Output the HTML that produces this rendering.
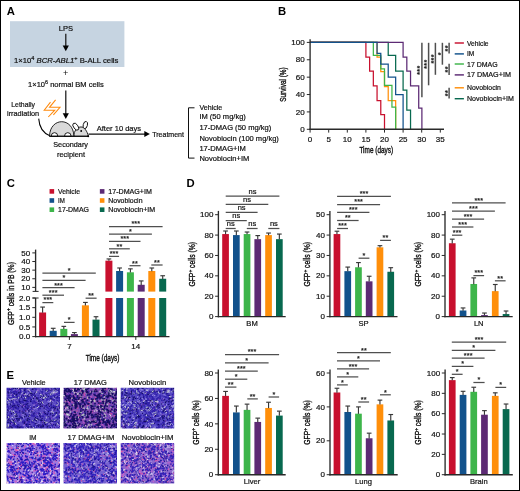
<!DOCTYPE html>
<html><head><meta charset="utf-8"><title>Figure</title>
<style>
html,body{margin:0;padding:0;background:#fff;}
body{width:520px;height:491px;overflow:hidden;position:relative;font-family:"Liberation Sans",sans-serif;}
svg{display:block;}
svg text{font-family:"Liberation Sans",sans-serif;}
#frame{position:absolute;left:0;top:0;width:518px;height:489px;border:1px solid #000;pointer-events:none;}
</style></head><body>
<svg width="520" height="491" viewBox="0 0 520 491">
<defs><filter id="bl" x="-5%" y="-5%" width="110%" height="110%"><feGaussianBlur stdDeviation="0.25"/></filter></defs>
<rect width="520" height="491" fill="#fff"/>
<g opacity="0.999">
<text x="6.80" y="15.10" font-size="11.3" font-weight="bold" fill="#000">A</text>
<rect x="10.00" y="21.20" width="114.40" height="45.80" fill="#c6d4e1"/>
<text x="65.90" y="31.30" font-size="7.5" text-anchor="middle" fill="#111" textLength="14.3" lengthAdjust="spacingAndGlyphs" stroke="#111" stroke-width="0.2">LPS</text>
<line x1="65.80" y1="33.80" x2="65.80" y2="47.70" stroke="#111" stroke-width="1.2"/>
<polygon points="65.80,51.20 62.70,45.60 68.90,45.60" fill="#000"/>
<text x="66.20" y="62.60" font-size="7.5" text-anchor="middle" fill="#111" textLength="104.5" lengthAdjust="spacingAndGlyphs" stroke="#111" stroke-width="0.2">1×10<tspan font-size="5.4" dy="-3.0">4</tspan><tspan dy="3.0"> </tspan><tspan font-style="italic">BCR-ABL1</tspan><tspan font-size="5.4" dy="-3.0">+</tspan><tspan dy="3.0"> B-ALL cells</tspan></text>
<text x="65.60" y="76.40" font-size="9" text-anchor="middle" fill="#111">+</text>
<text x="65.90" y="87.00" font-size="7.5" text-anchor="middle" fill="#111" textLength="75.7" lengthAdjust="spacingAndGlyphs" stroke="#111" stroke-width="0.2">1×10<tspan font-size="5.4" dy="-3.0">6</tspan><tspan dy="3.0"> normal BM cells</tspan></text>
<line x1="65.80" y1="90.40" x2="65.80" y2="115.40" stroke="#111" stroke-width="1.2"/>
<polygon points="65.80,118.90 62.70,113.30 68.90,113.30" fill="#000"/>
<text x="23.10" y="106.80" font-size="7.5" text-anchor="middle" fill="#111" textLength="23.7" lengthAdjust="spacingAndGlyphs" stroke="#111" stroke-width="0.2">Lethally</text>
<text x="23.10" y="115.90" font-size="7.5" text-anchor="middle" fill="#111" textLength="32.2" lengthAdjust="spacingAndGlyphs" stroke="#111" stroke-width="0.2">irradiation</text>
<g fill="none" stroke="#ff8a0d" stroke-width="1.05" stroke-linejoin="miter"><polyline points="50.5,102.1 44.2,110.2 54.7,110.2 48.3,117"/><polyline points="55.6,99.9 49.5,107.3 60,107.3 53.4,114.8"/></g>
<g transform="translate(0 0.25)"><g stroke="#000" stroke-width="0.85" stroke-linejoin="round"><path d="M38.7 118.4 C39.3 127 43 132.8 49.8 135.4" fill="none" stroke-width="1.05"/><ellipse cx="85.3" cy="124.8" rx="2.1" ry="3.7" transform="rotate(15 85.3 124.8)" fill="#fff"/><path d="M73.8 136 C73.8 130.5 77.5 126.7 81 126.7 C84.6 126.9 87.2 131 88.4 136 Z" fill="#d9d9d9"/><path d="M49.5 136 C50 116.6 73.4 116.6 73.9 136 Z" fill="#d9d9d9"/><ellipse cx="75.8" cy="126.4" rx="2.2" ry="4.0" transform="rotate(-36 75.8 126.4)" fill="#fff"/><path d="M51.2 136 A3.3 3.6 0 0 1 57.8 136 Z" fill="#fff"/><path d="M64.5 136 A3.3 3.6 0 0 1 71.1 136 Z" fill="#fff"/></g><circle cx="81.2" cy="130.8" r="0.95" fill="#000"/><circle cx="88.2" cy="135.9" r="1.0" fill="#000"/><line x1="49.3" y1="136" x2="88.5" y2="136" stroke="#000" stroke-width="1.0"/></g>
<text x="70.60" y="147.20" font-size="7.5" text-anchor="middle" fill="#111" textLength="34.7" lengthAdjust="spacingAndGlyphs" stroke="#111" stroke-width="0.2">Secondary</text>
<text x="71.00" y="156.60" font-size="7.5" text-anchor="middle" fill="#111" textLength="28" lengthAdjust="spacingAndGlyphs" stroke="#111" stroke-width="0.2">recipient</text>
<text x="96.70" y="130.70" font-size="7.5" fill="#111" textLength="44.4" lengthAdjust="spacingAndGlyphs" stroke="#111" stroke-width="0.2">After 10 days</text>
<line x1="88.50" y1="134.10" x2="146.00" y2="134.10" stroke="#111" stroke-width="1.2"/>
<polygon points="149.9,134.1 144.3,131.1 144.3,137.1" fill="#000"/>
<text x="152.20" y="136.80" font-size="7.5" fill="#111" textLength="31.8" lengthAdjust="spacingAndGlyphs" stroke="#111" stroke-width="0.2">Treatment</text>
<polyline points="194.5,107.8 188.5,107.8 188.5,158.1 194.5,158.1" fill="none" stroke="#111" stroke-width="1.0"/>
<text x="199.40" y="110.00" font-size="7.5" fill="#111" textLength="22.9" lengthAdjust="spacingAndGlyphs" stroke="#111" stroke-width="0.2">Vehicle</text>
<text x="199.40" y="119.40" font-size="7.5" fill="#111" textLength="46.5" lengthAdjust="spacingAndGlyphs" stroke="#111" stroke-width="0.2">IM (50 mg/kg)</text>
<text x="199.40" y="130.10" font-size="7.5" fill="#111" textLength="71.9" lengthAdjust="spacingAndGlyphs" stroke="#111" stroke-width="0.2">17-DMAG (50 mg/kg)</text>
<text x="199.40" y="140.50" font-size="7.5" fill="#111" textLength="79.5" lengthAdjust="spacingAndGlyphs" stroke="#111" stroke-width="0.2">Novobiocin (100 mg/kg)</text>
<text x="199.40" y="151.10" font-size="7.5" fill="#111" textLength="46.5" lengthAdjust="spacingAndGlyphs" stroke="#111" stroke-width="0.2">17-DMAG+IM</text>
<text x="199.40" y="161.00" font-size="7.5" fill="#111" textLength="49.9" lengthAdjust="spacingAndGlyphs" stroke="#111" stroke-width="0.2">Novobiocin+IM</text>
<text x="278.00" y="15.00" font-size="11.3" font-weight="bold" fill="#000">B</text>
<polyline points="310.10,42.40 377.06,42.40 377.06,57.17 380.78,57.17 380.78,71.51 384.50,71.51 384.50,86.72 388.22,86.72 388.22,100.62 395.66,100.62 395.66,107.58 395.66,107.58 395.66,129.30" fill="none" stroke="#ff8f0a" stroke-width="1.25" stroke-linejoin="miter"/>
<polyline points="310.10,42.40 373.34,42.40 373.34,55.44 380.78,55.44 380.78,68.90 384.50,68.90 384.50,85.42 391.94,85.42 391.94,107.14 395.66,107.14 395.66,129.30" fill="none" stroke="#3db54a" stroke-width="1.25" stroke-linejoin="miter"/>
<polyline points="310.10,42.40 365.90,42.40 365.90,57.17 369.62,57.17 369.62,71.08 373.34,71.08 373.34,85.85 377.06,85.85 377.06,100.62 380.78,100.62 380.78,114.53 384.50,114.53 384.50,129.30" fill="none" stroke="#c8102e" stroke-width="1.25" stroke-linejoin="miter"/>
<polyline points="310.10,42.40 388.22,42.40 388.22,55.44 395.66,55.44 395.66,71.08 403.10,71.08 403.10,90.20 406.82,90.20 406.82,110.18 410.54,110.18 410.54,129.30" fill="none" stroke="#08694f" stroke-width="1.25" stroke-linejoin="miter"/>
<polyline points="310.10,42.40 403.10,42.40 403.10,57.17 406.82,57.17 406.82,71.08 410.54,71.08 410.54,85.85 418.72,85.85 418.72,108.01 421.89,108.01 421.89,129.30" fill="none" stroke="#5c2a74" stroke-width="1.25" stroke-linejoin="miter"/>
<polyline points="310.10,42.40 377.06,42.40 377.06,53.26 380.78,53.26 380.78,64.13 388.22,64.13 388.22,77.16 395.66,77.16 395.66,94.54 403.10,94.54 403.10,129.30" fill="none" stroke="#12528c" stroke-width="1.25" stroke-linejoin="miter"/>
<line x1="310.10" y1="39.20" x2="310.10" y2="130.00" stroke="#2a2a2a" stroke-width="1.35"/>
<line x1="309.40" y1="129.30" x2="444.00" y2="129.30" stroke="#2a2a2a" stroke-width="1.4"/>
<line x1="306.80" y1="129.30" x2="310.10" y2="129.30" stroke="#2a2a2a" stroke-width="1.0"/>
<text x="304.70" y="131.95" font-size="8.0" text-anchor="end" fill="#111" stroke="#111" stroke-width="0.2">0</text>
<line x1="306.80" y1="111.92" x2="310.10" y2="111.92" stroke="#2a2a2a" stroke-width="1.0"/>
<text x="304.70" y="114.57" font-size="8.0" text-anchor="end" fill="#111" stroke="#111" stroke-width="0.2">20</text>
<line x1="306.80" y1="94.54" x2="310.10" y2="94.54" stroke="#2a2a2a" stroke-width="1.0"/>
<text x="304.70" y="97.19" font-size="8.0" text-anchor="end" fill="#111" stroke="#111" stroke-width="0.2">40</text>
<line x1="306.80" y1="77.16" x2="310.10" y2="77.16" stroke="#2a2a2a" stroke-width="1.0"/>
<text x="304.70" y="79.81" font-size="8.0" text-anchor="end" fill="#111" stroke="#111" stroke-width="0.2">60</text>
<line x1="306.80" y1="59.78" x2="310.10" y2="59.78" stroke="#2a2a2a" stroke-width="1.0"/>
<text x="304.70" y="62.43" font-size="8.0" text-anchor="end" fill="#111" stroke="#111" stroke-width="0.2">80</text>
<line x1="306.80" y1="42.40" x2="310.10" y2="42.40" stroke="#2a2a2a" stroke-width="1.0"/>
<text x="304.70" y="45.05" font-size="8.0" text-anchor="end" fill="#111" stroke="#111" stroke-width="0.2">100</text>
<line x1="310.10" y1="129.30" x2="310.10" y2="132.60" stroke="#2a2a2a" stroke-width="1.0"/>
<text x="310.10" y="141.55" font-size="8.0" text-anchor="middle" fill="#111" stroke="#111" stroke-width="0.2">0</text>
<line x1="328.70" y1="129.30" x2="328.70" y2="132.60" stroke="#2a2a2a" stroke-width="1.0"/>
<text x="328.70" y="141.55" font-size="8.0" text-anchor="middle" fill="#111" stroke="#111" stroke-width="0.2">5</text>
<line x1="347.30" y1="129.30" x2="347.30" y2="132.60" stroke="#2a2a2a" stroke-width="1.0"/>
<text x="347.30" y="141.55" font-size="8.0" text-anchor="middle" fill="#111" stroke="#111" stroke-width="0.2">10</text>
<line x1="365.90" y1="129.30" x2="365.90" y2="132.60" stroke="#2a2a2a" stroke-width="1.0"/>
<text x="365.90" y="141.55" font-size="8.0" text-anchor="middle" fill="#111" stroke="#111" stroke-width="0.2">15</text>
<line x1="384.50" y1="129.30" x2="384.50" y2="132.60" stroke="#2a2a2a" stroke-width="1.0"/>
<text x="384.50" y="141.55" font-size="8.0" text-anchor="middle" fill="#111" stroke="#111" stroke-width="0.2">20</text>
<line x1="403.10" y1="129.30" x2="403.10" y2="132.60" stroke="#2a2a2a" stroke-width="1.0"/>
<text x="403.10" y="141.55" font-size="8.0" text-anchor="middle" fill="#111" stroke="#111" stroke-width="0.2">25</text>
<line x1="421.70" y1="129.30" x2="421.70" y2="132.60" stroke="#2a2a2a" stroke-width="1.0"/>
<text x="421.70" y="141.55" font-size="8.0" text-anchor="middle" fill="#111" stroke="#111" stroke-width="0.2">30</text>
<line x1="440.30" y1="129.30" x2="440.30" y2="132.60" stroke="#2a2a2a" stroke-width="1.0"/>
<text x="440.30" y="141.55" font-size="8.0" text-anchor="middle" fill="#111" stroke="#111" stroke-width="0.2">35</text>
<text x="0" y="0" transform="translate(285.60 84.60) rotate(-90)" font-size="8.8" text-anchor="middle" fill="#111" textLength="34.3" lengthAdjust="spacingAndGlyphs" stroke="#111" stroke-width="0.38">Survival (%)</text>
<text x="376.30" y="153.40" font-size="8.8" text-anchor="middle" fill="#111" textLength="33.8" lengthAdjust="spacingAndGlyphs" stroke="#111" stroke-width="0.38">Time (days)</text>
<line x1="454.70" y1="43.00" x2="463.90" y2="43.00" stroke="#c8102e" stroke-width="1.45"/>
<text x="467.00" y="45.50" font-size="7" fill="#111" textLength="21.6" lengthAdjust="spacingAndGlyphs" stroke="#111" stroke-width="0.2">Vehicle</text>
<line x1="454.70" y1="53.90" x2="463.90" y2="53.90" stroke="#12528c" stroke-width="1.45"/>
<text x="467.00" y="56.40" font-size="7" fill="#111" textLength="7.3" lengthAdjust="spacingAndGlyphs" stroke="#111" stroke-width="0.2">IM</text>
<line x1="454.70" y1="64.00" x2="463.90" y2="64.00" stroke="#3db54a" stroke-width="1.45"/>
<text x="467.00" y="66.50" font-size="7" fill="#111" textLength="30.6" lengthAdjust="spacingAndGlyphs" stroke="#111" stroke-width="0.2">17 DMAG</text>
<line x1="454.70" y1="74.90" x2="463.90" y2="74.90" stroke="#5c2a74" stroke-width="1.45"/>
<text x="467.00" y="77.40" font-size="7" fill="#111" textLength="44" lengthAdjust="spacingAndGlyphs" stroke="#111" stroke-width="0.2">17 DMAG+IM</text>
<line x1="454.70" y1="87.80" x2="463.90" y2="87.80" stroke="#ff8f0a" stroke-width="1.45"/>
<text x="467.00" y="90.30" font-size="7" fill="#111" textLength="33.9" lengthAdjust="spacingAndGlyphs" stroke="#111" stroke-width="0.2">Novobiocin</text>
<line x1="454.70" y1="98.70" x2="463.90" y2="98.70" stroke="#08694f" stroke-width="1.45"/>
<text x="467.00" y="101.20" font-size="7" fill="#111" textLength="46.9" lengthAdjust="spacingAndGlyphs" stroke="#111" stroke-width="0.2">Novobiocin+IM</text>
<line x1="421.90" y1="42.80" x2="421.90" y2="97.30" stroke="#4f4f4f" stroke-width="1.5"/>
<text x="0" y="0" transform="translate(422.30 70.05) rotate(-90)" font-size="6.9" text-anchor="middle" font-weight="bold" fill="#222" stroke="#222" stroke-width="0.2" letter-spacing="0.5">***</text>
<line x1="428.60" y1="42.80" x2="428.60" y2="85.30" stroke="#4f4f4f" stroke-width="1.5"/>
<text x="0" y="0" transform="translate(429.00 64.05) rotate(-90)" font-size="6.9" text-anchor="middle" font-weight="bold" fill="#222" stroke="#222" stroke-width="0.2" letter-spacing="0.5">***</text>
<line x1="435.40" y1="42.80" x2="435.40" y2="74.80" stroke="#4f4f4f" stroke-width="1.5"/>
<text x="0" y="0" transform="translate(435.80 58.80) rotate(-90)" font-size="6.9" text-anchor="middle" font-weight="bold" fill="#222" stroke="#222" stroke-width="0.2" letter-spacing="0.5">***</text>
<line x1="442.40" y1="42.80" x2="442.40" y2="64.70" stroke="#4f4f4f" stroke-width="1.5"/>
<text x="0" y="0" transform="translate(442.80 53.75) rotate(-90)" font-size="6.9" text-anchor="middle" font-weight="bold" fill="#222" stroke="#222" stroke-width="0.2" letter-spacing="0.5">*</text>
<line x1="449.10" y1="42.80" x2="449.10" y2="53.60" stroke="#4f4f4f" stroke-width="1.5"/>
<text x="0" y="0" transform="translate(449.50 48.20) rotate(-90)" font-size="6.9" text-anchor="middle" font-weight="bold" fill="#222" stroke="#222" stroke-width="0.2" letter-spacing="0.5">**</text>
<line x1="449.10" y1="63.70" x2="449.10" y2="74.90" stroke="#4f4f4f" stroke-width="1.5"/>
<text x="0" y="0" transform="translate(449.50 69.30) rotate(-90)" font-size="6.9" text-anchor="middle" font-weight="bold" fill="#222" stroke="#222" stroke-width="0.2" letter-spacing="0.5">**</text>
<line x1="449.10" y1="87.70" x2="449.10" y2="98.50" stroke="#4f4f4f" stroke-width="1.5"/>
<text x="0" y="0" transform="translate(449.50 93.10) rotate(-90)" font-size="6.9" text-anchor="middle" font-weight="bold" fill="#222" stroke="#222" stroke-width="0.2" letter-spacing="0.5">**</text>
<text x="6.70" y="187.00" font-size="11.3" font-weight="bold" fill="#000">C</text>
<rect x="49.55" y="189.10" width="4.60" height="4.60" fill="#c8102e"/>
<text x="58.00" y="193.80" font-size="7" fill="#111" textLength="22" lengthAdjust="spacingAndGlyphs" stroke="#111" stroke-width="0.2">Vehicle</text>
<rect x="49.55" y="198.20" width="4.60" height="4.60" fill="#12528c"/>
<text x="58.00" y="202.90" font-size="7" fill="#111" textLength="6.8" lengthAdjust="spacingAndGlyphs" stroke="#111" stroke-width="0.2">IM</text>
<rect x="49.55" y="207.40" width="4.60" height="4.60" fill="#3db54a"/>
<text x="58.00" y="212.10" font-size="7" fill="#111" textLength="31" lengthAdjust="spacingAndGlyphs" stroke="#111" stroke-width="0.2">17-DMAG</text>
<rect x="99.85" y="189.10" width="4.60" height="4.60" fill="#5c2a74"/>
<text x="108.30" y="193.80" font-size="7" fill="#111" textLength="43.6" lengthAdjust="spacingAndGlyphs" stroke="#111" stroke-width="0.2">17-DMAG+IM</text>
<rect x="99.85" y="198.20" width="4.60" height="4.60" fill="#ff8f0a"/>
<text x="108.30" y="202.90" font-size="7" fill="#111" textLength="34.2" lengthAdjust="spacingAndGlyphs" stroke="#111" stroke-width="0.2">Novobiocin</text>
<rect x="99.85" y="207.40" width="4.60" height="4.60" fill="#08694f"/>
<text x="108.30" y="212.10" font-size="7" fill="#111" textLength="46.9" lengthAdjust="spacingAndGlyphs" stroke="#111" stroke-width="0.2">Novobiocin+IM</text>
<rect x="39.10" y="312.48" width="7.00" height="24.12" fill="#c8102e"/>
<line x1="42.60" y1="312.68" x2="42.60" y2="307.07" stroke="#383838" stroke-width="1.15"/>
<line x1="40.25" y1="307.07" x2="44.95" y2="307.07" stroke="#383838" stroke-width="1.15"/>
<rect x="49.70" y="330.81" width="7.00" height="5.79" fill="#12528c"/>
<line x1="53.20" y1="331.01" x2="53.20" y2="328.30" stroke="#383838" stroke-width="1.15"/>
<line x1="50.85" y1="328.30" x2="55.55" y2="328.30" stroke="#383838" stroke-width="1.15"/>
<rect x="60.30" y="328.88" width="7.00" height="7.72" fill="#3db54a"/>
<line x1="63.80" y1="329.08" x2="63.80" y2="326.37" stroke="#383838" stroke-width="1.15"/>
<line x1="61.45" y1="326.37" x2="66.15" y2="326.37" stroke="#383838" stroke-width="1.15"/>
<rect x="70.90" y="334.09" width="7.00" height="2.51" fill="#5c2a74"/>
<line x1="74.40" y1="334.29" x2="74.40" y2="332.55" stroke="#383838" stroke-width="1.15"/>
<line x1="72.05" y1="332.55" x2="76.75" y2="332.55" stroke="#383838" stroke-width="1.15"/>
<rect x="81.90" y="305.33" width="7.00" height="31.27" fill="#ff8f0a"/>
<line x1="85.40" y1="305.53" x2="85.40" y2="302.44" stroke="#383838" stroke-width="1.15"/>
<line x1="83.05" y1="302.44" x2="87.75" y2="302.44" stroke="#383838" stroke-width="1.15"/>
<rect x="92.50" y="319.62" width="7.00" height="16.98" fill="#08694f"/>
<line x1="96.00" y1="319.82" x2="96.00" y2="316.72" stroke="#383838" stroke-width="1.15"/>
<line x1="93.65" y1="316.72" x2="98.35" y2="316.72" stroke="#383838" stroke-width="1.15"/>
<rect x="105.40" y="298.00" width="7.00" height="38.60" fill="#c8102e"/>
<rect x="105.40" y="260.66" width="7.00" height="30.94" fill="#c8102e"/>
<line x1="108.90" y1="260.86" x2="108.90" y2="258.94" stroke="#383838" stroke-width="1.15"/>
<line x1="106.55" y1="258.94" x2="111.25" y2="258.94" stroke="#383838" stroke-width="1.15"/>
<rect x="116.10" y="298.00" width="7.00" height="38.60" fill="#12528c"/>
<rect x="116.10" y="271.00" width="7.00" height="20.60" fill="#12528c"/>
<line x1="119.60" y1="271.20" x2="119.60" y2="267.99" stroke="#383838" stroke-width="1.15"/>
<line x1="117.25" y1="267.99" x2="121.95" y2="267.99" stroke="#383838" stroke-width="1.15"/>
<rect x="126.90" y="298.00" width="7.00" height="38.60" fill="#3db54a"/>
<rect x="126.90" y="272.30" width="7.00" height="19.31" fill="#3db54a"/>
<line x1="130.40" y1="272.50" x2="130.40" y2="268.86" stroke="#383838" stroke-width="1.15"/>
<line x1="128.05" y1="268.86" x2="132.75" y2="268.86" stroke="#383838" stroke-width="1.15"/>
<rect x="137.70" y="298.00" width="7.00" height="38.60" fill="#5c2a74"/>
<rect x="137.70" y="284.79" width="7.00" height="6.81" fill="#5c2a74"/>
<line x1="141.20" y1="284.99" x2="141.20" y2="280.92" stroke="#383838" stroke-width="1.15"/>
<line x1="138.85" y1="280.92" x2="143.55" y2="280.92" stroke="#383838" stroke-width="1.15"/>
<rect x="148.30" y="298.00" width="7.00" height="38.60" fill="#ff8f0a"/>
<rect x="148.30" y="271.00" width="7.00" height="20.60" fill="#ff8f0a"/>
<line x1="151.80" y1="271.20" x2="151.80" y2="267.99" stroke="#383838" stroke-width="1.15"/>
<line x1="149.45" y1="267.99" x2="154.15" y2="267.99" stroke="#383838" stroke-width="1.15"/>
<rect x="159.20" y="298.00" width="7.00" height="38.60" fill="#08694f"/>
<rect x="159.20" y="278.76" width="7.00" height="12.84" fill="#08694f"/>
<line x1="162.70" y1="278.96" x2="162.70" y2="275.75" stroke="#383838" stroke-width="1.15"/>
<line x1="160.35" y1="275.75" x2="165.05" y2="275.75" stroke="#383838" stroke-width="1.15"/>
<line x1="35.60" y1="249.60" x2="35.60" y2="291.40" stroke="#2a2a2a" stroke-width="1.35"/>
<line x1="35.60" y1="298.00" x2="35.60" y2="337.30" stroke="#2a2a2a" stroke-width="1.35"/>
<line x1="32.60" y1="291.40" x2="38.60" y2="291.40" stroke="#2a2a2a" stroke-width="1.0"/>
<line x1="32.60" y1="298.00" x2="38.60" y2="298.00" stroke="#2a2a2a" stroke-width="1.0"/>
<line x1="34.90" y1="336.60" x2="169.50" y2="336.60" stroke="#2a2a2a" stroke-width="1.4"/>
<line x1="32.30" y1="287.38" x2="35.60" y2="287.38" stroke="#2a2a2a" stroke-width="1.0"/>
<text x="30.20" y="290.03" font-size="8.0" text-anchor="end" fill="#111" stroke="#111" stroke-width="0.2">10</text>
<line x1="32.30" y1="278.76" x2="35.60" y2="278.76" stroke="#2a2a2a" stroke-width="1.0"/>
<text x="30.20" y="281.41" font-size="8.0" text-anchor="end" fill="#111" stroke="#111" stroke-width="0.2">20</text>
<line x1="32.30" y1="270.14" x2="35.60" y2="270.14" stroke="#2a2a2a" stroke-width="1.0"/>
<text x="30.20" y="272.79" font-size="8.0" text-anchor="end" fill="#111" stroke="#111" stroke-width="0.2">30</text>
<line x1="32.30" y1="261.52" x2="35.60" y2="261.52" stroke="#2a2a2a" stroke-width="1.0"/>
<text x="30.20" y="264.17" font-size="8.0" text-anchor="end" fill="#111" stroke="#111" stroke-width="0.2">40</text>
<line x1="32.30" y1="252.90" x2="35.60" y2="252.90" stroke="#2a2a2a" stroke-width="1.0"/>
<text x="30.20" y="255.55" font-size="8.0" text-anchor="end" fill="#111" stroke="#111" stroke-width="0.2">50</text>
<line x1="32.30" y1="336.60" x2="35.60" y2="336.60" stroke="#2a2a2a" stroke-width="1.0"/>
<text x="30.20" y="339.25" font-size="8.0" text-anchor="end" fill="#111" textLength="11.3" lengthAdjust="spacingAndGlyphs" stroke="#111" stroke-width="0.2">0.0</text>
<line x1="32.30" y1="326.95" x2="35.60" y2="326.95" stroke="#2a2a2a" stroke-width="1.0"/>
<text x="30.20" y="329.60" font-size="8.0" text-anchor="end" fill="#111" textLength="11.3" lengthAdjust="spacingAndGlyphs" stroke="#111" stroke-width="0.2">0.5</text>
<line x1="32.30" y1="317.30" x2="35.60" y2="317.30" stroke="#2a2a2a" stroke-width="1.0"/>
<text x="30.20" y="319.95" font-size="8.0" text-anchor="end" fill="#111" textLength="11.3" lengthAdjust="spacingAndGlyphs" stroke="#111" stroke-width="0.2">1.0</text>
<line x1="32.30" y1="307.65" x2="35.60" y2="307.65" stroke="#2a2a2a" stroke-width="1.0"/>
<text x="30.20" y="310.30" font-size="8.0" text-anchor="end" fill="#111" textLength="11.3" lengthAdjust="spacingAndGlyphs" stroke="#111" stroke-width="0.2">1.5</text>
<line x1="32.30" y1="298.00" x2="35.60" y2="298.00" stroke="#2a2a2a" stroke-width="1.0"/>
<text x="30.20" y="300.65" font-size="8.0" text-anchor="end" fill="#111" textLength="11.3" lengthAdjust="spacingAndGlyphs" stroke="#111" stroke-width="0.2">2.0</text>
<line x1="69.40" y1="336.60" x2="69.40" y2="339.90" stroke="#2a2a2a" stroke-width="1.0"/>
<line x1="135.80" y1="336.60" x2="135.80" y2="339.90" stroke="#2a2a2a" stroke-width="1.0"/>
<text x="69.40" y="349.00" font-size="8.0" text-anchor="middle" fill="#111" stroke="#111" stroke-width="0.2">7</text>
<text x="135.80" y="349.00" font-size="8.0" text-anchor="middle" fill="#111" stroke="#111" stroke-width="0.2">14</text>
<text x="102.60" y="361.00" font-size="8.8" text-anchor="middle" fill="#111" textLength="33.8" lengthAdjust="spacingAndGlyphs" stroke="#111" stroke-width="0.38">Time (days)</text>
<text x="0" y="0" transform="translate(13.60 293.60) rotate(-90)" font-size="8.6" text-anchor="middle" fill="#111" textLength="63" lengthAdjust="spacingAndGlyphs" stroke="#111" stroke-width="0.38">GFP<tspan font-size="6.2" dy="-3.2">+</tspan><tspan dy="3.2"> cells in PB (%)</tspan></text>
<line x1="42.40" y1="273.00" x2="95.80" y2="273.00" stroke="#4f4f4f" stroke-width="1.25"/>
<text x="69.10" y="272.80" font-size="7.2" text-anchor="middle" font-weight="bold" fill="#222" stroke="#222" stroke-width="0.1" letter-spacing="0.1">*</text>
<line x1="42.40" y1="280.40" x2="85.60" y2="280.40" stroke="#4f4f4f" stroke-width="1.25"/>
<text x="64.00" y="280.20" font-size="7.2" text-anchor="middle" font-weight="bold" fill="#222" stroke="#222" stroke-width="0.1" letter-spacing="0.1">*</text>
<line x1="42.40" y1="287.70" x2="74.60" y2="287.70" stroke="#4f4f4f" stroke-width="1.25"/>
<text x="58.50" y="287.50" font-size="7.2" text-anchor="middle" font-weight="bold" fill="#222" stroke="#222" stroke-width="0.1" letter-spacing="0.1">***</text>
<line x1="42.40" y1="295.20" x2="64.00" y2="295.20" stroke="#4f4f4f" stroke-width="1.25"/>
<text x="53.20" y="295.00" font-size="7.2" text-anchor="middle" font-weight="bold" fill="#222" stroke="#222" stroke-width="0.1" letter-spacing="0.1">***</text>
<line x1="42.40" y1="302.60" x2="53.30" y2="302.60" stroke="#4f4f4f" stroke-width="1.25"/>
<text x="47.85" y="302.40" font-size="7.2" text-anchor="middle" font-weight="bold" fill="#222" stroke="#222" stroke-width="0.1" letter-spacing="0.1">***</text>
<line x1="64.00" y1="322.40" x2="74.60" y2="322.40" stroke="#4f4f4f" stroke-width="1.25"/>
<text x="69.30" y="322.20" font-size="7.2" text-anchor="middle" font-weight="bold" fill="#222" stroke="#222" stroke-width="0.1" letter-spacing="0.1">*</text>
<line x1="85.60" y1="298.20" x2="96.60" y2="298.20" stroke="#4f4f4f" stroke-width="1.25"/>
<text x="91.10" y="298.00" font-size="7.2" text-anchor="middle" font-weight="bold" fill="#222" stroke="#222" stroke-width="0.1" letter-spacing="0.1">**</text>
<line x1="109.00" y1="226.50" x2="162.60" y2="226.50" stroke="#4f4f4f" stroke-width="1.25"/>
<text x="135.80" y="226.30" font-size="7.2" text-anchor="middle" font-weight="bold" fill="#222" stroke="#222" stroke-width="0.1" letter-spacing="0.1">***</text>
<line x1="109.00" y1="234.00" x2="151.90" y2="234.00" stroke="#4f4f4f" stroke-width="1.25"/>
<text x="130.45" y="233.80" font-size="7.2" text-anchor="middle" font-weight="bold" fill="#222" stroke="#222" stroke-width="0.1" letter-spacing="0.1">*</text>
<line x1="109.00" y1="241.40" x2="140.50" y2="241.40" stroke="#4f4f4f" stroke-width="1.25"/>
<text x="124.75" y="241.20" font-size="7.2" text-anchor="middle" font-weight="bold" fill="#222" stroke="#222" stroke-width="0.1" letter-spacing="0.1">***</text>
<line x1="109.00" y1="248.80" x2="129.80" y2="248.80" stroke="#4f4f4f" stroke-width="1.25"/>
<text x="119.40" y="248.60" font-size="7.2" text-anchor="middle" font-weight="bold" fill="#222" stroke="#222" stroke-width="0.1" letter-spacing="0.1">**</text>
<line x1="109.00" y1="256.40" x2="119.10" y2="256.40" stroke="#4f4f4f" stroke-width="1.25"/>
<text x="114.05" y="256.20" font-size="7.2" text-anchor="middle" font-weight="bold" fill="#222" stroke="#222" stroke-width="0.1" letter-spacing="0.1">***</text>
<line x1="129.50" y1="265.70" x2="140.50" y2="265.70" stroke="#4f4f4f" stroke-width="1.25"/>
<text x="135.00" y="265.50" font-size="7.2" text-anchor="middle" font-weight="bold" fill="#222" stroke="#222" stroke-width="0.1" letter-spacing="0.1">**</text>
<line x1="151.30" y1="265.00" x2="162.60" y2="265.00" stroke="#4f4f4f" stroke-width="1.25"/>
<text x="156.95" y="264.80" font-size="7.2" text-anchor="middle" font-weight="bold" fill="#222" stroke="#222" stroke-width="0.1" letter-spacing="0.1">**</text>
<text x="186.50" y="186.90" font-size="11.3" font-weight="bold" fill="#000">D</text>
<rect x="222.20" y="234.06" width="6.70" height="82.54" fill="#c8102e"/>
<line x1="225.55" y1="234.26" x2="225.55" y2="231.00" stroke="#383838" stroke-width="1.15"/>
<line x1="223.20" y1="231.00" x2="227.90" y2="231.00" stroke="#383838" stroke-width="1.15"/>
<rect x="233.00" y="235.08" width="6.70" height="81.52" fill="#12528c"/>
<line x1="236.35" y1="235.28" x2="236.35" y2="231.00" stroke="#383838" stroke-width="1.15"/>
<line x1="234.00" y1="231.00" x2="238.70" y2="231.00" stroke="#383838" stroke-width="1.15"/>
<rect x="243.70" y="234.06" width="6.70" height="82.54" fill="#3db54a"/>
<line x1="247.05" y1="234.26" x2="247.05" y2="232.02" stroke="#383838" stroke-width="1.15"/>
<line x1="244.70" y1="232.02" x2="249.40" y2="232.02" stroke="#383838" stroke-width="1.15"/>
<rect x="254.40" y="239.16" width="6.70" height="77.44" fill="#5c2a74"/>
<line x1="257.75" y1="239.36" x2="257.75" y2="235.59" stroke="#383838" stroke-width="1.15"/>
<line x1="255.40" y1="235.59" x2="260.10" y2="235.59" stroke="#383838" stroke-width="1.15"/>
<rect x="265.20" y="235.08" width="6.70" height="81.52" fill="#ff8f0a"/>
<line x1="268.55" y1="235.28" x2="268.55" y2="233.04" stroke="#383838" stroke-width="1.15"/>
<line x1="266.20" y1="233.04" x2="270.90" y2="233.04" stroke="#383838" stroke-width="1.15"/>
<rect x="276.00" y="239.16" width="6.70" height="77.44" fill="#08694f"/>
<line x1="279.35" y1="239.36" x2="279.35" y2="234.06" stroke="#383838" stroke-width="1.15"/>
<line x1="277.00" y1="234.06" x2="281.70" y2="234.06" stroke="#383838" stroke-width="1.15"/>
<line x1="218.40" y1="210.90" x2="218.40" y2="317.30" stroke="#2a2a2a" stroke-width="1.35"/>
<line x1="217.70" y1="316.60" x2="285.70" y2="316.60" stroke="#2a2a2a" stroke-width="1.4"/>
<line x1="215.10" y1="316.60" x2="218.40" y2="316.60" stroke="#2a2a2a" stroke-width="1.0"/>
<text x="213.40" y="319.25" font-size="8.0" text-anchor="end" fill="#111" stroke="#111" stroke-width="0.2">0</text>
<line x1="215.10" y1="296.22" x2="218.40" y2="296.22" stroke="#2a2a2a" stroke-width="1.0"/>
<text x="213.40" y="298.87" font-size="8.0" text-anchor="end" fill="#111" stroke="#111" stroke-width="0.2">20</text>
<line x1="215.10" y1="275.84" x2="218.40" y2="275.84" stroke="#2a2a2a" stroke-width="1.0"/>
<text x="213.40" y="278.49" font-size="8.0" text-anchor="end" fill="#111" stroke="#111" stroke-width="0.2">40</text>
<line x1="215.10" y1="255.46" x2="218.40" y2="255.46" stroke="#2a2a2a" stroke-width="1.0"/>
<text x="213.40" y="258.11" font-size="8.0" text-anchor="end" fill="#111" stroke="#111" stroke-width="0.2">60</text>
<line x1="215.10" y1="235.08" x2="218.40" y2="235.08" stroke="#2a2a2a" stroke-width="1.0"/>
<text x="213.40" y="237.73" font-size="8.0" text-anchor="end" fill="#111" stroke="#111" stroke-width="0.2">80</text>
<line x1="215.10" y1="214.70" x2="218.40" y2="214.70" stroke="#2a2a2a" stroke-width="1.0"/>
<text x="213.40" y="217.35" font-size="8.0" text-anchor="end" fill="#111" stroke="#111" stroke-width="0.2">100</text>
<text x="252.05" y="326.20" font-size="7.6" text-anchor="middle" fill="#111" stroke="#111" stroke-width="0.2">BM</text>
<text x="0" y="0" transform="translate(195.10 264.25) rotate(-90)" font-size="8.8" text-anchor="middle" fill="#111" textLength="44.6" lengthAdjust="spacingAndGlyphs" stroke="#111" stroke-width="0.38">GFP<tspan font-size="6.2" dy="-3.2">+</tspan><tspan dy="3.2"> cells (%)</tspan></text>
<line x1="225.70" y1="196.20" x2="279.40" y2="196.20" stroke="#4f4f4f" stroke-width="1.25"/>
<text x="252.55" y="194.00" font-size="7.5" text-anchor="middle" fill="#111" stroke="#111" stroke-width="0.2">ns</text>
<line x1="225.70" y1="204.40" x2="268.30" y2="204.40" stroke="#4f4f4f" stroke-width="1.25"/>
<text x="247.00" y="202.20" font-size="7.5" text-anchor="middle" fill="#111" stroke="#111" stroke-width="0.2">ns</text>
<line x1="225.70" y1="212.40" x2="257.60" y2="212.40" stroke="#4f4f4f" stroke-width="1.25"/>
<text x="241.65" y="210.20" font-size="7.5" text-anchor="middle" fill="#111" stroke="#111" stroke-width="0.2">ns</text>
<line x1="225.70" y1="220.60" x2="246.80" y2="220.60" stroke="#4f4f4f" stroke-width="1.25"/>
<text x="236.25" y="218.40" font-size="7.5" text-anchor="middle" fill="#111" stroke="#111" stroke-width="0.2">ns</text>
<line x1="225.70" y1="228.50" x2="235.70" y2="228.50" stroke="#4f4f4f" stroke-width="1.25"/>
<text x="230.70" y="226.30" font-size="7.5" text-anchor="middle" fill="#111" stroke="#111" stroke-width="0.2">ns</text>
<line x1="246.80" y1="228.50" x2="257.60" y2="228.50" stroke="#4f4f4f" stroke-width="1.25"/>
<text x="252.20" y="226.30" font-size="7.5" text-anchor="middle" fill="#111" stroke="#111" stroke-width="0.2">ns</text>
<line x1="268.30" y1="228.50" x2="279.40" y2="228.50" stroke="#4f4f4f" stroke-width="1.25"/>
<text x="273.85" y="226.30" font-size="7.5" text-anchor="middle" fill="#111" stroke="#111" stroke-width="0.2">ns</text>
<rect x="333.60" y="234.06" width="6.70" height="82.54" fill="#c8102e"/>
<line x1="336.95" y1="234.26" x2="336.95" y2="231.21" stroke="#383838" stroke-width="1.15"/>
<line x1="334.60" y1="231.21" x2="339.30" y2="231.21" stroke="#383838" stroke-width="1.15"/>
<rect x="344.40" y="271.15" width="6.70" height="45.45" fill="#12528c"/>
<line x1="347.75" y1="271.35" x2="347.75" y2="267.08" stroke="#383838" stroke-width="1.15"/>
<line x1="345.40" y1="267.08" x2="350.10" y2="267.08" stroke="#383838" stroke-width="1.15"/>
<rect x="355.10" y="267.28" width="6.70" height="49.32" fill="#3db54a"/>
<line x1="358.45" y1="267.48" x2="358.45" y2="262.59" stroke="#383838" stroke-width="1.15"/>
<line x1="356.10" y1="262.59" x2="360.80" y2="262.59" stroke="#383838" stroke-width="1.15"/>
<rect x="365.80" y="281.34" width="6.70" height="35.26" fill="#5c2a74"/>
<line x1="369.15" y1="281.54" x2="369.15" y2="276.25" stroke="#383838" stroke-width="1.15"/>
<line x1="366.80" y1="276.25" x2="371.50" y2="276.25" stroke="#383838" stroke-width="1.15"/>
<rect x="376.60" y="247.31" width="6.70" height="69.29" fill="#ff8f0a"/>
<line x1="379.95" y1="247.51" x2="379.95" y2="245.68" stroke="#383838" stroke-width="1.15"/>
<line x1="377.60" y1="245.68" x2="382.30" y2="245.68" stroke="#383838" stroke-width="1.15"/>
<rect x="387.40" y="271.76" width="6.70" height="44.84" fill="#08694f"/>
<line x1="390.75" y1="271.96" x2="390.75" y2="267.69" stroke="#383838" stroke-width="1.15"/>
<line x1="388.40" y1="267.69" x2="393.10" y2="267.69" stroke="#383838" stroke-width="1.15"/>
<line x1="329.90" y1="210.90" x2="329.90" y2="317.30" stroke="#2a2a2a" stroke-width="1.35"/>
<line x1="329.20" y1="316.60" x2="397.50" y2="316.60" stroke="#2a2a2a" stroke-width="1.4"/>
<line x1="326.60" y1="316.60" x2="329.90" y2="316.60" stroke="#2a2a2a" stroke-width="1.0"/>
<text x="324.90" y="319.25" font-size="8.0" text-anchor="end" fill="#111" stroke="#111" stroke-width="0.2">0</text>
<line x1="326.60" y1="296.22" x2="329.90" y2="296.22" stroke="#2a2a2a" stroke-width="1.0"/>
<text x="324.90" y="298.87" font-size="8.0" text-anchor="end" fill="#111" stroke="#111" stroke-width="0.2">10</text>
<line x1="326.60" y1="275.84" x2="329.90" y2="275.84" stroke="#2a2a2a" stroke-width="1.0"/>
<text x="324.90" y="278.49" font-size="8.0" text-anchor="end" fill="#111" stroke="#111" stroke-width="0.2">20</text>
<line x1="326.60" y1="255.46" x2="329.90" y2="255.46" stroke="#2a2a2a" stroke-width="1.0"/>
<text x="324.90" y="258.11" font-size="8.0" text-anchor="end" fill="#111" stroke="#111" stroke-width="0.2">30</text>
<line x1="326.60" y1="235.08" x2="329.90" y2="235.08" stroke="#2a2a2a" stroke-width="1.0"/>
<text x="324.90" y="237.73" font-size="8.0" text-anchor="end" fill="#111" stroke="#111" stroke-width="0.2">40</text>
<line x1="326.60" y1="214.70" x2="329.90" y2="214.70" stroke="#2a2a2a" stroke-width="1.0"/>
<text x="324.90" y="217.35" font-size="8.0" text-anchor="end" fill="#111" stroke="#111" stroke-width="0.2">50</text>
<text x="363.45" y="326.20" font-size="7.6" text-anchor="middle" fill="#111" stroke="#111" stroke-width="0.2">SP</text>
<text x="0" y="0" transform="translate(310.10 264.25) rotate(-90)" font-size="8.8" text-anchor="middle" fill="#111" textLength="44.6" lengthAdjust="spacingAndGlyphs" stroke="#111" stroke-width="0.38">GFP<tspan font-size="6.2" dy="-3.2">+</tspan><tspan dy="3.2"> cells (%)</tspan></text>
<line x1="337.10" y1="196.40" x2="390.90" y2="196.40" stroke="#4f4f4f" stroke-width="1.25"/>
<text x="364.00" y="196.20" font-size="7.2" text-anchor="middle" font-weight="bold" fill="#222" stroke="#222" stroke-width="0.1" letter-spacing="0.1">***</text>
<line x1="337.10" y1="204.50" x2="380.10" y2="204.50" stroke="#4f4f4f" stroke-width="1.25"/>
<text x="358.60" y="204.30" font-size="7.2" text-anchor="middle" font-weight="bold" fill="#222" stroke="#222" stroke-width="0.1" letter-spacing="0.1">***</text>
<line x1="337.10" y1="212.40" x2="369.40" y2="212.40" stroke="#4f4f4f" stroke-width="1.25"/>
<text x="353.25" y="212.20" font-size="7.2" text-anchor="middle" font-weight="bold" fill="#222" stroke="#222" stroke-width="0.1" letter-spacing="0.1">***</text>
<line x1="337.10" y1="220.50" x2="358.60" y2="220.50" stroke="#4f4f4f" stroke-width="1.25"/>
<text x="347.85" y="220.30" font-size="7.2" text-anchor="middle" font-weight="bold" fill="#222" stroke="#222" stroke-width="0.1" letter-spacing="0.1">**</text>
<line x1="337.10" y1="228.50" x2="348.00" y2="228.50" stroke="#4f4f4f" stroke-width="1.25"/>
<text x="342.55" y="228.30" font-size="7.2" text-anchor="middle" font-weight="bold" fill="#222" stroke="#222" stroke-width="0.1" letter-spacing="0.1">***</text>
<line x1="358.60" y1="258.20" x2="369.40" y2="258.20" stroke="#4f4f4f" stroke-width="1.25"/>
<text x="364.00" y="258.00" font-size="7.2" text-anchor="middle" font-weight="bold" fill="#222" stroke="#222" stroke-width="0.1" letter-spacing="0.1">*</text>
<line x1="380.10" y1="240.40" x2="390.90" y2="240.40" stroke="#4f4f4f" stroke-width="1.25"/>
<text x="385.50" y="240.20" font-size="7.2" text-anchor="middle" font-weight="bold" fill="#222" stroke="#222" stroke-width="0.1" letter-spacing="0.1">**</text>
<rect x="448.90" y="243.23" width="6.70" height="73.37" fill="#c8102e"/>
<line x1="452.25" y1="243.43" x2="452.25" y2="239.16" stroke="#383838" stroke-width="1.15"/>
<line x1="449.90" y1="239.16" x2="454.60" y2="239.16" stroke="#383838" stroke-width="1.15"/>
<rect x="459.70" y="310.49" width="6.70" height="6.11" fill="#12528c"/>
<line x1="463.05" y1="310.69" x2="463.05" y2="307.94" stroke="#383838" stroke-width="1.15"/>
<line x1="460.70" y1="307.94" x2="465.40" y2="307.94" stroke="#383838" stroke-width="1.15"/>
<rect x="470.40" y="283.99" width="6.70" height="32.61" fill="#3db54a"/>
<line x1="473.75" y1="284.19" x2="473.75" y2="277.88" stroke="#383838" stroke-width="1.15"/>
<line x1="471.40" y1="277.88" x2="476.10" y2="277.88" stroke="#383838" stroke-width="1.15"/>
<rect x="481.10" y="315.07" width="6.70" height="1.53" fill="#5c2a74"/>
<line x1="484.45" y1="315.27" x2="484.45" y2="313.03" stroke="#383838" stroke-width="1.15"/>
<line x1="482.10" y1="313.03" x2="486.80" y2="313.03" stroke="#383838" stroke-width="1.15"/>
<rect x="491.90" y="291.12" width="6.70" height="25.48" fill="#ff8f0a"/>
<line x1="495.25" y1="291.32" x2="495.25" y2="284.50" stroke="#383838" stroke-width="1.15"/>
<line x1="492.90" y1="284.50" x2="497.60" y2="284.50" stroke="#383838" stroke-width="1.15"/>
<rect x="502.70" y="314.05" width="6.70" height="2.55" fill="#08694f"/>
<line x1="506.05" y1="314.25" x2="506.05" y2="311.00" stroke="#383838" stroke-width="1.15"/>
<line x1="503.70" y1="311.00" x2="508.40" y2="311.00" stroke="#383838" stroke-width="1.15"/>
<line x1="445.00" y1="210.90" x2="445.00" y2="317.30" stroke="#2a2a2a" stroke-width="1.35"/>
<line x1="444.30" y1="316.60" x2="512.70" y2="316.60" stroke="#2a2a2a" stroke-width="1.4"/>
<line x1="441.70" y1="316.60" x2="445.00" y2="316.60" stroke="#2a2a2a" stroke-width="1.0"/>
<text x="440.00" y="319.25" font-size="8.0" text-anchor="end" fill="#111" stroke="#111" stroke-width="0.2">0</text>
<line x1="441.70" y1="296.22" x2="445.00" y2="296.22" stroke="#2a2a2a" stroke-width="1.0"/>
<text x="440.00" y="298.87" font-size="8.0" text-anchor="end" fill="#111" stroke="#111" stroke-width="0.2">20</text>
<line x1="441.70" y1="275.84" x2="445.00" y2="275.84" stroke="#2a2a2a" stroke-width="1.0"/>
<text x="440.00" y="278.49" font-size="8.0" text-anchor="end" fill="#111" stroke="#111" stroke-width="0.2">40</text>
<line x1="441.70" y1="255.46" x2="445.00" y2="255.46" stroke="#2a2a2a" stroke-width="1.0"/>
<text x="440.00" y="258.11" font-size="8.0" text-anchor="end" fill="#111" stroke="#111" stroke-width="0.2">60</text>
<line x1="441.70" y1="235.08" x2="445.00" y2="235.08" stroke="#2a2a2a" stroke-width="1.0"/>
<text x="440.00" y="237.73" font-size="8.0" text-anchor="end" fill="#111" stroke="#111" stroke-width="0.2">80</text>
<line x1="441.70" y1="214.70" x2="445.00" y2="214.70" stroke="#2a2a2a" stroke-width="1.0"/>
<text x="440.00" y="217.35" font-size="8.0" text-anchor="end" fill="#111" stroke="#111" stroke-width="0.2">100</text>
<text x="478.75" y="326.20" font-size="7.6" text-anchor="middle" fill="#111" stroke="#111" stroke-width="0.2">LN</text>
<text x="0" y="0" transform="translate(421.00 264.25) rotate(-90)" font-size="8.8" text-anchor="middle" fill="#111" textLength="44.6" lengthAdjust="spacingAndGlyphs" stroke="#111" stroke-width="0.38">GFP<tspan font-size="6.2" dy="-3.2">+</tspan><tspan dy="3.2"> cells (%)</tspan></text>
<line x1="452.00" y1="202.80" x2="505.60" y2="202.80" stroke="#4f4f4f" stroke-width="1.25"/>
<text x="478.80" y="202.60" font-size="7.2" text-anchor="middle" font-weight="bold" fill="#222" stroke="#222" stroke-width="0.1" letter-spacing="0.1">***</text>
<line x1="452.00" y1="211.00" x2="494.90" y2="211.00" stroke="#4f4f4f" stroke-width="1.25"/>
<text x="473.45" y="210.80" font-size="7.2" text-anchor="middle" font-weight="bold" fill="#222" stroke="#222" stroke-width="0.1" letter-spacing="0.1">***</text>
<line x1="452.00" y1="219.00" x2="484.10" y2="219.00" stroke="#4f4f4f" stroke-width="1.25"/>
<text x="468.05" y="218.80" font-size="7.2" text-anchor="middle" font-weight="bold" fill="#222" stroke="#222" stroke-width="0.1" letter-spacing="0.1">***</text>
<line x1="452.00" y1="227.00" x2="473.40" y2="227.00" stroke="#4f4f4f" stroke-width="1.25"/>
<text x="462.70" y="226.80" font-size="7.2" text-anchor="middle" font-weight="bold" fill="#222" stroke="#222" stroke-width="0.1" letter-spacing="0.1">***</text>
<line x1="452.00" y1="235.20" x2="462.30" y2="235.20" stroke="#4f4f4f" stroke-width="1.25"/>
<text x="457.15" y="235.00" font-size="7.2" text-anchor="middle" font-weight="bold" fill="#222" stroke="#222" stroke-width="0.1" letter-spacing="0.1">***</text>
<line x1="473.40" y1="275.60" x2="484.10" y2="275.60" stroke="#4f4f4f" stroke-width="1.25"/>
<text x="478.75" y="275.40" font-size="7.2" text-anchor="middle" font-weight="bold" fill="#222" stroke="#222" stroke-width="0.1" letter-spacing="0.1">***</text>
<line x1="494.90" y1="280.80" x2="505.60" y2="280.80" stroke="#4f4f4f" stroke-width="1.25"/>
<text x="500.25" y="280.60" font-size="7.2" text-anchor="middle" font-weight="bold" fill="#222" stroke="#222" stroke-width="0.1" letter-spacing="0.1">**</text>
<rect x="222.20" y="395.88" width="6.70" height="78.82" fill="#c8102e"/>
<line x1="225.55" y1="396.08" x2="225.55" y2="391.43" stroke="#383838" stroke-width="1.15"/>
<line x1="223.20" y1="391.43" x2="227.90" y2="391.43" stroke="#383838" stroke-width="1.15"/>
<rect x="233.00" y="412.41" width="6.70" height="62.29" fill="#12528c"/>
<line x1="236.35" y1="412.61" x2="236.35" y2="406.05" stroke="#383838" stroke-width="1.15"/>
<line x1="234.00" y1="406.05" x2="238.70" y2="406.05" stroke="#383838" stroke-width="1.15"/>
<rect x="243.70" y="409.87" width="6.70" height="64.83" fill="#3db54a"/>
<line x1="247.05" y1="410.07" x2="247.05" y2="404.15" stroke="#383838" stroke-width="1.15"/>
<line x1="244.70" y1="404.15" x2="249.40" y2="404.15" stroke="#383838" stroke-width="1.15"/>
<rect x="254.40" y="421.94" width="6.70" height="52.76" fill="#5c2a74"/>
<line x1="257.75" y1="422.14" x2="257.75" y2="418.13" stroke="#383838" stroke-width="1.15"/>
<line x1="255.40" y1="418.13" x2="260.10" y2="418.13" stroke="#383838" stroke-width="1.15"/>
<rect x="265.20" y="407.96" width="6.70" height="66.74" fill="#ff8f0a"/>
<line x1="268.55" y1="408.16" x2="268.55" y2="402.24" stroke="#383838" stroke-width="1.15"/>
<line x1="266.20" y1="402.24" x2="270.90" y2="402.24" stroke="#383838" stroke-width="1.15"/>
<rect x="276.00" y="415.59" width="6.70" height="59.11" fill="#08694f"/>
<line x1="279.35" y1="415.79" x2="279.35" y2="411.14" stroke="#383838" stroke-width="1.15"/>
<line x1="277.00" y1="411.14" x2="281.70" y2="411.14" stroke="#383838" stroke-width="1.15"/>
<line x1="218.30" y1="369.40" x2="218.30" y2="475.40" stroke="#2a2a2a" stroke-width="1.35"/>
<line x1="217.60" y1="474.70" x2="285.70" y2="474.70" stroke="#2a2a2a" stroke-width="1.4"/>
<line x1="215.00" y1="474.70" x2="218.30" y2="474.70" stroke="#2a2a2a" stroke-width="1.0"/>
<text x="213.30" y="477.35" font-size="8.0" text-anchor="end" fill="#111" stroke="#111" stroke-width="0.2">0</text>
<line x1="215.00" y1="449.27" x2="218.30" y2="449.27" stroke="#2a2a2a" stroke-width="1.0"/>
<text x="213.30" y="451.92" font-size="8.0" text-anchor="end" fill="#111" stroke="#111" stroke-width="0.2">20</text>
<line x1="215.00" y1="423.85" x2="218.30" y2="423.85" stroke="#2a2a2a" stroke-width="1.0"/>
<text x="213.30" y="426.50" font-size="8.0" text-anchor="end" fill="#111" stroke="#111" stroke-width="0.2">40</text>
<line x1="215.00" y1="398.43" x2="218.30" y2="398.43" stroke="#2a2a2a" stroke-width="1.0"/>
<text x="213.30" y="401.07" font-size="8.0" text-anchor="end" fill="#111" stroke="#111" stroke-width="0.2">60</text>
<line x1="215.00" y1="373.00" x2="218.30" y2="373.00" stroke="#2a2a2a" stroke-width="1.0"/>
<text x="213.30" y="375.65" font-size="8.0" text-anchor="end" fill="#111" stroke="#111" stroke-width="0.2">80</text>
<text x="252.05" y="484.30" font-size="7.6" text-anchor="middle" fill="#111" stroke="#111" stroke-width="0.2">Liver</text>
<text x="0" y="0" transform="translate(198.50 422.45) rotate(-90)" font-size="8.8" text-anchor="middle" fill="#111" textLength="44.6" lengthAdjust="spacingAndGlyphs" stroke="#111" stroke-width="0.38">GFP<tspan font-size="6.2" dy="-3.2">+</tspan><tspan dy="3.2"> cells (%)</tspan></text>
<line x1="225.00" y1="354.60" x2="279.10" y2="354.60" stroke="#4f4f4f" stroke-width="1.25"/>
<text x="252.05" y="354.40" font-size="7.2" text-anchor="middle" font-weight="bold" fill="#222" stroke="#222" stroke-width="0.1" letter-spacing="0.1">***</text>
<line x1="225.00" y1="362.80" x2="268.60" y2="362.80" stroke="#4f4f4f" stroke-width="1.25"/>
<text x="246.80" y="362.60" font-size="7.2" text-anchor="middle" font-weight="bold" fill="#222" stroke="#222" stroke-width="0.1" letter-spacing="0.1">*</text>
<line x1="225.00" y1="371.00" x2="257.80" y2="371.00" stroke="#4f4f4f" stroke-width="1.25"/>
<text x="241.40" y="370.80" font-size="7.2" text-anchor="middle" font-weight="bold" fill="#222" stroke="#222" stroke-width="0.1" letter-spacing="0.1">***</text>
<line x1="225.00" y1="379.20" x2="247.30" y2="379.20" stroke="#4f4f4f" stroke-width="1.25"/>
<text x="236.15" y="379.00" font-size="7.2" text-anchor="middle" font-weight="bold" fill="#222" stroke="#222" stroke-width="0.1" letter-spacing="0.1">*</text>
<line x1="225.00" y1="387.10" x2="236.40" y2="387.10" stroke="#4f4f4f" stroke-width="1.25"/>
<text x="230.70" y="386.90" font-size="7.2" text-anchor="middle" font-weight="bold" fill="#222" stroke="#222" stroke-width="0.1" letter-spacing="0.1">**</text>
<line x1="247.30" y1="398.90" x2="257.80" y2="398.90" stroke="#4f4f4f" stroke-width="1.25"/>
<text x="252.55" y="398.70" font-size="7.2" text-anchor="middle" font-weight="bold" fill="#222" stroke="#222" stroke-width="0.1" letter-spacing="0.1">**</text>
<line x1="268.60" y1="397.00" x2="279.10" y2="397.00" stroke="#4f4f4f" stroke-width="1.25"/>
<text x="273.85" y="396.80" font-size="7.2" text-anchor="middle" font-weight="bold" fill="#222" stroke="#222" stroke-width="0.1" letter-spacing="0.1">*</text>
<rect x="333.60" y="392.49" width="6.70" height="82.21" fill="#c8102e"/>
<line x1="336.95" y1="392.69" x2="336.95" y2="388.25" stroke="#383838" stroke-width="1.15"/>
<line x1="334.60" y1="388.25" x2="339.30" y2="388.25" stroke="#383838" stroke-width="1.15"/>
<rect x="344.40" y="411.99" width="6.70" height="62.71" fill="#12528c"/>
<line x1="347.75" y1="412.19" x2="347.75" y2="406.05" stroke="#383838" stroke-width="1.15"/>
<line x1="345.40" y1="406.05" x2="350.10" y2="406.05" stroke="#383838" stroke-width="1.15"/>
<rect x="355.10" y="413.68" width="6.70" height="61.02" fill="#3db54a"/>
<line x1="358.45" y1="413.88" x2="358.45" y2="406.90" stroke="#383838" stroke-width="1.15"/>
<line x1="356.10" y1="406.90" x2="360.80" y2="406.90" stroke="#383838" stroke-width="1.15"/>
<rect x="365.80" y="438.26" width="6.70" height="36.44" fill="#5c2a74"/>
<line x1="369.15" y1="438.46" x2="369.15" y2="433.17" stroke="#383838" stroke-width="1.15"/>
<line x1="366.80" y1="433.17" x2="371.50" y2="433.17" stroke="#383838" stroke-width="1.15"/>
<rect x="376.60" y="404.36" width="6.70" height="70.34" fill="#ff8f0a"/>
<line x1="379.95" y1="404.56" x2="379.95" y2="400.12" stroke="#383838" stroke-width="1.15"/>
<line x1="377.60" y1="400.12" x2="382.30" y2="400.12" stroke="#383838" stroke-width="1.15"/>
<rect x="387.40" y="420.46" width="6.70" height="54.24" fill="#08694f"/>
<line x1="390.75" y1="420.66" x2="390.75" y2="414.53" stroke="#383838" stroke-width="1.15"/>
<line x1="388.40" y1="414.53" x2="393.10" y2="414.53" stroke="#383838" stroke-width="1.15"/>
<line x1="330.00" y1="369.40" x2="330.00" y2="475.40" stroke="#2a2a2a" stroke-width="1.35"/>
<line x1="329.30" y1="474.70" x2="397.70" y2="474.70" stroke="#2a2a2a" stroke-width="1.4"/>
<line x1="326.70" y1="474.70" x2="330.00" y2="474.70" stroke="#2a2a2a" stroke-width="1.0"/>
<text x="325.00" y="477.35" font-size="8.0" text-anchor="end" fill="#111" stroke="#111" stroke-width="0.2">0</text>
<line x1="326.70" y1="440.80" x2="330.00" y2="440.80" stroke="#2a2a2a" stroke-width="1.0"/>
<text x="325.00" y="443.45" font-size="8.0" text-anchor="end" fill="#111" stroke="#111" stroke-width="0.2">20</text>
<line x1="326.70" y1="406.90" x2="330.00" y2="406.90" stroke="#2a2a2a" stroke-width="1.0"/>
<text x="325.00" y="409.55" font-size="8.0" text-anchor="end" fill="#111" stroke="#111" stroke-width="0.2">40</text>
<line x1="326.70" y1="373.00" x2="330.00" y2="373.00" stroke="#2a2a2a" stroke-width="1.0"/>
<text x="325.00" y="375.65" font-size="8.0" text-anchor="end" fill="#111" stroke="#111" stroke-width="0.2">60</text>
<text x="363.45" y="484.30" font-size="7.6" text-anchor="middle" fill="#111" stroke="#111" stroke-width="0.2">Lung</text>
<text x="0" y="0" transform="translate(310.10 422.45) rotate(-90)" font-size="8.8" text-anchor="middle" fill="#111" textLength="44.6" lengthAdjust="spacingAndGlyphs" stroke="#111" stroke-width="0.38">GFP<tspan font-size="6.2" dy="-3.2">+</tspan><tspan dy="3.2"> cells (%)</tspan></text>
<line x1="337.00" y1="352.70" x2="390.80" y2="352.70" stroke="#4f4f4f" stroke-width="1.25"/>
<text x="363.90" y="352.50" font-size="7.2" text-anchor="middle" font-weight="bold" fill="#222" stroke="#222" stroke-width="0.1" letter-spacing="0.1">**</text>
<line x1="337.00" y1="360.90" x2="380.00" y2="360.90" stroke="#4f4f4f" stroke-width="1.25"/>
<text x="358.50" y="360.70" font-size="7.2" text-anchor="middle" font-weight="bold" fill="#222" stroke="#222" stroke-width="0.1" letter-spacing="0.1">*</text>
<line x1="337.00" y1="368.80" x2="369.10" y2="368.80" stroke="#4f4f4f" stroke-width="1.25"/>
<text x="353.05" y="368.60" font-size="7.2" text-anchor="middle" font-weight="bold" fill="#222" stroke="#222" stroke-width="0.1" letter-spacing="0.1">***</text>
<line x1="337.00" y1="376.90" x2="358.30" y2="376.90" stroke="#4f4f4f" stroke-width="1.25"/>
<text x="347.65" y="376.70" font-size="7.2" text-anchor="middle" font-weight="bold" fill="#222" stroke="#222" stroke-width="0.1" letter-spacing="0.1">*</text>
<line x1="337.00" y1="384.90" x2="347.80" y2="384.90" stroke="#4f4f4f" stroke-width="1.25"/>
<text x="342.40" y="384.70" font-size="7.2" text-anchor="middle" font-weight="bold" fill="#222" stroke="#222" stroke-width="0.1" letter-spacing="0.1">*</text>
<line x1="358.30" y1="402.00" x2="369.10" y2="402.00" stroke="#4f4f4f" stroke-width="1.25"/>
<text x="363.70" y="401.80" font-size="7.2" text-anchor="middle" font-weight="bold" fill="#222" stroke="#222" stroke-width="0.1" letter-spacing="0.1">**</text>
<line x1="380.00" y1="394.80" x2="390.80" y2="394.80" stroke="#4f4f4f" stroke-width="1.25"/>
<text x="385.40" y="394.60" font-size="7.2" text-anchor="middle" font-weight="bold" fill="#222" stroke="#222" stroke-width="0.1" letter-spacing="0.1">*</text>
<rect x="448.90" y="380.12" width="6.70" height="94.58" fill="#c8102e"/>
<line x1="452.25" y1="380.32" x2="452.25" y2="377.58" stroke="#383838" stroke-width="1.15"/>
<line x1="449.90" y1="377.58" x2="454.60" y2="377.58" stroke="#383838" stroke-width="1.15"/>
<rect x="459.70" y="394.87" width="6.70" height="79.83" fill="#12528c"/>
<line x1="463.05" y1="395.07" x2="463.05" y2="391.31" stroke="#383838" stroke-width="1.15"/>
<line x1="460.70" y1="391.31" x2="465.40" y2="391.31" stroke="#383838" stroke-width="1.15"/>
<rect x="470.40" y="391.81" width="6.70" height="82.89" fill="#3db54a"/>
<line x1="473.75" y1="392.01" x2="473.75" y2="387.24" stroke="#383838" stroke-width="1.15"/>
<line x1="471.40" y1="387.24" x2="476.10" y2="387.24" stroke="#383838" stroke-width="1.15"/>
<rect x="481.10" y="414.70" width="6.70" height="60.00" fill="#5c2a74"/>
<line x1="484.45" y1="414.90" x2="484.45" y2="410.63" stroke="#383838" stroke-width="1.15"/>
<line x1="482.10" y1="410.63" x2="486.80" y2="410.63" stroke="#383838" stroke-width="1.15"/>
<rect x="491.90" y="395.88" width="6.70" height="78.82" fill="#ff8f0a"/>
<line x1="495.25" y1="396.08" x2="495.25" y2="392.83" stroke="#383838" stroke-width="1.15"/>
<line x1="492.90" y1="392.83" x2="497.60" y2="392.83" stroke="#383838" stroke-width="1.15"/>
<rect x="502.70" y="409.10" width="6.70" height="65.60" fill="#08694f"/>
<line x1="506.05" y1="409.30" x2="506.05" y2="404.02" stroke="#383838" stroke-width="1.15"/>
<line x1="503.70" y1="404.02" x2="508.40" y2="404.02" stroke="#383838" stroke-width="1.15"/>
<line x1="445.10" y1="369.40" x2="445.10" y2="475.40" stroke="#2a2a2a" stroke-width="1.35"/>
<line x1="444.40" y1="474.70" x2="512.80" y2="474.70" stroke="#2a2a2a" stroke-width="1.4"/>
<line x1="441.80" y1="474.70" x2="445.10" y2="474.70" stroke="#2a2a2a" stroke-width="1.0"/>
<text x="440.10" y="477.35" font-size="8.0" text-anchor="end" fill="#111" stroke="#111" stroke-width="0.2">0</text>
<line x1="441.80" y1="454.36" x2="445.10" y2="454.36" stroke="#2a2a2a" stroke-width="1.0"/>
<text x="440.10" y="457.01" font-size="8.0" text-anchor="end" fill="#111" stroke="#111" stroke-width="0.2">20</text>
<line x1="441.80" y1="434.02" x2="445.10" y2="434.02" stroke="#2a2a2a" stroke-width="1.0"/>
<text x="440.10" y="436.67" font-size="8.0" text-anchor="end" fill="#111" stroke="#111" stroke-width="0.2">40</text>
<line x1="441.80" y1="413.68" x2="445.10" y2="413.68" stroke="#2a2a2a" stroke-width="1.0"/>
<text x="440.10" y="416.33" font-size="8.0" text-anchor="end" fill="#111" stroke="#111" stroke-width="0.2">60</text>
<line x1="441.80" y1="393.34" x2="445.10" y2="393.34" stroke="#2a2a2a" stroke-width="1.0"/>
<text x="440.10" y="395.99" font-size="8.0" text-anchor="end" fill="#111" stroke="#111" stroke-width="0.2">80</text>
<line x1="441.80" y1="373.00" x2="445.10" y2="373.00" stroke="#2a2a2a" stroke-width="1.0"/>
<text x="440.10" y="375.65" font-size="8.0" text-anchor="end" fill="#111" stroke="#111" stroke-width="0.2">100</text>
<text x="478.75" y="484.30" font-size="7.6" text-anchor="middle" fill="#111" stroke="#111" stroke-width="0.2">Brain</text>
<text x="0" y="0" transform="translate(421.00 422.45) rotate(-90)" font-size="8.8" text-anchor="middle" fill="#111" textLength="44.6" lengthAdjust="spacingAndGlyphs" stroke="#111" stroke-width="0.38">GFP<tspan font-size="6.2" dy="-3.2">+</tspan><tspan dy="3.2"> cells (%)</tspan></text>
<line x1="451.80" y1="342.10" x2="506.20" y2="342.10" stroke="#4f4f4f" stroke-width="1.25"/>
<text x="479.00" y="341.90" font-size="7.2" text-anchor="middle" font-weight="bold" fill="#222" stroke="#222" stroke-width="0.1" letter-spacing="0.1">***</text>
<line x1="451.80" y1="350.30" x2="495.40" y2="350.30" stroke="#4f4f4f" stroke-width="1.25"/>
<text x="473.60" y="350.10" font-size="7.2" text-anchor="middle" font-weight="bold" fill="#222" stroke="#222" stroke-width="0.1" letter-spacing="0.1">*</text>
<line x1="451.80" y1="358.20" x2="484.60" y2="358.20" stroke="#4f4f4f" stroke-width="1.25"/>
<text x="468.20" y="358.00" font-size="7.2" text-anchor="middle" font-weight="bold" fill="#222" stroke="#222" stroke-width="0.1" letter-spacing="0.1">***</text>
<line x1="451.80" y1="366.40" x2="473.40" y2="366.40" stroke="#4f4f4f" stroke-width="1.25"/>
<text x="462.60" y="366.20" font-size="7.2" text-anchor="middle" font-weight="bold" fill="#222" stroke="#222" stroke-width="0.1" letter-spacing="0.1">*</text>
<line x1="451.80" y1="374.30" x2="462.60" y2="374.30" stroke="#4f4f4f" stroke-width="1.25"/>
<text x="457.20" y="374.10" font-size="7.2" text-anchor="middle" font-weight="bold" fill="#222" stroke="#222" stroke-width="0.1" letter-spacing="0.1">*</text>
<line x1="473.40" y1="382.50" x2="484.60" y2="382.50" stroke="#4f4f4f" stroke-width="1.25"/>
<text x="479.00" y="382.30" font-size="7.2" text-anchor="middle" font-weight="bold" fill="#222" stroke="#222" stroke-width="0.1" letter-spacing="0.1">*</text>
<line x1="495.40" y1="387.40" x2="506.20" y2="387.40" stroke="#4f4f4f" stroke-width="1.25"/>
<text x="500.80" y="387.20" font-size="7.2" text-anchor="middle" font-weight="bold" fill="#222" stroke="#222" stroke-width="0.1" letter-spacing="0.1">*</text>
<text x="6.60" y="379.30" font-size="11.3" font-weight="bold" fill="#000">E</text>
<text x="33.80" y="384.50" font-size="7.8" text-anchor="middle" fill="#111" textLength="23.8" lengthAdjust="spacingAndGlyphs" stroke="#111" stroke-width="0.2">Vehicle</text>
<text x="90.30" y="384.50" font-size="7.8" text-anchor="middle" fill="#111" textLength="32.9" lengthAdjust="spacingAndGlyphs" stroke="#111" stroke-width="0.2">17 DMAG</text>
<text x="147.40" y="384.50" font-size="7.8" text-anchor="middle" fill="#111" textLength="37.6" lengthAdjust="spacingAndGlyphs" stroke="#111" stroke-width="0.2">Novobiocin</text>
<text x="32.90" y="440.00" font-size="7.8" text-anchor="middle" fill="#111" textLength="7.3" lengthAdjust="spacingAndGlyphs" stroke="#111" stroke-width="0.2">IM</text>
<text x="91.00" y="440.00" font-size="7.8" text-anchor="middle" fill="#111" textLength="47.1" lengthAdjust="spacingAndGlyphs" stroke="#111" stroke-width="0.2">17 DMAG+IM</text>
<text x="147.60" y="440.00" font-size="7.8" text-anchor="middle" fill="#111" textLength="51.7" lengthAdjust="spacingAndGlyphs" stroke="#111" stroke-width="0.2">Novobiocin+IM</text>
<svg x="6.5" y="387.8" width="53.5" height="40.6" viewBox="0 0 53.5 40.6" overflow="hidden"><g filter="url(#bl)"><rect x="-2" y="-2" width="57.5" height="44.6" fill="#5a48c2"/><path d="M17.0 5.4h0M35.1 2.1h0M28.7 14.6h0M2.2 20.6h0M1.1 17.5h0M2.9 2.9h0M22.6 34.2h0M5.9 8.5h0M33.8 39.4h0M31.0 15.9h0M53.2 1.0h0M46.6 11.3h0M7.0 4.0h0M16.1 33.8h0M9.0 23.8h0M34.5 14.9h0M29.4 1.7h0M2.3 7.8h0M36.8 17.2h0M16.4 23.9h0M24.2 11.8h0M43.1 28.8h0M12.5 23.5h0M28.1 36.3h0M39.5 11.3h0M53.4 4.0h0M22.2 31.3h0M7.4 19.8h0M1.2 27.5h0M41.4 23.4h0M47.6 12.4h0M37.6 24.3h0M31.2 18.4h0M45.6 39.2h0M25.3 27.3h0M2.4 28.9h0M34.9 41.3h0M44.6 11.1h0M20.4 27.5h0M0.3 18.7h0M8.3 4.0h0M2.3 31.7h0M6.2 9.5h0M20.7 36.1h0M3.5 18.1h0M29.5 36.6h0M44.5 35.8h0M14.5 16.7h0M18.9 36.7h0M52.2 5.4h0M8.8 8.9h0M12.0 19.7h0M31.7 10.2h0M-0.8 16.8h0M19.5 23.1h0M51.9 28.4h0M27.6 25.3h0M36.5 1.3h0M48.9 32.2h0M47.5 33.0h0M20.8 16.0h0M4.7 26.0h0M2.5 1.9h0M10.6 5.9h0M17.9 1.2h0M-1.0 5.4h0M4.6 14.5h0M0.4 36.2h0M33.1 5.3h0M13.0 13.8h0M19.2 4.2h0M46.1 41.3h0M24.9 19.6h0M3.8 3.4h0M18.0 10.3h0M45.0 5.9h0M0.3 39.5h0M28.3 5.2h0M29.1 0.2h0M28.3 40.7h0M46.9 28.7h0M13.5 14.6h0M8.3 31.9h0M28.6 32.2h0M17.3 8.5h0M44.0 41.0h0M46.3 33.3h0M44.4 30.5h0M11.6 21.1h0M18.7 0.2h0M0.6 10.9h0M13.4 28.5h0M52.1 18.1h0M51.0 41.1h0M52.0 14.5h0M11.2 8.7h0M9.9 7.7h0M33.6 37.4h0M45.6 19.4h0M35.2 33.1h0M3.7 27.1h0M49.5 32.3h0M40.6 19.4h0M8.9 32.6h0M17.5 33.1h0M52.9 15.9h0M21.3 39.3h0M39.2 6.2h0M6.1 5.4h0M49.2 33.4h0M7.1 34.2h0M53.4 27.0h0M18.4 22.4h0M6.3 -0.4h0M52.9 26.7h0M28.2 38.8h0M23.1 36.1h0M44.9 8.0h0M13.0 11.5h0M12.3 24.0h0M13.4 16.8h0M6.3 37.8h0M18.6 18.5h0M31.4 37.5h0M22.3 38.1h0M26.8 21.7h0M28.1 -0.2h0M23.4 6.8h0M-0.8 33.0h0M8.6 19.2h0M39.2 22.7h0M17.1 21.1h0M29.8 32.4h0M4.9 22.9h0M12.8 10.8h0M41.9 20.6h0M30.2 31.4h0M49.6 17.9h0M33.0 20.5h0M27.4 28.5h0M24.1 21.7h0M25.5 39.1h0M37.8 36.3h0M51.3 10.1h0M30.1 39.2h0M45.6 4.8h0M5.8 17.8h0M3.0 9.3h0M3.1 27.5h0M42.5 37.2h0M7.6 29.5h0M35.6 5.1h0M48.0 40.2h0M11.2 39.6h0M21.1 19.8h0M53.9 34.5h0M8.0 17.4h0M27.6 13.4h0M9.9 12.6h0M39.1 -0.2h0M29.7 17.8h0M0.0 13.1h0M33.6 20.8h0M2.6 41.0h0M42.8 40.4h0M4.8 10.3h0M1.2 32.2h0M14.0 4.5h0M22.4 37.8h0M44.5 10.0h0M7.3 38.2h0M30.7 28.8h0M4.0 1.5h0M37.2 17.1h0M3.0 39.0h0M34.2 33.1h0M3.6 35.5h0M2.7 35.8h0M24.2 13.4h0M29.7 38.5h0M13.9 4.5h0M28.2 9.2h0M5.1 5.9h0M1.8 7.6h0M16.3 12.0h0M41.2 11.4h0M26.8 6.6h0M18.3 -0.2h0M12.9 -0.3h0M39.7 22.5h0M9.5 19.2h0M50.9 3.5h0M44.5 17.4h0M26.5 34.6h0M20.8 20.6h0M37.2 40.9h0M18.0 34.5h0M38.2 26.1h0M21.5 13.8h0M2.0 4.5h0M2.9 30.6h0M13.2 6.0h0M3.7 34.8h0M47.3 27.6h0M14.6 9.3h0M15.3 18.6h0M7.7 18.0h0M13.6 40.0h0M53.0 22.3h0M12.6 40.1h0M16.2 14.2h0M-0.9 15.3h0M25.3 20.4h0M10.2 20.5h0M-0.7 10.3h0M4.0 16.0h0M1.3 -0.0h0M15.9 8.9h0M31.5 21.5h0M40.7 27.0h0M38.7 36.4h0M20.6 12.9h0M53.7 5.4h0M39.2 26.4h0M1.4 34.6h0M48.5 25.7h0M39.7 33.6h0M6.7 21.3h0M27.0 34.6h0M43.7 34.2h0M31.4 37.0h0M36.9 28.5h0M11.8 0.3h0M6.4 14.4h0M4.8 34.6h0M30.0 25.7h0M33.8 28.0h0M26.2 -0.9h0M43.3 30.9h0M26.9 21.8h0M35.6 1.8h0M39.9 9.7h0M3.1 10.3h0M39.5 7.7h0M40.1 40.6h0M26.4 15.3h0M25.6 28.1h0M41.6 25.3h0M34.7 2.3h0M7.2 9.8h0M40.2 12.0h0M30.5 -0.5h0M2.4 10.4h0M36.3 28.5h0M36.5 11.4h0M27.7 18.8h0M24.9 4.0h0M48.6 7.5h0M53.3 38.9h0M-0.0 18.6h0M44.5 40.2h0M23.9 10.4h0M10.6 39.3h0M10.7 23.8h0M6.9 21.3h0M51.9 4.6h0M44.5 20.7h0M48.2 29.0h0M11.8 37.2h0M26.0 0.1h0M-0.8 19.9h0M24.0 11.9h0M6.8 13.7h0M16.5 34.8h0M-0.9 31.0h0M45.6 4.1h0M50.4 29.4h0M49.0 11.3h0M19.7 15.7h0M54.4 24.1h0M19.0 17.2h0M14.3 1.1h0M4.6 34.6h0M14.9 38.9h0M12.8 10.3h0M27.4 7.1h0M19.7 39.7h0M48.1 33.6h0M34.0 37.9h0M51.2 22.4h0M38.9 1.1h0M39.6 18.2h0M40.8 26.5h0M14.9 1.1h0M50.4 4.4h0M25.2 13.6h0M15.5 30.5h0M53.2 10.1h0M35.4 11.8h0M29.9 15.8h0M8.3 5.9h0M10.5 37.6h0M26.6 8.4h0M49.3 41.4h0M24.0 4.9h0M9.7 2.9h0M18.0 2.9h0M12.3 10.0h0M30.6 36.8h0M40.6 16.6h0M22.0 21.3h0M19.9 13.4h0M2.4 10.8h0M52.7 4.4h0M26.9 25.8h0M46.9 8.2h0M14.0 9.6h0M21.2 18.0h0M51.9 35.2h0M47.4 -0.1h0M0.8 29.2h0M48.7 19.2h0M31.6 -1.0h0M20.7 38.5h0M44.8 35.4h0M53.0 9.6h0M5.1 5.6h0M28.0 28.1h0M51.3 29.7h0M34.9 31.6h0M24.4 22.5h0M1.2 32.3h0M11.9 38.2h0M34.8 11.9h0M6.1 9.7h0M34.3 28.8h0M5.2 2.0h0M28.1 23.8h0M20.5 8.5h0M32.4 -0.6h0M15.7 18.6h0M52.2 26.5h0M48.0 19.2h0M12.0 9.5h0M52.3 29.0h0M16.1 -0.1h0M26.7 27.7h0M22.3 10.0h0M36.0 38.4h0M11.6 0.5h0M17.8 16.9h0M36.9 7.4h0M43.2 30.5h0M27.0 7.7h0M52.8 12.3h0M44.5 8.8h0M11.3 31.4h0M15.4 39.6h0M26.5 7.0h0M11.4 16.8h0M35.9 39.4h0M7.1 15.8h0M10.8 40.5h0M6.9 1.2h0M2.3 15.8h0M48.8 36.6h0M39.7 41.5h0M50.7 13.0h0M9.3 38.9h0M40.4 0.4h0M35.9 15.1h0M19.8 13.1h0M8.4 -0.9h0M14.5 14.0h0M52.0 4.3h0M52.5 7.8h0M18.8 34.0h0M44.6 17.4h0M1.7 19.2h0M19.7 38.2h0M9.7 14.5h0M48.8 0.3h0M21.8 33.6h0M41.6 0.7h0M0.9 1.7h0M50.1 9.9h0M40.5 37.3h0M17.8 10.6h0M52.2 25.3h0M13.6 29.5h0M16.6 10.7h0M-0.8 31.2h0M49.9 26.0h0M51.4 0.0h0M12.0 19.2h0M52.1 39.6h0M20.5 9.7h0M22.9 20.0h0M50.5 6.8h0M43.5 30.5h0M44.7 31.9h0M32.7 13.0h0M16.7 14.4h0M42.4 2.4h0M10.0 31.1h0M12.7 1.8h0M0.9 22.5h0M17.1 40.8h0M48.0 41.1h0M13.7 2.6h0M4.4 20.2h0M38.4 18.0h0M12.0 16.8h0M33.4 27.7h0M40.5 35.1h0M35.9 4.2h0M45.7 11.5h0M30.5 14.9h0M40.0 7.5h0M12.7 9.5h0M7.5 36.7h0M31.1 12.9h0M21.0 41.3h0M27.2 8.9h0M43.9 26.8h0M54.0 3.4h0M25.3 33.9h0M45.7 38.0h0M1.2 11.5h0M5.6 7.1h0M53.0 23.8h0M50.6 14.9h0M47.1 18.1h0M13.4 32.1h0M51.5 3.5h0M32.1 25.4h0M11.1 14.7h0M6.8 7.7h0M13.1 24.5h0M35.2 7.7h0M-0.4 12.9h0M36.6 6.9h0M16.3 7.7h0M43.1 22.3h0M2.5 3.3h0M20.9 22.4h0M34.5 2.9h0M8.1 28.6h0M21.7 11.1h0M16.1 39.6h0M16.3 23.1h0M18.8 16.7h0M47.0 41.5h0M19.2 7.4h0M39.4 7.7h0M-0.7 37.4h0M22.5 33.9h0M21.5 36.6h0M24.6 5.9h0M-0.2 22.5h0M34.6 37.8h0M3.9 25.5h0M19.6 20.5h0M7.1 11.1h0M27.9 38.4h0M5.0 19.9h0M43.7 40.2h0M10.0 4.4h0M51.3 40.6h0M25.8 1.3h0" stroke="#2c1ca8" stroke-width="1.9" stroke-linecap="round" fill="none" opacity="0.92"/><path d="M50.4 15.5h0M49.2 25.4h0M44.8 5.8h0M42.6 8.5h0M21.4 35.1h0M45.0 6.8h0M11.1 16.0h0M27.7 15.3h0M5.8 9.5h0M39.2 37.2h0M1.3 23.0h0M41.0 0.6h0M45.5 4.0h0M32.3 22.4h0M33.8 12.0h0M22.3 23.8h0M22.6 27.1h0M23.8 17.7h0M0.3 25.4h0M26.2 9.0h0M41.4 32.2h0M24.4 6.6h0M25.3 3.6h0M6.1 17.3h0M4.1 17.8h0M27.3 0.7h0M34.3 2.5h0M39.7 32.1h0M27.4 1.3h0M27.0 15.1h0M51.8 4.8h0M46.6 41.4h0M39.6 33.7h0M9.8 40.8h0M26.3 39.8h0M49.8 6.0h0M42.8 38.6h0M2.6 13.9h0M41.0 5.8h0M48.8 10.7h0M44.3 5.1h0M26.9 38.2h0M10.6 10.2h0M27.1 12.6h0M1.0 6.8h0M7.9 38.9h0M36.7 37.1h0M8.4 32.4h0M5.4 21.6h0M34.3 14.3h0M47.4 22.7h0M31.2 36.6h0M4.8 41.3h0M34.0 15.8h0M43.3 10.3h0M54.0 23.6h0M19.0 31.6h0M23.5 6.5h0M40.3 1.1h0M44.5 9.8h0M34.5 40.9h0M31.5 27.3h0M16.4 -0.9h0M0.9 5.4h0M33.2 17.4h0M27.5 37.2h0M6.3 8.7h0M35.2 -0.1h0M-0.9 14.1h0M4.9 14.2h0M11.4 23.9h0M31.7 7.7h0M33.6 19.2h0M6.5 38.9h0M12.5 5.4h0M4.3 26.2h0M47.4 32.3h0M21.3 10.3h0M-0.4 26.5h0M30.2 13.9h0M34.8 17.9h0M51.0 30.2h0M12.8 37.5h0M1.4 21.6h0M21.5 9.1h0M2.2 32.2h0M-0.3 22.5h0M51.2 5.1h0M10.1 24.9h0M27.1 26.3h0M44.1 6.4h0M16.2 11.8h0M1.7 36.9h0M42.5 29.5h0M-0.6 35.0h0M40.4 18.8h0M40.2 18.3h0M11.5 3.5h0M11.9 0.7h0M17.6 30.9h0M37.6 35.0h0M38.5 10.3h0M29.7 17.6h0M42.8 21.3h0M13.7 26.3h0M52.6 8.2h0M47.8 -0.4h0M13.5 9.1h0M40.3 39.2h0M40.4 12.9h0M47.8 13.0h0M12.3 37.7h0M34.0 28.5h0M35.9 40.7h0M25.1 34.8h0M37.7 35.5h0M23.3 29.9h0M30.7 12.1h0M10.8 25.5h0M3.3 37.8h0M7.0 0.1h0M4.9 38.6h0M18.1 5.0h0M0.6 0.8h0M37.4 26.0h0M37.7 30.4h0M2.6 24.2h0M19.2 33.8h0M44.5 37.0h0M2.7 36.0h0M49.7 39.2h0M4.9 7.8h0M5.2 0.5h0M46.0 33.6h0M34.2 34.1h0M34.1 11.2h0M4.5 3.2h0M41.0 7.7h0M16.7 17.1h0M0.2 9.9h0" stroke="#3e2cb6" stroke-width="1.5" stroke-linecap="round" fill="none" opacity="0.9"/><path d="M14.7 29.5h0M19.4 12.7h0M52.5 20.5h0M46.3 25.3h0M0.7 16.6h0M23.2 31.9h0M18.2 29.0h0M28.9 8.2h0M46.9 2.9h0M44.5 6.3h0M-0.9 7.6h0M41.3 40.7h0M-0.8 19.9h0M26.3 32.9h0M9.2 20.1h0M18.3 34.4h0M13.5 39.2h0M14.7 8.1h0M37.8 20.2h0M5.1 26.1h0M3.5 32.6h0M37.7 32.5h0M33.9 14.1h0M21.3 15.8h0M48.4 2.7h0M48.3 0.1h0M10.4 10.2h0M49.0 20.4h0M20.1 36.7h0M12.0 18.6h0M28.5 31.1h0M40.8 26.5h0M18.3 12.9h0M7.6 34.9h0M35.7 30.6h0M8.4 17.7h0M41.9 23.7h0M6.0 18.7h0M48.1 9.1h0M9.6 11.8h0M38.0 34.9h0M7.6 5.6h0M12.7 12.9h0M28.0 5.9h0M17.2 7.1h0M53.1 30.0h0M4.7 40.0h0M4.6 15.4h0M53.6 32.9h0M39.7 17.5h0M9.9 26.2h0M4.9 7.8h0M20.6 0.4h0M21.1 32.7h0M37.5 20.3h0M34.1 18.7h0M6.9 24.7h0M21.5 30.6h0M49.4 17.3h0M30.9 30.9h0M22.4 8.7h0M39.1 36.5h0M42.0 28.8h0M46.3 28.0h0M34.6 18.3h0M16.4 25.8h0M4.4 16.9h0M42.4 29.4h0M33.9 9.7h0M22.5 18.4h0M33.5 16.4h0M36.5 38.6h0M9.2 26.9h0M42.2 15.6h0M26.2 40.5h0M1.1 22.1h0M7.9 32.3h0M51.2 21.1h0M4.6 23.5h0M29.0 29.6h0M27.4 26.2h0M45.0 21.2h0M21.8 39.4h0M10.7 28.2h0M20.8 31.5h0M5.8 40.9h0M18.7 1.4h0M14.2 16.0h0M-0.3 16.8h0M22.3 28.7h0M18.5 10.3h0M11.5 30.6h0M51.2 21.5h0M11.1 33.1h0M20.8 8.0h0M6.2 32.1h0M43.9 26.0h0M25.0 22.9h0M11.5 40.1h0M18.6 26.2h0M44.4 33.8h0M25.0 11.5h0M29.4 4.3h0M45.3 14.1h0M46.2 10.4h0M19.9 9.8h0M22.6 6.9h0M-0.9 29.7h0M14.6 9.4h0M15.8 19.4h0M22.8 26.1h0M35.6 14.4h0M50.5 35.4h0M2.2 34.3h0M49.3 32.4h0M6.8 34.4h0M34.1 -0.4h0M-0.4 39.5h0M35.4 9.7h0M4.6 5.1h0M12.0 32.1h0M18.2 5.5h0M49.2 32.7h0M8.3 37.0h0M32.8 32.3h0M36.1 37.1h0M42.7 34.7h0M10.0 28.5h0M28.5 30.6h0M23.3 36.6h0M29.8 10.3h0M12.0 4.9h0M26.4 1.5h0M24.9 5.2h0M26.3 20.2h0M28.9 35.8h0M-0.6 34.8h0M25.0 23.0h0M35.9 34.8h0M19.8 16.8h0M52.3 2.2h0M34.4 26.1h0M0.6 25.0h0M36.9 38.7h0M17.3 40.8h0M27.3 19.6h0M48.8 0.4h0M38.9 25.6h0M17.8 35.7h0M19.3 19.2h0M28.2 31.8h0M10.7 17.5h0M22.4 22.6h0M44.9 11.5h0M44.9 16.2h0M27.0 10.6h0M27.1 40.5h0M35.3 32.7h0M17.4 12.5h0M15.6 24.0h0M34.2 32.4h0M1.2 29.8h0M48.2 22.2h0M1.8 11.8h0M-0.7 7.1h0M50.1 24.9h0M35.5 32.6h0M49.5 25.1h0M33.2 25.7h0M37.7 24.4h0M36.8 8.1h0M36.0 18.5h0M41.3 3.3h0M9.1 0.6h0M42.0 37.9h0M35.4 14.7h0M44.7 32.5h0M30.2 10.0h0M15.8 17.0h0M16.7 17.3h0M34.6 38.8h0M2.0 23.2h0M1.2 4.1h0M44.0 23.5h0M50.0 18.0h0M-0.2 15.5h0M31.9 38.9h0M53.4 19.3h0M21.9 3.3h0M34.8 8.0h0M7.4 -0.3h0M-0.7 28.1h0M5.8 40.2h0M3.9 36.0h0M6.2 -0.2h0M38.9 9.3h0M39.7 7.0h0M1.8 32.0h0M38.6 35.4h0M39.5 2.6h0M33.9 29.2h0M24.6 38.7h0M13.1 40.1h0M38.8 -0.5h0M-0.2 26.7h0M44.4 2.4h0M16.3 30.1h0M8.2 35.7h0M26.0 1.5h0M19.4 23.5h0M23.3 27.8h0M7.0 33.0h0M19.2 26.5h0M33.9 16.8h0M20.4 32.5h0M51.4 32.4h0M30.5 11.5h0M2.4 40.5h0M38.0 34.2h0M17.4 24.8h0M53.2 34.4h0M32.4 12.1h0M22.8 36.8h0M19.9 28.2h0M32.4 37.2h0M43.8 11.1h0M-0.9 10.2h0M22.4 24.0h0M44.3 36.8h0M1.3 34.5h0M44.1 35.9h0M30.7 10.7h0M46.2 33.4h0M37.0 37.9h0M18.3 2.6h0M29.7 33.0h0M10.1 31.0h0M50.7 9.0h0M32.7 27.9h0M24.8 7.8h0M13.1 31.0h0M42.9 18.6h0M3.9 33.4h0M41.9 8.9h0M31.2 37.2h0M48.1 21.2h0M25.5 24.1h0M9.5 7.2h0M9.0 28.9h0M19.1 23.0h0M21.3 21.0h0M7.3 0.9h0M54.3 14.9h0M4.9 26.0h0M42.7 5.7h0M32.1 13.7h0M27.8 -0.1h0M0.9 41.2h0M47.1 19.7h0M30.5 10.1h0M42.2 17.1h0M51.5 31.7h0M44.4 40.0h0M13.1 0.6h0M10.2 6.7h0M3.6 1.2h0M29.9 36.1h0M24.4 39.4h0M49.5 1.7h0M32.2 15.9h0M5.7 39.9h0M13.3 23.0h0M34.6 39.7h0M36.2 15.7h0M23.9 5.8h0M52.6 41.2h0M11.3 0.6h0M13.2 14.0h0M49.1 37.5h0M45.5 1.0h0M42.6 29.2h0M34.9 41.0h0M2.1 5.2h0M40.9 39.0h0M36.6 11.7h0M31.8 31.3h0M4.9 12.8h0M13.3 4.3h0M25.7 6.2h0M12.2 5.1h0M36.6 -0.5h0M38.8 7.3h0M1.0 38.5h0M11.2 38.8h0M47.1 36.9h0M6.8 18.1h0M4.4 38.6h0M45.7 25.8h0M24.1 13.5h0M44.7 19.3h0" stroke="#120b5e" stroke-width="1.35" stroke-linecap="round" fill="none" opacity="0.9"/><path d="M33.9 5.1l0.3 0.3M38.6 22.6l1.9 0.9M13.8 16.5l0.8 0.4M45.6 13.3l1.2 0.7M16.7 37.5l2.2 0.8M2.2 37.1l-0.4 0.6M25.5 11.2l0.5 0.5M19.2 41.2l-2.2 0.0M4.4 11.3l-0.4 0.1M39.3 11.5l-0.3 0.0M43.8 13.5l0.3 0.1M45.2 21.4l1.0 0.7M49.6 8.3l-0.1 0.6M9.0 31.8l-0.4 0.6M3.4 2.7l-0.4 1.3M14.2 7.8l-0.6 1.7M44.0 23.8l0.4 0.3M39.7 16.4l-0.3 0.3M44.0 13.3l-1.9 1.0M26.4 -0.3l-1.2 0.4M47.4 10.3l1.7 1.1M19.4 6.0l0.6 1.4M-0.7 21.1l0.2 1.4M5.7 29.4l-1.8 1.2M16.8 29.3l0.7 1.7M2.4 36.2l-1.3 0.2M27.5 21.6l-0.0 0.3M52.7 8.5l0.4 0.3M12.9 33.8l0.5 0.0M37.8 7.3l1.6 0.1M31.0 21.3l-0.3 0.4M47.3 29.5l0.6 0.1M26.4 20.3l0.4 0.4M21.5 4.8l-0.6 2.0M7.2 23.4l-0.5 0.5M44.8 38.9l0.4 1.1M45.6 21.4l0.7 2.2M42.1 13.4l0.7 0.7M23.2 40.8l-1.8 1.3M44.2 35.1l1.4 0.2M52.2 38.8l0.8 0.8M34.1 14.5l-0.0 0.4M23.0 20.5l0.6 0.0M52.8 32.1l-1.6 0.3M43.9 36.7l-0.3 0.1M34.6 10.3l-0.5 0.7M29.1 38.4l-0.3 0.8M27.9 17.5l-0.9 0.1M16.0 26.6l1.4 0.6M52.1 20.9l0.9 1.0M28.6 5.3l0.5 0.2M15.3 16.3l0.5 0.6M3.9 22.3l-1.4 0.8M30.6 26.7l1.4 1.1M24.6 22.3l-0.4 1.2M16.2 9.3l1.1 0.9M20.3 24.0l1.0 0.0M46.8 9.2l-0.2 1.3M14.8 41.1l1.2 1.5M7.8 1.8l-1.1 0.5M2.4 15.5l0.3 1.8M5.1 8.6l-1.8 0.2M7.6 13.4l0.8 1.5M33.2 35.2l-1.2 0.7M40.0 30.7l-0.9 0.9M42.6 29.2l-0.5 0.2M47.3 -0.8l-1.1 1.0M26.6 40.0l-0.3 1.1M42.5 36.2l-0.4 1.0M24.1 18.5l-0.6 0.7M20.7 22.7l0.3 0.9M42.7 35.2l0.0 1.2M9.2 12.0l1.4 0.7M31.3 2.7l-0.9 0.2M45.8 34.7l-0.7 0.1M22.7 37.8l0.4 0.0M30.4 20.2l-1.9 0.5M28.9 41.5l-0.1 1.4M37.0 15.6l0.7 1.4M18.5 39.4l-0.7 1.2M4.5 15.0l0.5 1.4M30.9 36.5l-1.3 0.1M23.4 25.6l-1.0 0.0M28.4 33.8l0.8 0.5M53.3 34.2l-0.0 0.5M48.6 28.4l-2.0 1.3M48.3 16.9l0.8 0.4M27.4 20.5l0.6 0.4M34.0 24.7l1.1 2.1M34.3 0.8l0.5 1.9M16.0 28.4l0.9 0.0M45.7 24.0l-0.4 0.6M26.6 22.6l1.1 1.2M28.5 41.5l-0.3 1.1M5.7 5.7l-0.4 0.4M4.6 6.3l-0.1 2.0M33.0 33.4l0.3 0.1M41.8 12.8l-0.7 0.8M8.4 10.4l2.1 0.7M31.3 13.9l0.2 1.1" stroke="#9484e0" stroke-width="1.0" stroke-linecap="round" fill="none" opacity="0.9"/><path d="M2.0 36.9l-0.5 2.1M23.4 25.4l0.3 0.3M50.7 35.4l1.1 1.7M44.3 11.9l-0.7 2.0M26.5 39.5l0.8 0.7M38.9 8.4l1.1 1.6M25.9 32.8l0.5 0.4M18.9 6.9l-0.8 0.1M30.2 3.9l-0.1 1.0M21.4 1.8l1.7 0.7M18.5 9.4l0.7 0.5M12.2 0.5l-0.5 0.8M7.7 29.1l0.8 0.2M45.3 4.4l0.3 1.9M43.7 5.8l0.7 1.5M19.9 39.8l1.7 1.3M27.0 8.7l0.1 0.5M38.2 10.1l-1.3 0.4M19.4 9.5l-0.2 0.7M47.4 4.2l-0.1 1.3M14.0 31.9l0.5 1.4M30.5 12.2l0.2 0.4M8.8 35.3l0.8 1.3M5.0 22.9l0.5 1.1M15.5 1.8l0.4 0.6M6.0 29.5l0.7 0.8M49.4 32.0l-1.8 0.7M6.3 10.8l1.6 0.1M35.8 14.0l0.4 1.5M37.8 9.6l-0.9 0.4M33.9 6.7l1.9 0.7M39.7 29.4l0.4 0.0M8.0 7.4l0.6 0.8M1.2 12.2l-0.3 0.6M45.6 23.3l-0.5 0.6M23.1 28.2l0.1 0.3M45.3 32.1l0.2 0.3M46.4 24.9l0.8 0.1M5.2 32.7l1.6 1.2M40.6 2.7l-0.6 0.9M40.5 34.3l0.3 0.4M51.5 17.1l-1.6 0.4M40.0 34.4l-0.5 1.1M2.0 28.7l0.3 1.2M50.5 4.4l-0.3 0.3M38.0 33.3l0.9 1.0M52.8 26.2l-0.1 0.8M2.3 14.2l0.2 0.7M16.2 4.8l-1.0 1.3M12.2 9.3l-0.1 1.1M50.9 14.0l1.2 1.6M6.9 23.0l0.9 1.6M29.4 31.4l1.4 0.8M32.2 18.6l-1.4 1.3M5.4 11.3l0.3 0.6M2.3 11.0l1.3 0.9M23.9 3.8l0.6 1.0M19.1 6.2l0.3 0.1M54.1 31.0l1.6 0.4M53.4 23.0l1.2 0.4M23.1 7.1l-0.0 0.3M50.0 26.5l-0.8 1.9M35.2 9.7l0.4 0.4M0.5 32.0l-0.8 0.4M9.3 26.2l-1.8 1.0" stroke="#e6ecd8" stroke-width="0.8" stroke-linecap="round" fill="none" opacity="0.95"/><path d="M8.3 32.4h0M45.1 30.6h0M17.1 6.9h0M44.8 12.6h0M19.5 22.5h0M19.5 34.4h0M12.3 0.8h0M30.5 25.8h0M44.5 29.1h0M49.2 39.3h0M26.4 20.3h0M7.7 11.8h0M31.3 2.4h0M37.2 6.0h0M23.6 40.3h0M4.0 0.7h0M23.4 7.1h0M39.1 -0.9h0M45.7 35.4h0M42.7 17.1h0M14.7 27.2h0M27.6 16.9h0M17.8 17.7h0M36.0 34.2h0M49.2 6.0h0M15.4 17.9h0M30.3 13.8h0M9.8 2.6h0M17.0 18.6h0M52.9 37.7h0M47.0 40.5h0M52.4 25.4h0M44.0 1.6h0M36.5 24.9h0M15.5 23.3h0M51.9 19.5h0M34.9 11.8h0M18.1 36.7h0M0.5 7.0h0M36.7 18.1h0M3.7 27.1h0M19.6 23.7h0M22.1 21.6h0M30.3 15.9h0M5.3 6.7h0M48.4 22.3h0M5.2 35.7h0M13.1 3.0h0M28.5 9.7h0M26.2 22.6h0M11.6 23.4h0M5.3 20.9h0M31.7 2.4h0M21.6 2.1h0M23.4 35.8h0" stroke="#b060d0" stroke-width="1.0" stroke-linecap="round" fill="none" opacity="0.85"/></g></svg>
<svg x="63.5" y="387.8" width="53.5" height="40.6" viewBox="0 0 53.5 40.6" overflow="hidden"><g filter="url(#bl)"><rect x="-2" y="-2" width="57.5" height="44.6" fill="#7e4cb4"/><path d="M29.6 29.4h0M41.0 3.9h0M54.0 29.7h0M4.7 34.4h0M20.8 6.3h0M52.3 23.0h0M42.0 4.8h0M42.1 1.5h0M12.1 14.9h0M-0.2 24.3h0M10.8 11.8h0M38.3 17.1h0M48.3 25.5h0M47.4 23.0h0M49.9 36.1h0M8.3 30.8h0M17.9 31.5h0M36.8 34.2h0M5.8 14.9h0M39.9 39.4h0M39.1 0.9h0M32.5 3.2h0M29.5 33.2h0M5.3 38.4h0M36.5 9.8h0M9.7 18.0h0M45.5 23.8h0M5.3 -0.1h0M5.1 33.1h0M9.3 22.6h0M15.1 28.3h0M20.1 5.1h0M47.6 21.9h0M37.3 33.4h0M51.7 -0.4h0M18.0 5.4h0M26.8 36.2h0M43.4 0.5h0M9.1 33.9h0M36.7 15.7h0M25.4 5.7h0M45.9 15.8h0M47.5 25.0h0M3.2 13.0h0M11.0 37.1h0M31.7 0.9h0M8.4 14.4h0M25.0 23.6h0M20.5 14.1h0M-0.7 23.7h0M17.5 -0.1h0M24.5 41.0h0M1.5 5.2h0M36.2 10.6h0M14.2 20.3h0M13.5 23.2h0M28.3 39.8h0M54.1 0.5h0M30.1 31.8h0M47.4 32.0h0M34.1 26.0h0M19.1 11.0h0M43.1 36.2h0M51.1 28.0h0M15.9 31.5h0M40.0 20.7h0M34.3 13.9h0M29.6 16.3h0M2.4 13.4h0M16.9 41.1h0M25.7 14.6h0M12.5 9.0h0M18.4 4.8h0M-0.6 36.1h0M24.1 18.0h0M30.6 11.9h0M8.4 1.8h0M15.7 12.1h0M39.3 22.5h0M51.0 13.5h0M50.1 23.9h0M3.4 6.6h0M31.2 41.1h0M18.8 32.0h0M22.8 36.0h0M2.8 19.6h0M48.9 10.8h0M13.3 -0.0h0M8.1 10.4h0M38.1 8.3h0M21.2 7.5h0M32.5 35.8h0M35.0 7.4h0M39.7 40.0h0M32.4 2.4h0M43.9 36.3h0M17.9 4.8h0M9.4 21.9h0M47.6 26.3h0M50.2 8.0h0M17.1 30.9h0M35.0 16.3h0M36.7 13.4h0M2.2 16.6h0M1.5 25.7h0M17.6 20.1h0M32.2 9.9h0M24.7 -0.4h0M50.4 23.0h0M53.8 1.4h0M33.1 29.8h0M17.3 3.0h0M7.7 5.1h0M41.6 2.8h0M44.2 17.0h0M28.9 24.1h0M29.8 27.0h0M32.4 13.1h0M40.1 10.0h0M38.5 31.5h0M42.1 12.2h0M41.9 40.6h0M24.2 10.9h0M28.0 39.1h0M6.3 -0.6h0" stroke="#dc4c9c" stroke-width="1.5" stroke-linecap="round" fill="none" opacity="0.9"/><path d="M25.4 26.9h0M42.0 14.4h0M53.9 8.7h0M41.0 2.8h0M0.6 4.7h0M2.3 20.4h0M29.8 6.7h0M51.2 14.6h0M7.3 6.6h0M39.9 38.3h0M8.0 0.2h0M42.2 9.3h0M53.5 20.3h0M34.3 13.7h0M43.4 18.6h0M17.0 37.5h0M5.0 30.2h0M2.6 26.5h0M21.3 35.8h0M2.3 23.0h0M21.8 38.2h0M51.4 25.7h0M11.4 9.7h0M13.6 17.5h0M11.8 7.7h0M41.1 26.4h0M15.6 41.4h0M11.0 23.3h0M7.7 35.8h0M47.2 10.4h0M40.7 34.1h0M14.7 13.1h0M25.9 37.0h0M8.0 28.1h0M32.2 18.3h0M31.1 36.6h0M10.6 36.6h0M19.0 32.2h0M46.9 6.8h0M47.0 41.4h0M15.5 0.0h0M5.2 40.5h0M-0.5 37.8h0M7.4 30.4h0M4.4 6.2h0M36.9 2.8h0M17.8 38.1h0M38.8 36.6h0M53.4 0.4h0M12.0 32.7h0M37.3 0.6h0M27.0 8.9h0M22.9 3.5h0M0.1 41.2h0M16.6 36.4h0M5.7 19.8h0M6.5 17.3h0M8.9 28.2h0M7.2 30.4h0M26.8 3.8h0M18.6 20.1h0M50.0 13.9h0M10.9 40.2h0M48.0 30.2h0M14.1 6.5h0M13.7 1.9h0M1.4 20.7h0M21.7 22.7h0M19.1 -0.5h0M37.2 26.8h0M29.2 22.4h0M37.3 40.8h0M47.5 29.6h0M21.2 12.6h0M22.3 40.4h0M20.5 15.4h0M21.8 5.1h0M54.4 -0.8h0M32.7 38.5h0M13.1 25.0h0M19.9 9.3h0M10.0 3.9h0M45.8 32.4h0M49.4 1.1h0M37.5 12.8h0M34.9 22.4h0M16.5 40.4h0M-0.9 30.8h0M46.4 20.7h0M31.9 41.4h0M12.0 25.8h0M40.3 15.1h0M38.5 15.8h0M28.2 25.1h0M36.6 12.7h0M33.9 22.1h0M11.4 25.1h0M13.7 37.7h0M25.3 29.7h0M28.0 19.3h0M11.3 5.1h0M50.5 21.5h0M28.1 21.5h0M44.1 9.2h0M8.6 34.0h0M24.5 26.3h0M44.9 37.1h0M47.2 0.8h0M20.2 34.4h0M44.4 4.2h0M7.5 9.7h0M4.7 14.2h0M43.6 21.2h0M24.1 2.7h0M21.0 41.5h0M37.6 18.1h0M25.5 33.0h0M41.1 5.4h0M36.7 14.6h0M27.9 9.1h0" stroke="#b054c4" stroke-width="1.7" stroke-linecap="round" fill="none" opacity="0.9"/><path d="M19.6 13.5l0.1 0.3M10.1 23.3l0.5 0.1M38.9 10.7l0.3 0.5M45.3 2.9l-0.6 1.3M10.2 17.0l-0.9 0.7M19.6 0.9l0.1 0.8M38.5 11.6l0.3 1.1M44.0 14.0l0.4 1.0M50.3 7.2l-1.2 0.1M19.7 27.4l0.2 0.3M41.0 15.2l-0.1 0.9M49.0 31.2l1.1 0.1M24.7 18.7l-0.7 0.4M25.3 36.9l0.2 0.9M27.4 34.1l-0.6 1.1M21.3 0.7l-0.5 0.9M41.7 31.8l0.5 0.2M3.3 33.8l0.4 0.1M40.8 23.0l1.2 0.2M38.5 19.6l1.2 0.2M22.2 23.9l-1.4 0.0M47.4 5.2l0.5 0.8M-0.7 41.1l0.4 0.5M16.4 9.9l-0.9 0.4M27.4 16.9l0.7 0.1M47.1 33.2l-0.6 0.3M10.2 1.2l-0.1 0.8M24.8 19.8l-0.2 0.7M43.5 7.5l-1.0 0.3M1.8 12.4l-0.1 0.8M30.4 12.8l0.9 1.0M15.2 29.3l-0.9 0.6M24.2 38.8l0.2 1.4M2.2 17.5l-0.2 0.3M46.9 2.1l-0.2 0.5M50.2 22.9l-0.8 0.6M36.4 27.8l0.3 0.5M45.5 5.2l-0.6 0.1M4.6 3.1l-1.2 1.0M22.0 27.1l1.0 1.1M37.1 5.6l1.2 0.2M1.3 34.6l0.4 0.5M31.3 12.6l-0.1 0.5M49.6 12.8l-0.4 0.2M43.4 40.8l0.1 0.3M20.1 26.3l0.8 0.7M4.2 18.8l-0.6 0.6M36.7 3.9l-0.4 0.2M50.2 41.4l-1.0 0.2M15.1 13.8l-0.7 0.7M50.6 3.0l0.1 1.4M32.2 22.0l0.5 0.1M14.1 37.0l-0.5 0.3M50.3 0.4l-0.5 1.5M18.1 39.2l-0.2 0.3M17.5 18.2l0.9 0.9M8.9 32.6l0.2 0.3M30.0 3.1l-0.2 1.3M32.1 18.7l1.0 0.1M4.4 26.6l1.0 0.4M18.6 15.0l-0.3 0.4M8.4 39.1l0.7 1.2M47.5 19.5l0.4 0.2M47.8 4.0l0.0 1.0M5.5 18.9l0.9 0.5M27.1 14.6l0.7 0.5M10.3 4.4l1.0 1.0M26.8 36.9l1.5 0.1M26.1 32.7l-0.3 1.2M11.7 31.0l0.6 0.3M0.7 15.8l-0.0 0.7M48.4 2.6l-0.1 0.6M32.0 32.4l-0.2 0.3M12.6 24.5l-0.4 0.0M33.3 28.5l-0.6 0.4M44.0 18.7l-0.3 0.1M51.2 16.5l0.1 0.4M12.6 30.3l-0.3 0.4M18.1 5.0l0.5 0.3M17.4 40.6l-1.3 0.0M25.6 20.2l-1.1 0.9M40.7 26.1l0.9 0.7M45.9 32.5l1.2 0.4M18.4 5.9l-1.2 0.1M40.4 4.7l-1.3 0.8M49.2 30.7l-1.2 0.7M31.8 17.5l-1.1 0.7M47.3 11.7l-1.0 0.1M51.5 3.9l-1.3 0.1M13.0 34.7l0.4 0.4M24.4 9.1l0.0 1.5M37.0 29.3l0.4 1.2M43.0 28.1l-1.4 0.3M21.5 2.7l-0.6 1.2M17.8 24.3l-1.2 0.7M-0.8 19.8l0.4 0.0M44.1 16.8l-0.3 0.8M17.6 8.1l0.6 1.3M33.4 11.4l0.6 0.2M37.9 17.8l-0.7 1.2M5.7 28.1l1.4 0.2M9.2 10.6l-0.8 0.1M11.4 36.9l-0.5 1.4M20.9 20.3l-0.9 0.1M53.9 7.1l-0.4 0.3M28.3 -1.0l1.3 0.8M24.2 33.5l0.5 0.5M4.6 22.5l-0.9 0.4M19.9 38.6l-1.1 0.4M3.2 25.6l0.3 1.5M19.1 27.2l-0.3 0.7M28.0 27.8l-0.9 0.3M19.2 40.6l1.4 0.2M36.9 22.7l0.2 1.3M48.5 30.0l-0.2 0.2M17.0 4.8l-1.4 0.2M7.0 24.0l-0.1 0.4M20.8 30.8l-0.3 0.6M41.3 11.4l-0.1 0.8M53.3 26.6l-1.0 0.7M20.1 40.0l-0.7 0.9M14.4 5.9l-0.3 1.3M43.0 13.8l0.9 0.4M47.7 5.9l-0.4 0.4M16.3 1.3l0.5 0.6" stroke="#bcd2c4" stroke-width="1.3" stroke-linecap="round" fill="none" opacity="0.9"/><path d="M52.7 40.0h0M9.4 12.2h0M51.4 7.4h0M16.8 17.7h0M5.0 10.1h0M20.9 15.4h0M52.5 10.4h0M10.3 37.7h0M24.0 34.7h0M34.4 32.2h0M16.5 5.5h0M41.0 19.0h0M30.0 27.6h0M40.8 10.7h0M19.1 38.1h0M28.4 11.3h0M34.0 10.1h0M41.8 0.8h0M44.9 23.1h0M18.6 39.0h0M13.7 9.4h0M2.9 22.4h0M40.8 27.9h0M21.9 33.4h0M5.2 12.1h0M34.8 40.2h0M34.2 28.5h0M42.0 15.8h0M51.2 30.6h0M18.0 15.7h0M43.7 13.9h0M9.3 36.1h0M28.5 21.2h0M36.2 37.4h0M6.4 13.4h0M2.7 16.6h0M26.9 35.3h0M36.1 23.6h0M21.4 23.4h0M14.2 35.0h0M42.8 34.7h0M7.4 27.6h0M40.9 20.3h0M48.9 37.3h0M40.2 34.0h0M35.0 36.4h0M6.3 29.0h0M38.1 25.1h0M14.3 1.9h0M32.5 34.1h0M14.2 8.1h0M11.4 3.0h0M36.5 40.5h0M43.5 14.3h0M37.8 2.1h0M45.5 12.9h0M-0.8 25.8h0M6.7 10.7h0M2.3 18.0h0M29.8 33.4h0M1.2 34.2h0M5.1 8.6h0M33.9 13.5h0M17.4 23.2h0M11.1 32.8h0M10.6 34.8h0M43.9 21.9h0M0.7 32.1h0M0.6 20.5h0M22.5 1.7h0M34.0 29.9h0M31.5 16.0h0M27.4 24.1h0M11.6 36.0h0M54.3 33.3h0M52.4 13.0h0M53.7 2.0h0M25.5 4.7h0M24.2 28.1h0M38.3 18.4h0M18.0 7.1h0M21.4 11.0h0M9.8 30.4h0M27.6 17.7h0M10.0 29.0h0M9.9 10.3h0M30.1 28.9h0M53.0 30.8h0M51.6 38.2h0M39.1 29.7h0M2.5 7.8h0M-0.3 35.8h0M39.1 25.8h0M13.6 14.1h0M8.1 25.9h0M54.0 12.0h0M1.5 6.5h0M18.7 37.3h0M43.6 18.4h0M4.7 3.5h0M7.5 32.1h0M25.2 41.2h0M49.6 32.9h0M25.4 34.0h0M6.1 3.6h0M30.3 20.6h0M10.6 9.7h0M0.2 37.7h0M38.4 39.3h0M53.4 17.6h0M39.6 15.4h0M44.1 34.8h0M6.4 -0.5h0M10.9 23.9h0M20.0 -0.6h0M45.1 32.5h0M24.7 0.8h0M48.3 21.8h0M2.9 12.8h0M33.7 36.7h0M25.9 26.2h0M10.4 9.4h0M49.3 15.3h0M4.8 24.2h0M6.0 7.5h0M24.3 23.9h0M34.3 29.1h0M23.4 1.9h0M39.2 1.3h0M25.1 16.0h0M36.3 29.4h0M12.3 26.7h0M37.4 19.1h0M6.9 37.7h0M32.2 1.7h0M12.2 41.0h0M11.7 15.7h0M42.7 34.1h0M34.2 30.6h0M1.1 3.0h0M53.2 33.2h0M1.1 1.1h0M12.3 38.6h0M11.2 27.6h0M50.6 26.2h0M50.0 10.2h0M7.5 -0.2h0M41.0 3.4h0M53.0 29.2h0M9.4 33.4h0M8.0 20.8h0M4.9 32.5h0M48.4 38.0h0M-0.9 35.3h0M29.9 34.0h0M26.9 25.4h0M32.0 33.1h0M3.3 1.3h0M29.3 11.4h0M21.0 -0.7h0M40.3 0.0h0M45.0 33.6h0M24.4 4.2h0M35.1 7.8h0M22.8 3.7h0M53.2 22.3h0M18.6 3.0h0M39.5 35.2h0M46.1 3.3h0M19.4 11.9h0M41.3 5.3h0M32.7 40.7h0M41.7 -0.7h0M3.2 3.8h0M37.4 24.5h0M27.9 18.4h0M21.6 25.0h0M35.0 38.0h0M39.7 32.9h0M49.7 34.7h0M38.8 0.3h0M36.8 35.2h0M22.9 36.4h0M9.0 39.2h0M23.5 29.1h0M13.0 11.8h0M18.3 12.8h0M4.3 17.9h0M53.4 26.9h0M50.7 31.5h0M45.4 41.4h0M40.8 10.7h0M12.9 16.6h0M0.2 8.8h0M48.2 38.2h0M17.2 31.8h0M42.0 36.9h0M43.1 21.7h0M4.8 34.2h0M16.4 25.7h0M19.4 21.9h0M52.6 5.9h0M28.5 26.7h0M28.9 39.0h0M21.6 37.9h0M37.3 40.2h0M4.0 8.0h0M15.0 37.6h0M-0.2 10.1h0M38.7 41.2h0M8.8 17.7h0M37.1 28.4h0M40.4 31.1h0M12.8 10.0h0M0.5 28.4h0M10.6 10.1h0M52.5 26.4h0M31.8 27.0h0M32.2 28.6h0M15.9 1.7h0M2.7 -0.4h0M19.1 5.1h0M5.3 20.0h0M52.8 28.3h0M14.2 31.8h0M8.9 3.3h0M15.8 16.4h0M37.3 18.0h0M39.4 3.0h0M50.7 13.6h0M45.2 0.3h0M45.0 8.6h0M46.5 33.2h0M36.2 10.8h0M-0.5 7.1h0M49.2 5.7h0M35.6 24.0h0M35.7 6.7h0M7.0 3.1h0M53.5 15.3h0M35.2 23.3h0M11.4 1.8h0M-0.2 35.3h0M6.2 40.0h0M19.2 29.8h0M6.7 32.6h0M13.0 14.6h0M28.0 3.7h0M12.8 32.9h0M14.8 15.2h0M41.4 8.5h0M9.8 8.3h0M20.3 14.6h0M34.6 19.1h0M47.3 1.2h0M35.8 34.6h0M12.0 0.3h0M23.3 3.9h0M24.5 29.3h0M4.2 4.0h0M25.6 6.4h0M11.8 17.8h0M5.6 1.9h0M19.0 19.0h0M51.0 22.6h0M3.0 8.5h0M40.3 23.0h0M47.3 40.0h0M46.6 3.7h0M51.4 21.4h0M12.3 6.3h0M47.0 8.0h0M3.6 10.3h0M50.3 18.6h0M39.6 2.2h0M24.1 12.5h0M10.4 27.2h0M19.0 4.1h0M53.6 19.5h0M9.0 -0.5h0M35.2 20.9h0M0.4 19.0h0M40.1 21.9h0M12.0 20.3h0M32.6 26.7h0M7.0 33.2h0M51.5 30.5h0M46.6 14.7h0M49.1 6.7h0M11.6 24.5h0M49.0 2.5h0M11.0 0.5h0M23.4 5.0h0M9.6 30.9h0M31.4 39.0h0M21.3 27.9h0M-0.3 39.4h0M11.9 19.3h0M27.4 39.4h0M26.3 41.3h0M33.5 8.2h0M45.3 7.6h0M54.5 18.5h0M11.6 39.9h0M16.9 16.3h0M18.0 27.5h0M0.3 14.9h0M8.0 34.3h0M-1.0 24.9h0M13.3 18.3h0M30.2 29.3h0M6.6 9.2h0M5.7 39.9h0M7.3 4.8h0M28.0 23.8h0M48.2 1.4h0M12.0 6.1h0M31.5 18.3h0M21.7 36.8h0M35.7 35.6h0M52.1 10.5h0M51.3 16.4h0M1.9 38.0h0M4.8 -0.3h0M15.1 11.3h0M52.7 36.1h0M22.3 21.6h0M46.1 33.4h0M35.3 20.8h0M5.5 9.4h0M35.5 24.0h0M43.5 37.3h0M52.4 7.2h0M3.2 37.2h0M30.7 6.7h0M37.4 9.9h0M12.1 14.6h0M28.1 27.9h0M3.1 30.6h0M33.6 19.1h0M36.3 33.1h0M-0.5 19.2h0M36.6 29.2h0M34.9 6.7h0M52.2 32.5h0M11.9 17.3h0M52.2 7.8h0M21.7 40.0h0M49.0 8.9h0M39.8 14.3h0M35.8 31.7h0M6.1 8.5h0M10.9 10.3h0M1.0 4.8h0M21.5 16.9h0M3.3 23.8h0M51.3 23.6h0M18.7 29.0h0M23.3 6.5h0M25.7 -0.2h0M36.5 5.9h0M19.5 40.0h0M41.6 34.6h0M34.6 26.0h0M38.1 40.2h0M9.9 31.6h0M15.7 9.9h0M44.6 24.6h0M46.2 36.3h0M31.7 7.4h0M-0.2 21.8h0M39.3 10.6h0M2.9 -0.8h0M8.6 28.6h0M-0.8 8.8h0M13.7 29.3h0M53.8 -0.2h0M5.3 38.8h0M52.8 5.3h0M17.6 21.3h0M16.8 16.8h0M25.6 10.0h0M2.1 2.6h0M8.0 2.9h0M33.6 28.7h0M13.6 32.7h0M39.4 13.6h0M26.3 7.0h0M50.6 22.9h0M1.8 5.6h0M37.4 15.4h0M38.8 8.8h0M43.2 33.2h0M4.2 24.0h0M9.6 29.2h0M43.6 32.7h0M11.8 3.0h0M35.8 23.1h0M6.7 7.2h0M31.3 3.6h0M34.2 9.3h0M13.3 17.0h0M28.6 29.9h0M0.7 29.9h0M11.3 11.4h0M34.5 28.4h0M33.1 37.4h0M10.4 12.3h0M35.8 10.1h0M7.7 8.6h0M41.8 34.2h0M38.8 39.8h0M43.1 12.2h0M16.5 29.7h0M2.1 25.0h0M3.9 1.1h0M27.5 5.4h0M50.7 36.4h0M24.6 7.4h0M5.6 20.6h0M27.9 14.5h0M38.8 21.5h0M42.0 3.5h0M2.9 15.5h0M25.8 9.8h0M36.1 8.5h0M16.7 19.3h0M38.5 31.8h0M19.6 18.0h0M50.5 38.8h0M33.3 3.5h0M24.3 26.1h0M14.5 0.6h0M53.5 37.8h0M6.2 18.8h0M33.4 11.8h0M2.8 31.0h0M41.8 17.6h0M3.8 15.8h0M4.2 40.0h0M1.8 11.3h0M41.6 4.8h0M4.9 2.0h0M8.1 21.7h0M45.2 6.2h0M8.6 31.6h0M22.6 13.4h0M5.8 9.3h0M52.9 4.0h0M13.4 30.6h0M48.5 37.5h0M25.2 39.7h0M32.5 11.3h0M24.8 29.5h0M39.7 4.5h0M9.7 39.8h0M4.9 33.7h0M17.8 9.6h0M13.2 19.0h0M54.0 5.3h0M46.4 12.7h0M8.6 30.7h0M18.0 7.0h0M22.2 34.0h0M46.9 23.5h0M-0.4 31.5h0M32.7 37.3h0M51.8 12.9h0M46.1 33.9h0M13.8 14.6h0M19.8 14.0h0M20.0 3.7h0M11.6 37.7h0M21.8 26.1h0M48.2 31.2h0M12.6 38.2h0M43.6 41.2h0M39.4 31.2h0M44.1 9.8h0M35.4 15.2h0M45.6 4.7h0M28.9 13.3h0M44.5 13.7h0M45.8 35.1h0M47.8 4.9h0M51.1 30.7h0M36.6 26.8h0M1.7 36.1h0M29.4 18.4h0M17.8 32.4h0M42.4 36.1h0M10.9 13.5h0M12.8 3.3h0M17.2 0.1h0M43.2 8.7h0M2.9 1.9h0M40.1 7.5h0M24.6 16.1h0M43.5 39.6h0M16.2 25.9h0M48.7 19.0h0M48.9 30.3h0M16.3 36.2h0M30.8 3.5h0M31.6 34.3h0M27.8 19.6h0M22.1 36.5h0M35.9 7.9h0M19.1 14.5h0M52.2 28.6h0M5.9 38.0h0M0.9 24.2h0M23.0 29.6h0M22.8 2.9h0M28.1 33.9h0M42.8 14.2h0M11.3 30.7h0M43.5 8.3h0M48.0 41.3h0M23.1 15.2h0" stroke="#120b5e" stroke-width="2.0" stroke-linecap="round" fill="none" opacity="0.95"/><path d="M38.4 38.6h0M10.2 11.9h0M17.3 30.2h0M9.4 22.3h0M26.8 27.5h0M7.0 39.8h0M54.5 22.9h0M43.1 6.8h0M49.5 22.5h0M41.2 36.0h0M19.1 38.4h0M10.5 -0.0h0M26.9 37.3h0M49.0 39.7h0M27.3 38.7h0M30.1 5.1h0M34.0 33.2h0M22.5 24.6h0M13.4 10.8h0M22.3 20.9h0M25.0 2.9h0M-0.7 13.5h0M38.8 30.9h0M12.2 9.9h0M27.7 6.5h0M32.5 37.5h0M10.2 23.9h0M39.0 30.9h0M38.5 29.3h0M14.1 34.7h0M50.3 1.2h0M51.4 17.9h0M3.8 2.0h0M43.2 27.9h0M6.9 18.6h0M34.4 41.5h0M17.7 31.7h0M12.6 7.5h0M7.9 16.5h0M33.3 11.9h0M8.0 8.3h0M3.7 7.2h0M16.5 20.5h0M9.2 19.4h0M23.4 40.4h0M26.0 39.2h0M25.2 7.4h0M31.9 5.2h0M8.4 2.1h0M37.9 40.2h0M21.4 14.1h0M22.6 14.0h0M37.3 15.7h0M7.5 35.8h0M30.8 -0.7h0M46.1 30.0h0M18.7 25.8h0M50.1 16.1h0M23.0 11.7h0M29.8 27.2h0M39.8 39.4h0M7.1 14.6h0M46.3 32.7h0M31.7 27.9h0M17.9 39.2h0M29.5 16.1h0M9.1 3.9h0M48.8 33.1h0M0.5 12.8h0M25.6 20.1h0M19.2 37.1h0M18.4 21.7h0M50.6 26.2h0M25.5 13.2h0M20.5 24.9h0M42.6 10.1h0M19.6 15.5h0M19.1 37.9h0M28.9 10.7h0M17.4 34.0h0M7.9 28.4h0M0.2 7.2h0M2.3 33.3h0M7.2 8.7h0M2.2 10.2h0M39.7 29.7h0M49.5 39.3h0M29.6 38.3h0M4.0 38.4h0M23.1 7.2h0M40.5 35.6h0M20.4 3.0h0M47.4 31.1h0M32.1 40.6h0M1.1 1.4h0M5.9 -0.1h0M38.3 25.8h0M5.2 5.9h0M9.0 25.0h0M36.3 40.3h0M19.0 40.7h0M23.1 15.7h0M13.1 8.9h0M53.1 41.4h0M38.2 6.5h0M9.0 5.5h0M18.5 30.4h0M2.3 21.6h0M36.8 0.4h0M23.4 32.7h0M31.0 18.2h0M47.9 24.6h0M17.7 15.9h0M51.4 35.6h0M49.8 22.9h0M6.9 6.5h0M20.3 28.4h0M-0.7 33.2h0M42.6 20.9h0M-0.7 33.0h0M22.0 27.5h0M30.6 30.0h0M21.7 39.9h0M52.0 38.6h0M33.1 12.5h0M19.9 10.5h0M49.2 32.7h0M42.7 34.0h0M54.0 28.3h0M16.7 31.3h0M13.6 25.0h0M7.8 35.5h0M26.1 10.7h0M50.2 2.5h0M50.6 31.2h0M7.3 31.4h0M30.8 37.6h0M31.6 17.2h0M50.8 2.7h0M42.1 3.4h0M14.4 3.8h0M47.4 17.8h0M39.3 9.9h0M39.5 26.6h0M4.4 20.0h0M39.1 8.1h0M35.3 10.8h0M19.6 38.2h0M51.3 41.5h0M22.7 23.4h0M43.9 31.3h0M24.3 35.8h0M21.3 39.5h0M25.2 4.1h0M40.6 5.2h0M36.7 1.3h0M53.8 22.0h0M40.1 4.6h0M34.3 15.0h0M12.8 33.7h0M0.8 19.4h0M3.8 35.3h0M48.6 0.5h0M24.8 19.0h0M38.9 30.1h0M18.0 38.7h0M9.3 4.8h0M44.2 4.1h0M9.3 20.3h0M17.7 6.0h0M50.6 19.2h0M42.6 9.7h0M49.6 8.4h0M49.3 25.1h0M52.9 31.9h0M34.0 21.7h0M46.4 17.9h0M4.5 37.9h0M43.7 28.1h0M40.3 8.9h0M24.7 34.1h0M52.4 38.3h0M7.9 28.1h0M29.8 16.3h0M8.3 4.8h0M25.1 20.0h0M13.9 14.7h0M29.7 31.5h0M31.7 5.9h0M48.2 14.7h0" stroke="#4430b0" stroke-width="1.5" stroke-linecap="round" fill="none" opacity="0.85"/><path d="M52.3 40.8l0.8 0.4M52.7 15.4l-0.1 0.6M0.6 7.7l0.5 0.2M33.9 23.0l-1.0 0.2M19.1 39.4l-0.3 0.8M46.9 27.5l0.4 0.8M15.7 40.3l0.9 0.9M2.6 -0.6l-0.1 0.5M27.2 4.0l-0.8 0.5M37.0 38.5l-1.0 0.0M38.6 -0.9l0.7 0.1M52.8 12.3l-0.1 0.3M22.1 37.4l-0.3 1.1M-0.3 7.6l1.0 0.6M4.6 38.7l0.8 0.9M27.6 12.8l-0.7 0.1M37.7 1.9l-1.1 0.7M5.1 30.8l0.3 0.3M19.2 27.2l-1.3 0.2M54.1 25.6l-0.2 0.4M39.3 22.5l0.5 1.1M13.2 5.0l0.4 0.2M31.7 33.1l0.7 0.4M30.9 22.9l0.2 0.8M-0.2 1.5l0.1 0.5M41.0 9.3l-0.5 0.3M4.1 19.3l0.2 0.6M41.5 8.5l-0.6 1.0M24.1 20.4l-0.9 0.2M9.0 2.0l0.6 0.2M3.9 26.6l0.1 0.6M27.4 38.9l0.3 0.3M15.9 12.8l-1.0 0.3M22.8 6.1l0.4 0.1M46.0 26.6l0.8 0.4M2.2 20.6l0.2 0.3M40.2 29.5l-0.0 0.5M36.2 17.5l-0.2 0.3M49.1 -0.8l0.5 0.4M10.0 2.7l-0.7 1.1M17.6 10.3l-0.3 0.4M21.2 28.3l0.1 0.4M2.9 22.1l-1.2 0.0M4.5 20.4l0.0 0.5M36.2 20.1l-0.5 0.3" stroke="#eeeee4" stroke-width="0.8" stroke-linecap="round" fill="none" opacity="0.9"/></g></svg>
<svg x="120.7" y="387.8" width="53.5" height="40.6" viewBox="0 0 53.5 40.6" overflow="hidden"><g filter="url(#bl)"><rect x="-2" y="-2" width="57.5" height="44.6" fill="#5a4cc6"/><path d="M50.8 33.7h0M25.3 5.0h0M25.8 4.4h0M37.1 28.7h0M31.1 40.6h0M1.5 29.5h0M43.4 3.8h0M16.9 1.3h0M31.4 29.8h0M18.3 28.6h0M19.4 29.3h0M14.4 40.7h0M23.3 -0.8h0M4.1 29.9h0M47.0 26.1h0M7.6 36.1h0M38.8 3.9h0M20.1 27.6h0M-0.8 0.8h0M18.6 36.3h0M54.3 12.6h0M49.4 32.5h0M47.0 24.1h0M52.8 26.4h0M51.6 23.1h0M9.9 21.1h0M25.8 13.4h0M19.7 20.7h0M31.6 8.5h0M14.4 20.4h0M27.0 16.8h0M35.9 6.9h0M28.5 10.7h0M41.7 29.0h0M42.3 21.0h0M12.8 38.4h0M27.4 15.0h0M15.1 16.1h0M38.3 33.9h0M25.8 30.1h0M10.8 18.3h0M18.9 12.1h0M19.0 31.2h0M39.7 7.8h0M12.0 32.4h0M35.3 27.8h0M34.3 28.5h0M14.1 1.6h0M19.0 0.4h0M52.4 21.4h0M36.2 40.2h0M43.6 8.8h0M17.7 3.6h0M43.2 30.4h0M26.1 14.7h0M14.0 19.8h0M38.5 37.1h0M46.1 36.0h0M23.4 16.9h0M16.4 40.5h0M9.2 5.7h0M14.6 38.3h0M46.3 13.1h0M46.3 36.9h0M22.7 7.2h0M41.9 15.0h0M5.6 37.5h0M23.4 15.9h0M32.0 9.9h0M0.1 15.6h0M20.1 -0.5h0M19.6 31.4h0M17.5 28.0h0M33.7 7.0h0M0.1 27.7h0M32.9 11.5h0M10.1 35.4h0M49.5 8.9h0M31.5 23.5h0M16.9 0.6h0M17.1 26.5h0M32.4 20.7h0M5.8 8.1h0M16.3 16.7h0M19.2 37.4h0M5.4 41.0h0M12.3 35.5h0M12.5 24.0h0M19.9 0.6h0M43.2 33.5h0M13.9 32.1h0M25.6 41.0h0M2.0 15.2h0M11.6 25.6h0M42.2 34.9h0M29.4 15.5h0M43.4 3.5h0M13.4 31.1h0M23.4 41.3h0M4.0 18.7h0M10.8 -0.9h0M4.2 2.9h0M19.5 17.4h0M27.2 11.3h0M38.0 21.0h0M53.5 6.2h0M27.3 20.0h0M19.6 35.7h0M10.6 36.4h0M18.9 13.3h0M33.1 23.0h0M14.8 2.6h0M52.0 14.7h0M5.3 27.0h0M28.5 13.0h0M17.2 35.0h0M17.8 16.8h0M52.1 14.4h0M21.3 5.9h0M35.8 27.3h0M23.8 16.3h0M11.9 32.7h0M24.4 34.4h0M19.8 30.2h0M0.6 8.4h0M52.3 28.1h0M36.5 20.2h0M25.2 7.4h0M8.6 26.5h0M37.5 10.0h0M34.8 4.8h0M33.0 6.3h0M27.3 12.4h0M29.6 4.7h0M25.8 25.3h0M6.5 12.1h0M36.7 22.3h0M33.2 32.2h0M30.7 8.5h0M23.6 34.4h0M30.5 31.1h0M19.2 18.1h0M52.8 34.0h0M35.2 3.5h0M33.0 0.4h0M50.8 40.4h0M39.4 10.4h0M45.9 6.5h0M44.9 21.2h0M-0.1 36.9h0M23.4 34.4h0M37.2 21.7h0M46.9 7.6h0M48.9 13.4h0M0.4 13.3h0M2.7 2.1h0M33.6 4.1h0M7.9 11.5h0M14.5 38.2h0M49.2 36.1h0M53.9 17.8h0M43.2 11.0h0M50.4 33.5h0M39.6 8.7h0M4.1 38.4h0M29.6 25.1h0M46.8 5.1h0M37.8 18.8h0M42.6 18.4h0M9.9 39.7h0M14.6 30.7h0M45.1 9.6h0M37.6 15.9h0M11.4 8.3h0M51.9 14.7h0M27.3 20.4h0M0.5 31.1h0M40.4 36.3h0M18.8 7.9h0M18.3 30.2h0M35.5 16.3h0M28.1 5.6h0M50.0 19.1h0M27.1 32.5h0M10.0 29.8h0M18.6 33.6h0M4.2 10.8h0M34.3 19.6h0M19.9 23.7h0M11.1 17.6h0M-0.9 33.0h0M13.1 34.4h0M29.6 24.6h0M33.7 4.3h0M42.1 11.4h0M46.9 32.5h0M36.6 33.7h0M23.2 27.7h0M51.9 7.1h0M4.6 16.5h0M27.3 5.4h0M11.3 35.9h0M20.5 5.3h0M9.2 23.6h0M9.5 19.2h0M28.8 17.7h0M27.0 34.6h0M-0.1 38.6h0M10.1 0.6h0M41.6 23.3h0M28.9 8.3h0M42.3 12.1h0M39.3 8.7h0M30.8 26.6h0M19.6 19.4h0M2.6 26.4h0M37.4 5.5h0M29.6 30.2h0M4.6 34.7h0M47.3 1.2h0M12.8 2.6h0M13.0 2.7h0M26.2 9.7h0M15.7 18.7h0M19.6 32.6h0M39.1 3.9h0M11.4 -0.6h0M17.3 3.6h0M37.7 32.2h0M54.3 7.9h0M1.0 31.2h0M21.9 38.7h0M20.8 12.3h0M3.0 39.4h0M27.4 17.8h0M23.3 31.7h0M45.1 19.3h0M8.9 16.3h0M48.5 16.4h0M35.7 22.8h0M24.6 23.5h0M12.6 22.7h0M47.0 2.4h0M19.5 36.5h0M53.3 -0.4h0M33.8 25.9h0M45.8 19.0h0M6.3 11.8h0M38.6 30.0h0M10.4 26.4h0M35.4 27.0h0M0.2 17.8h0M17.0 24.4h0M17.7 4.5h0M36.2 11.2h0M42.9 12.0h0M29.3 33.4h0M5.4 30.1h0M2.8 38.9h0M0.4 29.8h0M19.5 6.7h0M20.9 20.4h0M22.0 4.2h0M28.0 11.8h0M52.7 15.3h0M23.2 8.7h0M52.8 12.7h0M34.9 34.5h0M20.8 31.2h0M14.5 3.7h0M1.3 18.1h0M47.5 7.6h0M23.4 31.5h0M14.3 5.5h0M27.8 17.1h0M51.1 37.2h0M12.2 22.9h0M22.1 0.4h0M23.7 38.0h0M15.8 24.0h0M38.4 1.7h0M50.3 3.7h0M15.7 29.5h0M0.1 15.0h0M6.0 19.2h0M-0.1 5.4h0M11.3 2.5h0M4.0 7.3h0M27.7 4.8h0M44.6 16.8h0M13.0 9.3h0M45.6 1.0h0M40.2 3.2h0M51.4 16.4h0M32.2 35.8h0M4.6 1.7h0M37.5 24.0h0M39.0 10.8h0M26.6 7.0h0M23.3 11.0h0M31.5 11.7h0M14.3 26.4h0M3.7 33.1h0M26.5 8.8h0M5.4 20.7h0M27.0 29.7h0M19.7 16.6h0M48.5 10.7h0M53.4 37.0h0M54.0 39.2h0M13.3 33.7h0M33.0 7.7h0M54.4 26.6h0M43.9 22.8h0M3.4 35.8h0M8.7 10.0h0M33.2 7.3h0M24.7 29.4h0M4.3 27.1h0M4.8 19.3h0M35.0 28.3h0M1.4 7.1h0M52.3 15.7h0M22.6 15.0h0M37.6 30.5h0M35.1 16.1h0M30.6 21.0h0M9.4 39.4h0M52.6 32.1h0M54.1 18.8h0M45.6 9.3h0M40.2 29.5h0M51.1 34.5h0M47.8 10.4h0M42.7 19.2h0M16.3 14.7h0M43.3 34.9h0M45.9 27.5h0M8.5 5.6h0M30.5 8.0h0M17.7 3.4h0M7.6 29.5h0M11.4 35.1h0M17.3 35.2h0M15.8 10.4h0M20.9 -0.5h0M23.2 15.2h0M-0.3 35.7h0M19.8 -1.0h0M52.3 8.7h0M13.0 0.0h0M4.5 29.2h0M31.3 20.5h0M12.7 11.2h0M52.8 14.9h0M53.9 36.8h0M5.9 35.1h0M0.2 29.3h0M43.9 28.6h0M29.5 33.6h0M7.6 22.0h0M13.8 16.0h0M9.6 29.2h0M30.8 32.2h0M33.9 24.5h0M50.2 33.6h0M30.5 12.9h0M50.5 14.8h0M4.7 13.2h0M38.2 38.7h0M34.8 27.2h0M51.0 32.1h0M23.7 18.7h0M41.2 12.5h0M5.1 25.4h0M43.9 9.6h0M36.9 37.0h0M6.1 4.8h0M26.4 13.2h0M51.7 41.5h0M23.7 32.8h0M34.1 6.4h0M52.9 6.4h0M3.2 18.3h0M-0.0 19.5h0M21.9 39.7h0M22.0 35.2h0M42.3 24.0h0M12.2 12.0h0M26.3 15.8h0M34.8 20.5h0M16.9 24.9h0M54.3 7.6h0M17.6 -0.5h0M4.2 1.4h0M22.5 34.6h0M37.7 40.2h0M45.5 24.0h0M31.2 -0.5h0M20.3 10.1h0M33.4 1.8h0M29.1 15.0h0M26.3 16.2h0M4.7 30.2h0M43.4 24.5h0M5.4 24.5h0M47.3 41.0h0M41.1 0.9h0M47.8 27.3h0M14.3 38.2h0M44.8 37.1h0M12.7 23.6h0M20.0 11.6h0M41.2 25.3h0M17.4 22.1h0M50.5 23.1h0M49.7 23.1h0M54.1 0.2h0M24.5 22.5h0M39.3 40.3h0M33.6 19.4h0M34.2 21.7h0M38.1 39.3h0M-0.2 12.6h0M47.6 1.5h0M42.9 0.3h0M35.0 33.1h0M12.2 15.2h0M11.6 29.0h0M28.3 24.8h0M17.1 24.0h0M52.0 32.2h0M51.8 9.5h0M27.6 15.4h0M18.2 33.2h0M8.7 22.8h0M42.0 38.9h0M0.0 10.5h0M26.4 38.9h0M8.1 34.8h0M21.0 22.3h0M50.5 1.7h0M17.3 5.6h0M6.4 11.9h0M37.9 23.7h0M5.8 33.1h0M27.2 5.1h0M44.5 34.0h0M11.0 39.0h0M44.0 8.8h0" stroke="#2c1ca8" stroke-width="1.9" stroke-linecap="round" fill="none" opacity="0.92"/><path d="M-0.9 35.9h0M44.8 3.2h0M41.5 31.9h0M34.2 34.5h0M53.7 13.0h0M45.3 38.2h0M16.4 28.1h0M37.0 35.2h0M30.5 10.7h0M13.0 22.1h0M6.5 35.6h0M48.4 9.3h0M37.7 27.7h0M5.8 32.2h0M41.5 12.0h0M4.4 11.0h0M41.8 18.9h0M44.3 5.8h0M4.9 13.9h0M47.8 5.9h0M3.1 31.1h0M4.1 27.4h0M3.6 9.5h0M35.8 36.2h0M21.7 18.2h0M0.7 13.5h0M12.4 32.6h0M38.6 32.4h0M28.5 28.8h0M6.1 15.4h0M15.3 11.0h0M40.0 8.1h0M17.1 11.0h0M47.0 26.2h0M25.7 15.2h0M50.1 39.0h0M24.0 23.1h0M46.9 9.9h0M13.4 3.4h0M26.9 31.7h0M7.7 17.4h0M54.0 19.5h0M20.2 34.8h0M48.5 15.0h0M5.9 26.1h0M40.1 38.3h0M35.6 12.1h0M27.6 11.3h0M23.8 18.9h0M49.6 37.6h0M50.4 19.4h0M52.5 4.9h0M50.1 26.3h0M47.4 16.6h0M54.0 0.1h0M46.1 33.9h0M19.8 34.3h0M10.9 31.1h0M25.0 16.5h0M9.9 33.1h0M39.6 2.8h0M53.3 8.4h0M19.8 16.7h0M31.0 36.9h0M51.5 26.0h0M19.3 3.6h0M2.8 21.1h0M31.4 18.1h0M53.5 16.6h0M18.5 16.8h0M8.5 39.0h0M31.8 22.1h0M22.6 9.7h0M16.5 20.0h0M23.8 40.7h0M30.3 7.8h0M2.0 5.8h0M18.2 32.3h0M48.4 9.1h0M42.3 17.8h0M28.8 21.7h0M1.4 1.8h0M36.0 28.4h0M20.1 38.2h0M44.5 11.9h0M2.7 22.6h0M35.3 8.6h0M1.4 19.8h0M0.9 30.4h0M33.7 10.9h0M23.7 8.9h0M9.3 6.7h0M44.3 18.3h0M38.7 13.8h0M43.8 24.4h0M35.3 15.7h0M30.2 7.1h0M53.0 27.6h0M28.6 26.2h0M4.6 13.2h0M11.8 34.9h0M-0.3 17.9h0M47.2 32.3h0M38.9 11.8h0M11.9 29.0h0M15.6 29.8h0M18.4 31.4h0M30.8 33.7h0M53.7 15.1h0M53.8 -0.6h0M47.7 0.3h0M29.3 15.5h0M41.7 12.4h0M10.6 32.4h0M29.5 31.2h0M26.2 0.6h0M41.8 8.3h0M25.2 -1.0h0M13.4 27.4h0M41.4 26.1h0M23.6 30.2h0M36.1 7.8h0M28.7 24.5h0M39.4 7.4h0M16.2 13.6h0M4.3 13.8h0M39.5 23.6h0M8.6 30.2h0M5.5 31.0h0M7.2 3.1h0M13.0 20.9h0M14.0 36.7h0M51.1 11.1h0M40.6 28.6h0M30.1 9.9h0M51.7 39.7h0M-0.3 13.1h0M16.8 7.5h0M22.9 37.3h0M0.3 34.6h0" stroke="#3c2cb6" stroke-width="1.5" stroke-linecap="round" fill="none" opacity="0.9"/><path d="M16.1 -0.4h0M48.9 10.6h0M10.8 4.0h0M19.4 4.1h0M9.0 9.7h0M31.1 18.0h0M15.9 21.4h0M42.0 29.8h0M18.1 38.1h0M42.9 22.9h0M25.4 13.0h0M6.4 36.7h0M32.8 3.2h0M50.4 36.8h0M0.9 28.8h0M12.2 21.8h0M45.3 13.9h0M26.7 27.3h0M9.7 25.7h0M22.6 40.9h0M9.4 29.3h0M1.3 10.7h0M5.5 5.3h0M28.3 6.4h0M43.1 3.1h0M33.6 35.7h0M6.0 8.3h0M41.5 19.0h0M50.7 13.4h0M21.1 39.8h0M18.1 40.2h0M48.5 7.5h0M29.3 39.1h0M5.5 35.2h0M42.0 30.9h0M32.3 3.3h0M52.2 3.4h0M42.5 29.8h0M16.6 28.2h0M21.8 31.0h0M1.4 38.8h0M20.3 33.2h0M25.2 33.6h0M15.7 22.2h0M0.4 19.8h0M3.4 35.6h0M36.6 17.1h0M53.1 39.3h0M52.1 2.5h0M38.1 30.0h0M32.6 -0.3h0M50.3 17.7h0M32.0 33.7h0M14.3 0.2h0M50.2 10.5h0M1.3 4.8h0M54.2 30.5h0M10.6 5.2h0M48.8 27.3h0M31.4 4.6h0M21.9 39.3h0M-0.8 16.9h0M2.2 41.5h0M4.8 39.6h0M45.7 30.2h0M1.3 28.6h0M26.4 19.9h0M7.1 20.8h0M43.5 4.6h0M47.6 16.9h0M13.8 9.2h0M24.5 26.6h0M30.6 36.9h0M27.4 20.8h0M53.9 8.2h0M-0.1 13.0h0M16.4 4.3h0M22.2 0.5h0M50.1 19.6h0M47.8 28.7h0M39.5 31.3h0M15.7 30.1h0M10.4 22.6h0M32.0 32.0h0M8.3 13.7h0M44.7 33.3h0M53.3 4.0h0M10.7 3.5h0M39.2 30.8h0M35.0 32.2h0M27.6 23.0h0M50.1 26.6h0M35.4 24.1h0M26.4 31.2h0M30.8 4.5h0M22.6 16.9h0M23.0 22.9h0M19.1 15.7h0M22.7 14.8h0M52.9 2.8h0M-0.1 29.7h0M20.9 18.1h0M31.8 14.6h0M12.3 -0.3h0M47.5 39.0h0M14.9 18.8h0M17.0 1.5h0M48.5 34.6h0M12.4 9.9h0M37.7 32.9h0M25.1 15.5h0M12.0 33.0h0M46.9 35.5h0M5.3 24.3h0M53.7 29.5h0M24.5 5.2h0M2.4 30.2h0M2.8 33.5h0M35.9 19.2h0M48.5 38.7h0M33.2 3.2h0M31.7 16.9h0M12.9 38.6h0M39.5 4.2h0M11.7 13.6h0M30.8 12.8h0M23.4 33.6h0M9.1 29.7h0M17.4 39.2h0M51.8 12.9h0M32.6 3.7h0M21.8 25.6h0M34.4 13.6h0M0.9 4.3h0M30.1 6.3h0M16.0 25.3h0M49.0 21.0h0M13.1 24.0h0M14.3 32.3h0M7.7 10.2h0M23.3 37.7h0M8.2 7.2h0M6.3 8.1h0M17.4 15.8h0M41.2 16.2h0M25.4 15.9h0M42.0 37.5h0M22.6 38.2h0M12.9 40.7h0M28.2 28.1h0M20.2 10.6h0M6.5 36.7h0M19.0 28.8h0M24.6 21.4h0M10.5 6.5h0M17.7 28.0h0M29.2 -0.9h0M38.4 17.5h0M2.8 10.1h0M10.7 34.1h0M29.5 12.9h0M12.8 11.4h0M14.5 13.8h0M42.9 32.6h0M37.7 36.7h0M35.3 3.8h0M1.5 6.0h0M13.3 21.5h0M44.6 24.0h0M22.8 9.3h0M53.5 31.1h0M17.9 1.0h0M53.5 9.9h0M46.0 4.0h0M35.2 14.2h0M48.3 11.7h0M4.6 7.5h0M43.7 40.7h0M34.7 28.0h0M14.7 10.6h0M3.8 41.0h0M1.4 25.1h0M18.4 7.0h0M23.2 38.7h0M12.8 6.0h0M33.9 27.0h0M27.3 6.7h0M47.5 3.7h0M8.7 9.3h0M27.5 19.3h0M29.7 30.0h0M48.6 19.0h0M1.3 34.4h0M0.0 12.5h0M6.9 24.7h0M42.4 4.5h0M15.3 35.3h0M37.2 3.6h0M37.1 32.8h0M21.7 5.6h0M35.6 12.6h0M6.4 6.0h0M21.3 4.4h0M20.4 22.5h0M29.6 16.2h0M43.4 2.7h0M17.3 38.8h0M47.0 38.2h0M41.5 21.8h0M42.7 23.4h0M5.5 9.9h0M4.4 36.3h0M16.9 16.4h0M28.9 3.3h0M38.2 32.9h0M43.2 36.5h0M16.6 5.2h0M41.3 28.5h0M19.6 13.6h0M7.5 34.4h0M24.6 33.6h0M17.9 12.7h0M27.5 30.8h0M48.0 14.0h0M37.5 16.2h0M46.8 31.4h0M29.8 14.4h0M14.2 36.7h0M43.5 12.0h0M3.7 7.3h0M52.5 0.7h0M44.0 21.5h0M29.7 22.0h0M21.8 22.7h0M4.0 38.2h0M4.7 4.9h0M36.3 26.3h0M43.8 28.5h0M50.7 1.2h0M-0.4 9.1h0M42.2 5.5h0M28.5 31.8h0M7.7 21.5h0M49.0 30.8h0M21.1 19.4h0M14.4 39.9h0M42.4 28.0h0M15.9 30.2h0M26.0 33.0h0M19.2 36.6h0M37.0 18.2h0M30.2 33.3h0M28.4 39.9h0M-0.6 37.2h0M38.6 19.8h0M46.2 5.3h0M17.7 29.4h0M44.7 14.9h0M54.2 26.6h0M1.5 4.2h0M3.2 23.3h0M16.9 10.1h0M23.8 2.3h0M49.4 34.7h0M30.0 17.9h0M16.1 24.7h0M18.2 40.6h0M52.1 30.0h0M44.8 2.2h0M5.9 13.7h0" stroke="#120b5e" stroke-width="1.35" stroke-linecap="round" fill="none" opacity="0.9"/><path d="M6.0 17.0l-1.7 0.1M52.2 8.4l0.3 0.2M14.2 1.4l-0.1 0.8M36.4 22.9l-0.2 0.8M39.8 28.4l-0.7 0.9M24.7 11.2l1.1 0.1M33.2 6.9l-1.6 0.8M46.4 33.8l0.0 0.6M14.0 30.4l-0.5 0.0M-0.7 14.1l0.6 1.2M5.2 34.9l0.9 1.6M17.3 12.0l1.7 1.0M31.7 34.2l1.2 0.2M39.7 40.9l-0.5 0.1M19.7 41.5l-0.2 1.9M13.1 0.1l-0.7 0.1M30.1 14.4l-0.5 1.8M51.6 36.4l1.2 1.2M0.0 16.7l-0.7 0.1M19.4 23.8l1.1 1.0M35.2 3.0l-0.4 0.1M37.7 13.8l0.4 0.2M54.4 33.1l0.2 1.6M52.8 38.5l-0.1 0.8M27.8 40.8l-1.0 1.1M45.8 16.4l-0.3 1.7M10.1 35.6l1.2 0.1M30.9 5.2l-1.0 0.3M9.3 16.5l-0.3 1.0M-0.8 2.9l-0.3 0.4M13.2 33.4l-1.6 0.8M8.7 -0.8l-0.9 0.9M19.2 -0.2l0.2 0.7M31.6 40.8l0.3 0.3M37.5 3.6l0.8 0.7M53.7 12.8l0.6 0.9M8.0 16.1l-0.5 0.7M43.2 6.9l1.3 0.4M24.1 38.1l1.5 0.5M36.2 14.8l1.2 0.5M41.1 19.1l0.1 1.5M32.8 17.0l0.9 0.6M29.5 37.2l-1.2 0.0M17.2 8.5l-0.6 1.4M12.8 28.4l-1.0 0.0M51.1 17.6l-0.8 1.6M10.3 13.7l-0.4 0.0M16.0 19.3l-1.0 1.0M50.6 27.5l0.4 0.0M1.0 17.4l1.2 0.1M34.1 7.6l-0.9 0.4M52.3 14.2l-0.4 1.1M13.6 32.2l0.7 0.0M16.8 36.6l-0.0 0.4M15.6 25.0l-0.4 0.3M42.3 15.6l-0.1 1.0M23.3 41.2l-1.8 0.5M39.8 28.8l0.3 0.2M45.1 27.7l-0.3 0.8M13.8 38.2l-0.0 0.3M17.9 13.9l1.9 0.4M49.1 33.7l1.0 0.0M5.2 29.9l-1.4 0.9M42.9 4.1l0.5 0.0M45.8 34.3l-0.0 0.7M46.6 4.1l0.2 0.3M53.5 16.7l-1.3 1.1M31.2 41.0l-1.4 1.2M52.5 2.5l-0.5 0.5M17.0 13.5l-0.4 0.0M23.1 4.5l-1.1 0.0M38.0 21.2l-0.6 0.6M21.9 30.7l-1.1 1.5M16.2 35.1l-0.9 0.9M21.7 23.2l0.5 0.1M16.3 4.3l1.5 0.2M39.6 25.2l1.2 0.9M44.8 25.4l1.0 0.8M20.9 10.5l1.6 0.8M34.1 38.7l0.6 0.4M27.3 1.5l0.7 1.0M25.7 37.7l-0.3 1.3M31.5 32.5l0.1 0.3M53.4 32.8l0.5 0.2M11.3 27.0l0.3 0.1M26.4 -0.7l0.7 0.7M10.4 -0.9l0.5 0.5M17.0 16.7l0.4 0.8M0.1 34.7l-0.8 0.8M-0.8 8.9l-1.0 0.3M10.4 33.9l-0.5 0.2M26.8 22.9l0.8 0.3M33.3 27.7l-0.5 1.2M20.0 1.9l1.7 0.1M47.0 37.6l1.6 0.4M8.5 13.8l1.4 1.0M44.5 34.5l0.7 1.8M13.4 23.5l-0.4 0.6M20.2 3.3l-0.5 0.4M6.5 10.8l-0.6 1.3M28.1 35.4l-0.5 0.5M28.7 6.2l0.4 0.4M3.3 13.9l-1.3 0.5M3.9 8.3l-0.3 1.2M0.5 3.0l-0.3 1.3M3.5 31.9l0.9 0.9M28.4 13.5l-1.0 0.2M22.5 22.0l-1.7 1.0M41.7 21.9l-0.9 1.1M52.2 40.3l-0.5 0.5M30.6 17.7l1.2 1.1M11.3 29.2l0.0 1.0M38.2 29.9l-2.0 0.1M43.4 10.2l-0.6 1.0M51.2 18.0l0.1 0.3" stroke="#a094ea" stroke-width="1.0" stroke-linecap="round" fill="none" opacity="0.9"/><path d="M25.1 21.7l0.3 0.4M25.9 2.0l0.9 0.5M18.3 20.3l-0.1 0.9M6.4 -0.2l-0.3 1.8M14.6 14.0l0.8 1.3M26.4 32.9l0.5 0.0M10.4 14.7l0.3 0.9M52.6 17.7l-0.4 1.8M34.6 24.3l-0.7 0.4M1.0 39.8l-0.1 1.2M2.7 30.7l0.5 1.2M14.7 38.1l0.3 0.7M48.6 8.5l0.7 0.8M53.4 3.9l1.2 1.0M3.2 16.7l-1.1 0.9M43.0 4.0l-0.8 0.3M44.2 19.1l-1.0 0.4M13.3 5.4l0.0 0.4M8.1 36.3l-0.4 1.6M7.4 19.5l0.0 0.5M13.6 38.3l-0.7 0.9M32.8 35.7l-1.2 0.2M1.8 36.1l0.6 0.3M6.6 20.8l-0.3 1.0M25.1 5.0l-0.7 0.9M16.1 34.5l-1.7 0.3M53.7 1.9l0.3 1.0M13.2 30.7l-0.5 0.2M27.1 40.2l-1.0 0.3M4.8 18.4l-0.1 1.6M9.3 10.9l-0.3 0.0M32.9 3.0l-0.7 0.7M50.4 8.5l-0.6 0.2M1.6 2.7l0.9 0.2M52.9 14.1l-0.2 0.3M27.6 22.0l1.2 0.4M23.8 12.9l-1.2 0.7M5.7 3.5l0.7 0.1M34.3 40.3l-1.7 0.2M5.9 32.7l-0.8 0.7M54.3 24.5l0.6 0.2M6.2 25.0l-0.6 1.5M-0.4 -0.6l-0.7 0.1M13.7 35.9l1.5 0.5M48.8 23.0l-0.1 0.3M32.7 25.1l-0.8 0.7M5.3 8.5l-0.2 0.4M4.9 9.7l-0.9 0.7M18.8 40.1l-0.2 0.7M30.4 35.4l0.4 0.9M31.0 41.1l-0.2 0.5M31.3 12.7l0.1 1.4M0.1 20.6l0.7 1.0M44.5 18.9l-0.3 0.7M13.2 20.7l-0.1 0.7M41.5 20.3l0.3 0.6M45.4 37.4l-0.7 0.1M3.0 25.9l1.7 0.1M36.7 13.4l0.3 1.4M7.9 14.5l-1.1 0.9M31.5 3.4l0.6 0.4M0.7 26.3l-0.4 1.7M29.8 38.1l0.1 1.1M14.6 18.8l-1.1 0.2M-0.9 14.1l1.1 0.8M27.3 19.3l-1.5 0.3M3.8 0.3l-0.7 1.0M35.2 20.3l1.0 0.1M45.4 24.6l0.5 0.1M49.2 22.2l1.2 0.7M50.3 35.9l-0.7 1.4M3.9 18.7l-0.7 0.5M7.0 35.9l-0.2 0.2M2.5 22.7l-1.3 0.2M47.6 3.5l-0.1 0.6M17.4 5.4l0.0 0.4M35.4 26.5l-1.5 0.5M3.2 36.0l-0.2 1.8M26.3 2.5l-0.3 0.5M53.6 22.0l-1.0 0.3M17.1 27.2l-0.6 0.8M14.3 16.9l-0.4 0.5M7.8 19.6l-0.2 0.4M14.1 40.4l1.0 1.1M16.0 2.7l0.1 1.7M42.1 1.0l-0.8 1.0M25.8 27.3l-0.0 0.6M37.6 4.5l0.9 1.4M30.5 20.8l-0.7 0.9M20.3 22.5l0.9 0.1M1.2 41.4l-1.3 0.4M7.8 35.4l1.0 1.2M35.1 24.8l-0.5 0.5M45.3 22.1l-1.2 1.1M13.1 16.5l0.2 0.4M47.6 28.2l0.0 1.2M47.8 2.0l0.6 1.3M28.7 20.2l0.5 0.5M36.2 13.5l-1.7 0.3M52.8 10.8l-0.0 0.5" stroke="#e4eedc" stroke-width="0.8" stroke-linecap="round" fill="none" opacity="0.95"/><path d="M18.9 2.2h0M26.8 39.8h0M41.3 14.5h0M14.3 38.7h0M1.9 35.0h0M46.5 1.9h0M51.8 26.5h0M20.6 17.1h0M32.8 21.4h0M47.2 37.1h0M17.1 -0.6h0M42.2 26.6h0M35.4 2.2h0M3.2 37.3h0M19.2 19.1h0M53.0 7.3h0M34.2 1.6h0M30.1 30.5h0M7.7 31.4h0M52.8 34.2h0M42.9 39.4h0M38.8 22.3h0M44.8 33.3h0M33.9 27.5h0M8.9 13.4h0M17.1 35.6h0M42.4 11.4h0M54.2 1.5h0M2.4 13.0h0M3.3 39.5h0M18.9 15.5h0M46.4 21.7h0M34.0 17.7h0M24.5 39.8h0M14.4 21.4h0M25.6 5.0h0M7.1 20.6h0M43.3 17.4h0M2.3 38.8h0M6.6 36.7h0M1.5 26.7h0M7.1 10.1h0M22.4 31.2h0M23.2 16.8h0M21.3 21.2h0M14.6 39.6h0M9.6 4.6h0M29.4 14.0h0M39.0 0.7h0M36.6 14.5h0M50.5 11.8h0M23.0 12.5h0M28.6 11.0h0M36.2 16.5h0M38.3 11.4h0" stroke="#c064cc" stroke-width="1.0" stroke-linecap="round" fill="none" opacity="0.85"/></g></svg>
<svg x="6.5" y="443" width="53.5" height="40.6" viewBox="0 0 53.5 40.6" overflow="hidden"><g filter="url(#bl)"><rect x="-2" y="-2" width="57.5" height="44.6" fill="#9c7ce2"/><path d="M24.3 22.7h0M38.9 26.8h0M22.8 2.7h0M5.2 5.2h0M9.2 6.8h0M35.7 13.5h0M49.4 9.0h0M12.6 6.8h0M7.0 28.1h0M31.1 9.7h0M44.0 27.8h0M22.8 24.9h0M35.4 17.8h0M4.1 14.5h0M51.5 14.9h0M34.5 2.8h0M42.0 35.8h0M19.7 14.8h0M27.5 9.7h0M10.6 4.5h0M37.1 20.7h0M52.1 40.0h0M47.5 39.2h0M45.5 0.0h0M6.2 40.6h0M47.5 25.2h0M33.4 17.6h0M22.6 5.2h0M29.4 10.7h0M5.8 36.1h0M30.9 36.3h0M15.3 23.6h0M14.4 34.4h0M10.6 26.6h0M29.8 12.9h0M3.4 19.7h0M28.0 33.9h0M10.3 6.9h0M16.0 33.2h0M11.9 26.0h0M0.8 2.5h0M38.3 20.2h0M5.3 19.1h0M51.2 15.7h0M29.9 16.9h0M27.0 0.8h0M48.0 23.7h0M18.3 11.1h0M9.4 38.8h0M45.7 15.1h0M32.5 22.5h0M10.1 0.4h0M39.8 5.9h0M30.4 -0.3h0M0.2 6.0h0M35.3 25.1h0M54.0 27.1h0M28.0 -0.4h0M52.2 19.8h0M46.6 0.8h0M45.3 19.3h0M11.0 16.3h0M3.2 23.7h0M11.2 28.9h0M8.6 28.4h0M33.3 29.3h0M51.8 11.6h0M36.9 15.9h0M48.6 34.2h0M41.4 24.6h0M13.5 37.7h0M52.8 39.5h0M17.8 34.0h0M36.7 34.8h0M43.5 18.4h0M20.9 32.9h0M35.3 22.0h0M47.5 0.4h0M-0.3 18.8h0M4.4 34.9h0M3.9 36.6h0M11.5 4.7h0M40.8 27.9h0M21.8 24.4h0M29.7 39.4h0M27.2 22.0h0M24.6 16.5h0M37.3 3.8h0M37.4 38.6h0M41.2 22.1h0M18.6 3.2h0M4.1 22.0h0M47.8 35.9h0M9.2 30.9h0M43.8 19.4h0M46.6 7.0h0M17.6 20.9h0M39.3 18.1h0M15.8 35.9h0M20.8 16.9h0M11.4 19.6h0M38.2 14.4h0M35.7 20.0h0M-0.3 40.0h0M15.0 22.2h0M52.2 7.8h0M2.5 7.8h0M7.5 35.3h0M27.7 0.8h0M14.1 20.8h0M8.7 12.1h0M49.2 17.9h0M11.9 24.5h0M5.3 21.2h0M35.0 2.8h0M29.4 12.2h0M40.3 25.2h0M49.5 24.9h0M9.2 6.9h0M38.1 33.5h0M2.5 16.8h0M14.7 18.9h0M47.4 22.8h0M40.3 31.6h0M14.4 25.4h0M19.8 19.2h0M28.4 27.4h0M8.3 34.7h0M7.9 12.3h0M46.1 41.0h0M19.4 39.6h0M1.1 39.7h0M10.2 0.5h0M41.3 5.9h0M40.7 -0.7h0M5.9 14.2h0M3.7 19.1h0M18.2 30.5h0M26.4 40.1h0M45.8 6.3h0M49.9 37.1h0M30.4 21.4h0M8.4 12.7h0M11.2 7.4h0M33.1 12.8h0M41.6 23.4h0M44.9 2.7h0M46.0 20.6h0M34.1 9.2h0M37.6 16.3h0M39.0 23.9h0M6.8 11.8h0M40.7 -0.3h0M34.1 22.2h0M38.7 13.0h0M25.5 19.3h0M40.6 2.1h0M27.3 10.1h0M31.7 10.1h0M10.4 8.9h0M48.7 14.5h0M47.8 30.3h0M13.9 22.6h0M-0.5 38.7h0M34.0 3.8h0M27.8 20.1h0M36.2 11.3h0M49.5 25.5h0M3.0 33.9h0M48.1 12.0h0M38.5 35.6h0M47.9 2.0h0M45.4 9.6h0M43.5 28.2h0M24.8 37.4h0M43.6 41.4h0M52.2 23.4h0M39.8 27.6h0M21.2 20.2h0M27.2 8.2h0M13.5 35.0h0M46.0 28.7h0M37.2 20.7h0M30.8 27.4h0M-0.6 17.9h0M52.8 7.8h0M24.9 2.3h0M13.2 34.1h0M0.8 33.0h0M43.3 36.0h0" stroke="#f04c9e" stroke-width="1.5" stroke-linecap="round" fill="none" opacity="0.95"/><path d="M13.3 38.7h0M19.6 18.2h0M51.8 22.2h0M36.8 3.7h0M-0.7 10.3h0M4.9 34.1h0M12.9 39.8h0M36.6 7.2h0M38.4 12.5h0M28.2 2.2h0M45.2 32.5h0M31.2 28.4h0M17.9 4.4h0M17.0 30.5h0M30.3 4.7h0M12.4 19.2h0M-0.2 0.9h0M24.0 4.7h0M48.3 4.5h0M40.6 32.9h0M16.5 22.1h0M54.1 25.3h0M20.5 40.6h0M13.4 39.7h0M16.2 17.0h0M16.5 26.8h0M48.0 28.4h0M9.1 41.2h0M39.1 20.6h0M46.2 3.6h0M32.2 32.5h0M42.1 27.7h0M2.5 19.4h0M13.9 24.9h0M21.0 18.4h0M28.9 24.1h0M48.4 11.0h0M14.3 6.9h0M5.2 35.2h0M50.0 4.4h0M19.0 37.5h0M46.9 40.7h0M54.1 11.9h0M2.7 9.6h0M26.9 -0.3h0M13.1 19.1h0M36.8 5.6h0M5.8 13.1h0M4.0 4.2h0M4.7 33.1h0M47.8 0.8h0M43.6 34.9h0M35.1 11.8h0M44.5 2.5h0M1.6 39.7h0M11.3 38.0h0M40.9 1.0h0M4.2 26.5h0M7.1 27.4h0M36.3 8.9h0M25.4 8.0h0M47.4 25.9h0M37.4 25.5h0M2.4 36.7h0M42.3 20.9h0M31.8 20.0h0M40.9 21.7h0M14.4 21.0h0M10.9 -0.8h0M27.9 36.1h0M38.9 7.9h0M27.2 23.9h0M31.2 18.6h0M27.3 28.3h0M47.9 21.0h0M42.5 28.0h0M5.6 10.0h0M16.4 14.1h0M26.3 11.5h0M54.4 30.3h0M19.6 28.8h0M50.3 5.8h0M33.9 39.8h0M19.8 36.4h0M43.6 12.6h0M7.0 33.4h0M22.1 13.9h0M24.7 30.0h0M48.6 38.0h0M41.5 6.5h0M19.5 -0.7h0M10.1 13.5h0M8.8 19.3h0M6.3 26.8h0M21.8 9.5h0M37.1 13.0h0M0.3 34.7h0M40.9 36.4h0M15.3 10.2h0M37.6 5.2h0M52.6 26.8h0M29.4 1.2h0M14.7 17.0h0M53.4 5.2h0M31.8 2.3h0M52.9 30.8h0M44.1 30.9h0M9.0 9.3h0M1.2 22.5h0M3.5 7.0h0M8.7 38.2h0M42.8 11.2h0M52.9 5.8h0M6.8 15.2h0M43.7 3.2h0M42.8 22.2h0M43.3 13.3h0M1.3 3.2h0M39.1 20.6h0M41.4 7.5h0M14.5 8.0h0M46.2 29.0h0M7.6 29.9h0M1.2 18.9h0M13.3 31.6h0M38.9 28.1h0M9.9 0.8h0M34.5 28.6h0M-0.5 34.7h0M48.8 14.4h0M27.8 26.7h0M50.4 26.7h0M27.6 31.8h0M26.2 0.4h0M29.4 16.6h0M17.6 15.8h0M11.3 12.3h0M40.5 36.7h0M24.3 35.0h0M6.0 21.0h0M40.3 32.3h0M20.5 6.2h0M52.3 25.0h0M35.2 13.7h0M5.3 23.3h0M21.5 36.9h0M35.8 31.2h0M30.6 31.1h0M6.4 41.4h0M31.2 24.5h0" stroke="#cc5ed0" stroke-width="1.5" stroke-linecap="round" fill="none" opacity="0.9"/><path d="M9.5 2.9l-0.9 1.2M36.0 9.9l0.1 1.6M34.6 37.8l1.6 0.4M-0.3 25.6l-0.0 0.4M22.3 27.5l-0.4 0.2M27.3 32.9l1.7 0.7M51.1 13.6l0.4 0.3M11.2 16.8l-1.1 1.5M30.0 39.6l0.3 1.4M-1.0 16.8l0.5 0.0M43.9 3.9l0.7 1.0M28.2 0.3l1.4 0.5M21.5 2.9l0.1 0.9M54.5 1.0l0.4 0.2M29.6 39.9l-0.4 0.3M28.9 14.2l-1.5 0.1M32.5 9.9l0.2 1.2M20.0 23.0l1.0 0.3M53.8 16.0l-0.0 1.6M44.1 30.4l0.6 1.4M10.1 25.3l0.6 0.0M8.7 14.0l-0.2 0.2M47.6 2.9l-1.9 0.3M33.1 34.8l-1.0 0.2M46.5 0.5l-1.1 0.9M42.1 5.4l1.1 0.3M32.7 28.3l1.1 0.7M52.8 9.8l-1.6 1.0M36.3 17.8l0.3 1.1M5.9 2.2l0.4 0.5M48.9 14.4l-1.2 0.5M48.8 37.2l-0.7 0.8M12.5 23.0l1.0 1.4M1.4 26.1l0.5 0.9M29.1 40.8l-0.9 0.0M52.1 39.7l-0.1 1.3M10.0 32.6l0.1 1.6M50.2 25.6l-0.7 1.0M6.3 18.6l0.6 0.1M53.4 15.2l0.9 0.4M2.3 24.9l0.5 0.4M34.3 38.4l1.5 0.1M31.3 19.7l0.1 0.3M18.5 21.3l1.0 1.7M17.9 35.0l-1.4 0.9M26.3 20.3l-0.4 0.2M11.5 -0.4l0.0 1.1M52.0 38.7l0.3 1.1M4.8 31.1l-0.0 0.6M47.7 0.8l0.9 0.6M54.3 4.9l1.1 1.2M17.7 38.6l0.7 0.0M16.2 35.1l1.4 0.5M48.2 40.5l-0.3 0.2M25.8 8.3l0.7 0.3M39.8 23.5l0.7 0.3M2.7 38.5l-0.8 0.8M52.4 40.7l0.6 0.4M9.6 25.8l-0.3 1.1M42.0 21.6l0.8 1.2M51.7 1.1l0.0 0.5M40.5 17.4l-1.3 0.7M52.2 23.7l-0.6 1.9M43.6 13.4l1.8 0.6M2.5 38.3l-1.4 0.3M51.7 24.9l-0.9 0.9M11.3 2.4l-0.7 0.8M5.9 22.8l0.5 0.6M47.6 25.3l-1.2 1.2M23.2 18.2l0.2 0.9M42.2 36.7l0.9 1.2M11.0 -0.7l-0.9 1.4M17.3 41.4l-0.5 0.7M41.2 34.9l1.7 0.8M23.1 10.7l0.4 1.1M28.3 11.5l1.3 0.3M38.8 28.6l0.6 1.7M-0.0 4.5l1.2 0.1M28.0 8.7l-0.0 0.3M1.0 40.0l-0.4 0.1M35.4 20.6l-0.2 1.7M34.6 39.1l-1.0 1.6M5.5 34.0l1.0 1.6M42.9 40.2l-0.7 0.7M28.1 32.3l1.2 0.2M30.5 29.6l0.6 1.2M39.9 15.3l-1.0 1.5M19.5 21.4l0.1 1.7M14.0 11.2l0.5 1.3M7.6 40.7l-0.0 1.5M21.9 0.2l0.4 1.2M4.0 40.7l-0.3 1.0M0.6 9.5l0.7 1.2M8.7 19.7l0.8 0.9M37.2 21.1l-1.0 1.0M3.6 27.0l0.1 1.6M51.0 14.0l-0.6 0.3M35.1 -0.8l-0.9 0.6M24.2 20.2l0.3 0.6M37.4 25.7l0.7 0.1M50.7 11.1l0.8 1.0M19.7 39.4l-0.5 0.0M11.5 6.3l0.1 0.8M36.4 36.7l0.3 0.1M5.2 12.2l0.9 0.4M19.2 30.0l-2.0 0.2M22.3 26.4l1.2 0.5M48.0 36.7l0.5 0.2M49.1 28.7l-0.3 0.3M33.3 -0.0l-1.1 1.2M16.9 -0.9l-1.3 1.5M33.4 14.6l0.9 1.4M52.8 14.6l1.5 1.3M22.7 17.8l0.9 1.3M53.5 19.0l-0.9 0.4" stroke="#ece6f8" stroke-width="1.0" stroke-linecap="round" fill="none" opacity="0.9"/><path d="M22.4 33.2h0M52.9 31.2h0M38.1 34.2h0M50.0 39.6h0M28.5 15.5h0M-0.6 21.4h0M18.7 -1.0h0M54.1 12.1h0M50.7 -0.3h0M19.0 32.4h0M36.4 27.7h0M26.1 2.9h0M45.1 31.4h0M25.5 22.9h0M43.6 20.1h0M25.4 19.6h0M39.9 30.3h0M17.6 32.1h0M19.8 27.7h0M19.9 37.3h0M51.2 32.1h0M20.2 14.0h0M23.1 24.8h0M0.9 22.2h0M50.5 1.7h0M48.5 23.4h0M54.4 29.8h0M38.9 31.1h0M22.4 4.0h0M46.4 36.4h0M39.0 8.3h0M26.7 20.9h0M19.2 19.9h0M24.4 40.8h0M33.8 40.6h0M49.4 6.6h0M41.8 15.2h0M32.2 23.0h0M40.1 11.8h0M36.6 14.7h0M42.4 20.0h0M34.7 41.5h0M14.6 -0.8h0M48.7 21.4h0M34.9 34.4h0M48.4 15.4h0M53.8 15.6h0M39.3 34.4h0M19.1 16.9h0M19.3 13.6h0M21.9 35.1h0M2.4 41.1h0M42.9 22.8h0M34.6 11.8h0M41.4 36.2h0M20.2 20.3h0M11.1 9.7h0M46.3 26.4h0M23.8 26.3h0M9.3 -0.8h0M18.8 23.5h0M9.2 22.1h0M17.0 10.2h0M40.1 14.4h0M40.2 30.9h0M19.8 0.3h0M45.8 22.5h0M31.2 28.2h0M29.5 37.6h0M-0.5 40.3h0M33.2 16.4h0M49.4 37.1h0M32.1 -0.6h0M33.6 16.6h0M30.8 34.4h0M6.3 35.0h0M16.2 9.7h0M1.1 3.5h0M13.9 21.5h0M51.2 6.3h0M15.0 14.9h0M34.5 14.1h0M36.2 5.4h0M1.4 23.7h0M39.2 4.7h0M1.7 27.5h0M2.6 38.4h0M37.3 5.8h0M21.7 1.4h0M3.9 14.0h0M47.7 37.8h0M40.8 26.2h0M31.4 20.8h0M35.4 20.2h0M21.1 34.6h0M15.7 16.3h0M36.7 40.1h0M18.1 17.5h0M21.3 7.9h0M18.7 32.6h0M9.4 19.3h0M14.8 23.6h0M41.9 3.9h0M26.0 7.0h0M34.9 27.9h0M11.3 8.8h0M15.8 13.0h0M48.5 36.2h0M42.9 15.8h0M24.4 7.6h0M24.5 39.5h0M4.1 15.8h0M9.8 35.0h0M15.7 19.8h0M1.9 28.4h0M27.5 33.1h0M39.0 30.7h0M13.6 9.7h0M32.2 1.1h0M51.0 29.7h0M26.4 14.4h0M3.3 22.6h0M41.9 4.0h0M4.5 28.2h0M25.1 32.7h0M21.8 40.8h0M47.4 12.7h0M28.8 24.0h0M24.0 33.8h0M38.1 33.9h0M13.0 20.5h0M29.2 23.9h0M-0.1 33.6h0M23.9 5.8h0M46.4 22.7h0M40.1 30.5h0M33.6 37.9h0M2.1 13.2h0M8.1 26.1h0M11.2 0.2h0M6.6 6.4h0M29.0 18.4h0M24.8 -0.5h0M28.3 9.8h0M4.1 1.4h0M7.4 16.1h0M8.3 18.7h0M8.1 30.3h0M47.6 12.8h0M3.0 40.1h0M3.7 26.7h0M41.0 19.6h0M48.5 5.3h0M39.0 37.6h0M48.8 35.2h0M23.2 20.8h0M46.1 15.2h0M13.2 0.3h0M10.3 5.0h0M50.6 12.2h0M18.6 40.5h0M37.3 17.5h0M4.9 14.6h0M15.1 39.4h0M22.4 40.4h0M14.0 1.0h0M48.9 2.2h0M42.7 24.4h0M14.8 34.5h0M22.8 40.9h0M30.0 39.2h0M50.6 15.0h0M37.4 30.0h0M35.4 -0.0h0M37.2 31.4h0M9.7 3.1h0M2.7 22.2h0M4.9 35.1h0M22.0 41.4h0M39.7 17.2h0M9.1 17.2h0M32.7 35.7h0M48.5 12.8h0M0.3 27.3h0M37.2 26.6h0M43.6 33.6h0M33.7 34.0h0M5.9 39.3h0M36.0 3.0h0M8.3 26.3h0M16.0 38.9h0M14.5 19.7h0M26.9 39.0h0M15.9 37.0h0M39.1 23.2h0M51.5 36.6h0M40.6 22.2h0M1.4 8.4h0M35.1 4.0h0M34.7 13.8h0M20.5 34.0h0M45.7 30.8h0M23.8 21.8h0M53.7 38.4h0M32.7 2.4h0M49.0 0.9h0M5.5 27.1h0M9.9 31.1h0M37.1 6.0h0M49.4 41.5h0M35.5 40.8h0M43.5 19.2h0M44.8 39.0h0M37.6 2.6h0M19.7 29.0h0M19.3 6.1h0M24.3 5.0h0M25.3 3.2h0M39.3 8.1h0M50.9 3.6h0M34.0 26.4h0M10.0 25.7h0M29.5 25.2h0M9.3 19.3h0M45.4 25.3h0M12.5 13.2h0M47.8 1.3h0M25.5 20.9h0M22.9 -0.9h0M4.9 34.9h0M24.3 11.4h0M24.1 1.2h0M3.5 34.3h0M41.2 7.4h0M16.6 2.3h0M16.6 21.2h0M40.8 20.6h0M46.1 41.5h0M30.5 0.8h0M6.5 27.7h0M6.2 37.3h0M2.0 1.4h0M54.3 16.3h0M29.8 24.4h0M5.6 13.3h0M19.5 30.4h0M42.4 28.6h0M9.0 18.7h0M49.8 6.4h0M18.4 25.2h0M54.2 0.1h0M37.4 18.7h0M28.4 34.8h0M4.3 24.5h0M16.6 31.2h0M38.7 16.7h0M7.4 31.6h0M37.9 23.0h0M40.4 39.4h0M12.6 28.4h0M43.8 10.3h0M49.1 12.4h0M52.1 23.8h0M53.0 36.7h0M42.4 14.8h0M24.4 24.0h0M43.7 16.7h0M48.9 8.2h0M27.9 5.2h0M8.5 11.4h0M1.6 23.3h0M33.4 15.9h0M43.3 22.3h0M36.9 2.6h0M17.3 -0.1h0M7.9 35.2h0M6.5 24.4h0M20.0 27.7h0M47.4 34.3h0M52.6 40.1h0M21.1 41.1h0M41.3 10.8h0M17.2 21.3h0M45.9 3.2h0M48.5 27.6h0M31.9 16.3h0M20.2 16.3h0M38.7 17.9h0M38.6 36.3h0M3.8 -0.2h0M51.2 7.2h0M44.2 16.2h0M11.5 -0.5h0M22.8 24.6h0M2.0 -0.5h0M14.9 36.5h0M40.6 9.9h0M21.4 16.7h0M38.3 11.1h0M18.7 20.5h0M12.2 17.3h0M40.5 20.5h0M2.1 13.9h0M30.6 8.9h0M20.5 22.8h0M19.2 6.8h0M47.6 1.8h0M49.3 3.0h0M29.7 22.2h0M21.7 25.7h0M48.0 12.6h0M2.3 7.5h0M47.8 24.5h0M40.9 15.6h0M17.0 28.4h0M30.5 37.9h0M7.9 13.6h0M37.4 37.6h0M24.9 32.6h0M5.1 26.2h0M17.3 28.5h0M15.5 7.0h0M13.9 29.8h0M38.5 37.9h0M22.0 1.8h0M43.9 9.9h0M38.8 19.8h0M23.7 0.3h0M11.6 30.9h0M24.5 36.6h0M43.8 21.7h0M53.6 -0.9h0M21.2 21.7h0M2.0 36.1h0M7.3 23.7h0M14.0 15.3h0M24.8 11.3h0M8.5 27.4h0M33.8 2.4h0M53.0 3.5h0M11.4 11.0h0M19.2 19.9h0M49.1 3.3h0M30.9 25.6h0M13.3 14.1h0M23.7 36.8h0M42.1 19.4h0M2.8 14.2h0M44.3 17.5h0M20.7 26.2h0M1.2 26.6h0M37.0 3.8h0M22.2 35.5h0M13.6 21.6h0M18.2 22.5h0M20.7 13.7h0M50.3 28.5h0M54.4 13.3h0M24.9 14.6h0M47.1 14.6h0M36.7 6.5h0M29.1 10.5h0M49.7 14.6h0M51.9 23.1h0M17.9 22.5h0M50.7 28.5h0M44.7 23.1h0M33.3 5.0h0M45.2 26.3h0M35.0 11.9h0M41.3 21.5h0M16.8 41.3h0M41.9 27.9h0M45.6 28.7h0M20.3 39.7h0M49.3 27.6h0M23.1 20.3h0M1.5 36.9h0M45.1 24.3h0M24.9 33.2h0M0.2 16.1h0M12.9 24.9h0M18.7 24.9h0M48.8 16.5h0M5.4 -0.4h0M45.4 19.0h0M23.5 0.3h0M4.7 -1.0h0M48.7 1.0h0M16.9 19.2h0M30.8 8.5h0M34.8 26.2h0M53.7 3.0h0M15.4 3.4h0M15.1 8.1h0M0.7 33.4h0M14.3 30.7h0M44.2 32.9h0M0.4 24.0h0M46.2 25.9h0M32.5 17.1h0M44.7 21.7h0M18.5 20.1h0M25.2 7.0h0M36.3 34.5h0M35.3 -0.6h0M21.5 31.6h0M6.3 20.5h0M36.9 21.8h0M17.3 -0.3h0M38.1 6.1h0M32.4 21.3h0M39.1 3.8h0M53.0 30.9h0M47.4 6.9h0M39.0 15.1h0M37.9 28.7h0M21.7 39.4h0M23.3 18.9h0M38.7 5.4h0M48.7 13.2h0M48.3 5.2h0M5.9 24.2h0M12.4 17.7h0M10.1 29.9h0M39.9 28.2h0M6.5 1.0h0M31.3 2.5h0M38.7 22.3h0M50.7 33.9h0M35.4 34.2h0M27.2 11.4h0M2.4 29.0h0M35.9 25.9h0M27.4 18.4h0M50.0 15.0h0M6.8 39.5h0M41.3 37.2h0M53.7 17.6h0M7.6 20.0h0M26.2 15.5h0M42.6 9.7h0M52.9 8.0h0M14.8 34.3h0M12.0 29.9h0M14.2 16.4h0M25.1 9.5h0M44.7 39.1h0M50.3 5.8h0M0.4 17.8h0M40.1 22.3h0M52.3 41.1h0M36.9 10.1h0M21.3 1.8h0M20.9 31.0h0M16.6 6.9h0M28.9 37.2h0M34.8 3.7h0M23.0 8.8h0M44.1 16.8h0M23.6 36.4h0M15.5 18.1h0M53.4 12.1h0M28.9 26.6h0M17.6 25.8h0M22.4 34.4h0M29.9 30.0h0M30.8 28.7h0M20.6 5.3h0M19.2 12.9h0M-0.2 31.8h0M28.1 19.5h0M38.1 1.8h0M6.0 29.5h0M1.3 36.0h0M27.2 40.2h0M46.7 16.4h0M18.1 17.5h0M41.7 18.7h0M39.0 41.2h0M40.6 20.9h0M40.2 20.0h0M31.2 16.9h0M50.9 41.1h0M30.5 22.8h0M4.7 23.1h0M50.6 9.3h0M42.0 9.8h0M38.6 11.0h0M32.1 32.0h0M0.8 34.8h0M28.1 9.4h0M16.1 22.6h0M40.1 6.6h0M2.9 8.9h0M34.2 16.2h0M41.3 30.0h0M19.4 24.1h0M7.1 25.0h0M34.9 9.1h0M36.0 4.9h0M52.9 22.3h0M50.2 27.5h0M10.9 30.2h0M33.1 15.1h0M37.5 31.4h0M36.7 8.3h0M52.6 37.7h0M23.1 38.5h0M54.1 13.7h0M9.6 9.4h0M26.2 5.2h0M12.2 30.2h0M0.0 25.1h0M21.6 29.2h0M13.4 19.4h0M10.8 -0.3h0M47.0 14.6h0M15.4 38.8h0M19.5 22.0h0" stroke="#2616c4" stroke-width="1.7" stroke-linecap="round" fill="none" opacity="0.95"/><path d="M6.8 16.5h0M47.6 34.1h0M44.4 38.0h0M11.8 1.2h0M6.2 26.7h0M29.3 14.7h0M38.5 8.4h0M32.7 16.8h0M6.7 32.0h0M9.2 33.1h0M41.2 17.6h0M24.2 7.7h0M6.7 28.7h0M19.6 23.0h0M19.4 10.3h0M8.0 31.5h0M23.0 5.5h0M47.5 5.6h0M11.7 5.7h0M30.1 32.1h0M0.7 38.4h0M38.0 34.4h0M22.4 17.6h0M4.2 10.2h0M47.3 11.1h0M49.0 34.5h0M50.1 5.0h0M22.5 34.5h0M16.3 9.4h0M0.1 21.7h0M29.5 8.0h0M13.4 26.0h0M8.6 32.5h0M47.4 16.9h0M6.2 23.3h0M15.4 3.5h0M38.4 22.8h0M14.1 9.5h0M39.2 38.1h0M18.5 23.9h0M11.2 18.8h0M31.2 12.0h0M32.6 22.1h0M1.4 4.1h0M22.0 5.3h0M29.3 24.3h0M33.7 36.7h0M32.8 31.9h0M5.4 36.2h0M50.6 24.2h0M44.9 22.4h0M23.1 5.8h0M25.7 29.4h0M43.1 37.1h0M27.8 39.3h0M19.6 -0.2h0M22.7 22.0h0M41.9 8.9h0M0.4 29.8h0M9.6 35.3h0M30.4 4.8h0M27.9 31.9h0M11.4 39.7h0M2.1 5.3h0M32.0 27.8h0M32.4 38.3h0M10.2 1.0h0M28.8 14.0h0M21.0 15.9h0M48.0 11.2h0M37.4 23.2h0M14.8 37.8h0M13.2 11.8h0M9.7 28.9h0M37.5 14.6h0M5.5 24.4h0M17.7 22.5h0M35.4 -0.9h0M1.5 33.9h0M47.2 2.7h0M11.4 17.2h0M45.2 12.2h0M52.1 2.9h0M49.2 1.4h0M32.4 40.4h0M39.1 37.9h0M18.5 39.7h0M49.2 10.7h0M41.8 38.1h0M10.9 15.7h0M41.8 23.4h0M49.9 17.5h0M23.9 6.1h0M14.2 36.3h0M13.5 37.2h0M43.6 23.3h0M15.8 -0.9h0M5.5 34.3h0M52.2 40.0h0M14.6 38.9h0M23.4 14.7h0M49.4 33.9h0M36.7 11.2h0M4.9 6.8h0M13.6 7.2h0M30.7 12.4h0M11.0 36.4h0M19.5 -0.9h0M-0.5 22.5h0M0.6 22.7h0M0.4 19.0h0M33.3 22.0h0M11.0 34.7h0M53.0 33.7h0M50.7 40.4h0M19.4 22.2h0M22.0 32.5h0M8.3 8.6h0M24.0 22.2h0M54.0 13.3h0M-0.8 15.5h0M47.7 3.1h0M27.8 24.5h0M45.6 12.9h0M32.7 39.6h0M53.0 23.1h0M17.8 26.7h0M39.5 28.0h0M36.5 15.4h0M38.7 14.0h0M11.9 3.3h0M29.7 6.3h0M14.7 11.7h0M19.6 16.7h0M53.1 21.4h0M29.5 16.1h0M29.4 33.7h0M28.0 20.8h0M18.5 6.9h0M10.8 2.8h0M14.8 0.7h0M22.1 23.4h0M5.4 31.2h0M24.1 25.6h0M22.9 32.8h0M36.7 4.1h0M29.5 10.3h0M40.4 14.8h0M11.4 0.4h0M53.7 4.1h0M13.0 38.7h0M1.8 16.5h0M23.0 28.0h0M42.4 40.5h0M16.7 2.6h0M11.0 -0.8h0M13.9 25.4h0M48.6 3.2h0M13.9 36.9h0M31.6 16.0h0M3.0 1.4h0M11.1 25.3h0M2.2 20.4h0M44.4 -0.9h0M15.0 16.6h0M32.8 30.3h0M36.7 17.5h0M17.8 25.7h0M24.5 38.6h0M28.4 23.9h0" stroke="#180e88" stroke-width="1.2" stroke-linecap="round" fill="none" opacity="0.9"/><path d="M36.0 19.5l0.0 1.2M32.3 41.5l0.5 0.8M53.1 33.7l-0.1 0.7M8.9 16.7l0.2 0.8M13.2 19.5l-0.1 0.4M35.6 29.2l0.5 0.4M1.1 19.1l-0.4 0.7M31.7 24.8l0.4 0.1M27.1 38.4l-0.5 0.7M13.4 4.6l-0.6 1.2M20.8 2.6l0.8 0.9M41.8 16.1l-0.8 0.3M0.3 7.7l-1.1 0.4M3.8 11.2l0.3 0.9M0.4 38.3l-0.1 0.6M0.7 23.3l-1.2 0.3M46.7 36.2l-0.2 0.3M16.3 23.8l0.2 0.6M2.8 35.9l-0.3 0.6M25.1 36.2l1.0 0.5M11.9 37.5l-1.2 0.9M20.2 20.6l0.4 0.6M51.9 40.3l-1.5 0.0M26.2 27.1l-0.8 0.2M50.0 33.0l0.5 0.6M37.3 6.0l0.4 0.4M4.9 37.7l-1.4 0.0M27.0 30.8l-0.5 0.7M27.9 4.4l0.5 0.5M18.8 27.1l0.4 0.4M47.5 32.3l-1.3 0.3M9.8 19.8l-1.2 0.7M11.7 19.6l-0.1 0.3M12.5 30.6l-0.4 0.8M30.7 21.5l0.2 0.4M40.2 31.9l0.3 1.3M44.9 28.5l-1.3 0.9M1.2 39.1l0.2 1.3M39.9 3.2l-0.1 0.4M39.6 13.4l0.2 0.6M43.9 26.3l0.7 1.0M9.3 33.2l-0.4 1.2M33.2 41.0l-0.5 0.7M31.8 23.1l0.4 0.5M43.3 33.8l-1.2 0.1" stroke="#f4f2ee" stroke-width="0.8" stroke-linecap="round" fill="none" opacity="0.9"/></g></svg>
<svg x="63.5" y="443" width="53.5" height="40.6" viewBox="0 0 53.5 40.6" overflow="hidden"><g filter="url(#bl)"><rect x="-2" y="-2" width="57.5" height="44.6" fill="#7662d0"/><path d="M27.0 15.8h0M38.1 26.7h0M51.4 30.8h0M20.3 10.9h0M1.5 32.2h0M22.7 15.8h0M1.9 20.1h0M48.9 10.8h0M40.3 31.3h0M35.6 24.4h0M12.8 27.7h0M31.4 40.2h0M27.6 14.1h0M49.3 25.6h0M17.9 26.7h0M7.5 7.0h0M48.1 18.7h0M43.5 8.1h0M25.1 9.1h0M43.5 24.4h0M20.8 15.4h0M10.7 8.0h0M37.3 12.3h0M4.8 15.4h0M24.1 41.1h0M20.4 16.2h0M52.9 29.7h0M24.5 16.0h0M11.5 5.5h0M25.2 26.3h0M4.9 19.3h0M8.6 24.6h0M18.1 27.4h0M42.4 16.2h0M20.2 2.4h0M10.8 25.5h0M43.8 4.9h0M53.2 37.9h0M19.3 22.0h0M36.3 13.0h0M19.3 29.7h0M25.9 17.6h0M30.2 4.0h0M25.1 11.5h0M8.3 21.3h0M38.0 21.4h0M26.7 27.5h0M22.4 40.8h0M10.9 -0.6h0M30.6 28.6h0M20.2 16.0h0M18.0 9.4h0M42.9 35.8h0M14.5 23.0h0M24.5 4.6h0M39.7 21.7h0M54.0 37.8h0M49.1 10.2h0M5.1 33.5h0M5.0 28.3h0M8.7 29.0h0M2.0 2.7h0M47.2 21.0h0M24.0 40.4h0M42.5 8.6h0M38.2 15.4h0M24.7 12.3h0M11.6 11.9h0M14.1 7.0h0M47.5 15.1h0M30.1 33.6h0M36.6 5.7h0M51.9 38.7h0M45.6 13.0h0M45.1 26.3h0M0.7 15.1h0M37.7 22.2h0M51.6 32.7h0M45.4 40.8h0M18.0 37.7h0M-0.9 33.0h0M3.9 20.3h0M23.5 2.1h0M34.3 32.5h0M11.4 9.4h0" stroke="#e8509c" stroke-width="1.4" stroke-linecap="round" fill="none" opacity="0.9"/><path d="M41.8 21.5h0M0.0 12.1h0M51.4 10.8h0M15.1 18.2h0M48.2 33.5h0M20.4 27.4h0M0.5 1.8h0M19.6 26.0h0M6.8 0.8h0M46.4 6.9h0M2.0 2.6h0M3.4 11.2h0M31.1 27.0h0M14.9 21.0h0M17.5 23.7h0M5.1 25.6h0M-1.0 38.3h0M10.6 22.6h0M9.5 17.9h0M13.7 26.3h0M42.3 35.0h0M53.1 18.4h0M29.5 14.0h0M15.0 20.6h0M53.0 1.4h0M40.5 12.8h0M32.2 10.3h0M38.9 20.1h0M16.2 18.1h0M-0.7 3.2h0M49.4 2.5h0M21.1 27.5h0M1.0 38.7h0M10.5 40.0h0M23.1 24.0h0M32.5 2.8h0M27.1 30.9h0M42.8 30.3h0M36.8 4.5h0M21.7 20.7h0M1.3 31.6h0M4.7 23.0h0M13.8 5.9h0M51.9 25.4h0M39.7 24.8h0M30.3 36.2h0M2.5 15.1h0M11.2 24.4h0M20.9 38.2h0M11.9 10.5h0M49.9 29.7h0M22.8 14.9h0M39.7 5.3h0M39.1 8.7h0M43.7 2.1h0M49.7 35.7h0M0.4 5.8h0M49.8 33.9h0M15.2 33.1h0M31.2 9.5h0M37.2 16.7h0M6.9 35.3h0M38.8 9.4h0M22.7 28.1h0M19.6 10.0h0M28.2 39.5h0M4.3 9.7h0M25.8 40.9h0M54.1 -0.6h0M34.6 4.9h0M10.5 4.8h0M26.7 41.3h0M52.6 14.6h0M48.9 28.4h0M3.1 37.4h0M14.2 40.7h0M6.3 37.3h0M27.5 21.0h0M9.2 19.8h0M41.2 22.7h0M53.4 21.8h0M49.2 4.7h0M39.9 24.6h0M48.0 13.3h0M24.7 33.6h0M13.2 14.8h0M46.0 26.6h0M26.2 -0.3h0M41.4 16.7h0M12.2 15.4h0M6.6 34.8h0M43.3 40.1h0M36.4 5.9h0M22.5 41.4h0M-0.9 13.6h0M7.3 6.3h0M14.3 25.4h0M2.7 35.9h0M22.9 6.4h0M4.6 21.4h0M18.4 20.3h0M5.0 14.1h0M27.1 2.6h0M26.8 34.8h0M31.7 4.5h0M34.0 2.5h0M6.9 -0.6h0M28.4 6.6h0M14.5 4.1h0M48.7 5.2h0M36.4 33.3h0M23.9 23.8h0M17.5 33.9h0M37.1 2.3h0M38.1 5.0h0M25.7 6.8h0M25.9 26.9h0M39.7 12.9h0M2.0 18.2h0M49.8 22.5h0M33.4 31.6h0M34.4 39.4h0M52.0 30.5h0M43.8 5.0h0M13.7 29.3h0M31.2 35.7h0M42.0 13.1h0M8.5 27.0h0M5.2 20.1h0M14.3 16.1h0" stroke="#c060cc" stroke-width="1.5" stroke-linecap="round" fill="none" opacity="0.9"/><path d="M35.3 26.0l-0.1 0.4M48.6 29.0l-1.2 0.4M34.9 36.8l-0.9 0.9M1.2 0.0l-1.0 1.2M20.5 8.0l0.3 1.5M40.9 4.6l0.5 0.4M40.4 9.7l-0.9 0.3M9.7 16.7l1.5 0.7M0.3 16.8l0.1 0.3M11.3 41.1l-0.8 0.4M47.5 37.7l-1.3 0.6M30.5 20.8l-0.8 0.9M53.0 6.7l-1.4 0.4M23.6 35.1l0.6 0.7M31.0 40.3l1.1 1.1M35.5 38.2l0.8 1.0M48.3 36.7l-0.9 1.3M34.2 22.5l0.9 0.6M53.2 39.3l0.7 0.1M12.3 34.9l1.2 0.8M9.9 13.5l-0.5 0.0M31.3 10.7l-0.3 0.3M36.6 10.0l-0.8 0.1M36.1 0.2l-1.2 0.2M49.7 30.7l1.4 0.3M20.1 7.6l-1.2 0.4M18.4 2.1l-0.2 0.3M12.3 1.1l1.2 0.7M13.8 41.0l1.0 1.2M39.8 26.4l-0.2 0.5M45.0 38.3l-0.1 0.6M3.8 9.9l-0.8 0.1M14.6 21.4l1.5 0.2M42.3 12.1l1.6 0.2M43.9 31.5l1.4 1.1M34.6 0.4l-1.3 0.1M9.2 36.9l-0.4 1.2M0.5 8.1l-0.3 0.2M9.8 2.0l-0.1 0.5M42.5 18.2l-1.3 1.1M52.9 7.2l0.6 1.4M17.5 39.0l0.6 1.1M13.2 29.8l0.6 0.7M39.1 34.3l0.5 0.2M10.8 31.7l-0.7 1.2M43.8 9.0l0.0 0.3M18.5 24.6l1.0 1.1M10.8 17.8l-0.3 0.5M35.8 16.1l0.5 0.1M35.2 34.0l-0.9 1.3M35.9 32.2l-1.0 0.6M28.5 5.9l0.3 0.3M5.2 15.7l0.7 0.9M45.0 10.5l-1.5 0.5M9.7 24.1l0.3 0.2M11.2 7.7l0.3 0.0M43.8 35.9l-0.4 0.2M0.3 35.5l0.3 0.8M37.9 21.6l0.3 0.5M5.4 29.3l-0.3 0.1M11.4 21.4l0.7 0.8M26.9 10.2l0.9 0.3M44.0 4.9l-0.2 1.5M30.7 13.8l-1.4 0.3M54.3 11.8l0.0 1.0M45.6 25.4l-0.2 1.1M48.4 14.0l0.5 0.2M12.5 3.1l-1.1 0.1M43.3 18.3l-0.0 0.6M48.4 16.9l0.4 1.4M47.2 41.5l0.1 0.9M44.8 17.1l0.8 0.6M16.0 10.0l-0.6 0.5M33.7 11.9l1.4 0.5M42.0 29.0l-0.2 0.5M26.8 34.5l-0.9 0.7M34.0 6.3l1.5 0.3M0.0 9.8l0.4 1.3M37.7 35.9l-0.7 0.2M12.8 4.2l0.2 0.4M52.3 23.5l0.0 0.4M49.6 9.4l-0.5 0.4M14.0 4.8l-0.1 0.7M30.7 29.5l0.4 0.3M27.6 16.0l0.1 0.8" stroke="#dcd8f0" stroke-width="1.0" stroke-linecap="round" fill="none" opacity="0.9"/><path d="M8.2 4.2h0M39.4 26.0h0M37.2 26.2h0M27.5 7.4h0M49.7 21.7h0M24.4 10.1h0M19.9 40.8h0M21.5 33.2h0M5.9 24.5h0M14.1 9.0h0M15.9 15.9h0M34.7 16.4h0M46.8 5.6h0M46.5 17.6h0M43.0 15.8h0M13.3 37.1h0M34.3 29.8h0M28.0 29.3h0M52.1 30.6h0M52.8 13.9h0M15.5 36.6h0M45.3 36.9h0M23.2 16.6h0M51.6 7.6h0M8.2 6.3h0M15.8 16.8h0M20.3 18.6h0M1.0 13.6h0M27.2 1.3h0M25.7 37.6h0M35.3 39.3h0M46.7 20.0h0M0.2 1.5h0M31.0 34.9h0M17.4 4.6h0M41.1 22.0h0M25.0 4.4h0M29.7 23.4h0M38.4 37.4h0M3.2 34.4h0M16.8 16.7h0M18.1 33.4h0M23.5 2.0h0M25.3 5.3h0M-0.1 1.2h0M20.1 18.2h0M-1.0 4.8h0M49.1 22.2h0M53.4 22.1h0M52.0 28.5h0M20.5 1.1h0M7.2 32.8h0M35.8 11.7h0M8.1 26.3h0M50.6 9.6h0M54.3 21.8h0M10.5 6.8h0M38.5 38.5h0M10.3 9.1h0M6.9 7.9h0M11.5 16.8h0M12.2 27.2h0M12.3 10.3h0M22.2 6.2h0M1.8 2.9h0M-0.7 27.7h0M1.7 19.4h0M48.3 25.2h0M16.0 16.1h0M22.7 12.7h0M2.0 5.7h0M6.9 7.9h0M17.4 3.4h0M33.2 7.5h0M27.3 28.5h0M26.6 30.6h0M42.3 18.1h0M10.8 0.8h0M37.5 14.7h0M15.1 2.6h0M9.0 37.0h0M25.2 35.1h0M45.9 9.6h0M11.5 36.8h0M12.1 24.5h0M51.0 18.8h0M22.6 39.8h0M46.9 38.5h0M38.2 8.5h0M1.7 -0.1h0M50.2 22.1h0M48.0 39.8h0M12.2 40.3h0M14.2 6.6h0M14.1 41.4h0M51.2 14.0h0M25.8 34.1h0M43.6 37.2h0M19.1 8.9h0M27.5 38.8h0M33.0 36.1h0M9.9 20.6h0M49.9 23.3h0M43.1 33.4h0M23.6 28.4h0M37.4 17.7h0M27.9 33.5h0M47.9 41.0h0M19.4 27.8h0M29.6 35.3h0M12.3 18.9h0M13.2 33.2h0M38.4 -0.7h0M5.0 5.0h0M31.8 32.0h0M18.1 2.4h0M31.5 25.2h0M22.9 10.5h0M18.3 8.9h0M44.1 15.3h0M38.6 22.4h0M11.7 10.9h0M36.2 35.8h0M49.9 5.6h0M13.4 3.2h0M9.5 15.5h0M38.9 38.0h0M31.8 5.2h0M19.9 5.1h0M14.5 23.5h0M26.8 6.3h0M14.3 37.2h0M34.0 24.6h0M16.9 11.7h0M41.3 -0.4h0M35.3 39.7h0M34.3 1.0h0M0.9 32.4h0M9.3 17.0h0M35.2 27.8h0M15.0 28.1h0M49.7 18.9h0M21.0 28.2h0M47.5 28.3h0M50.5 32.3h0M52.1 9.7h0M36.4 7.9h0M5.5 13.5h0M51.5 11.5h0M16.1 38.5h0M53.5 31.3h0M18.6 34.1h0M2.6 -0.6h0M2.5 13.3h0M12.4 35.6h0M23.8 35.3h0M26.1 14.9h0M17.8 1.0h0M24.2 39.5h0M52.9 38.7h0M4.4 17.8h0M45.3 5.6h0M2.6 7.8h0M3.7 30.5h0M38.5 41.1h0M1.8 28.9h0M43.0 6.6h0M3.4 40.7h0M42.9 1.9h0M9.4 27.1h0M8.5 17.6h0M7.3 2.9h0M25.9 22.1h0M46.0 -0.8h0M18.7 2.1h0M29.7 6.0h0M17.4 40.3h0M35.0 27.5h0M32.6 7.6h0M37.0 40.3h0M4.0 34.7h0M18.1 7.6h0M35.4 35.3h0M8.3 7.4h0M26.8 7.7h0M27.1 41.2h0M0.4 17.2h0M10.2 6.1h0M31.7 39.4h0M25.1 22.8h0M37.8 35.6h0M52.7 13.2h0M8.8 38.0h0M32.6 36.6h0M7.1 32.6h0M5.6 4.6h0M5.7 14.4h0M22.0 27.0h0M51.0 17.3h0M31.1 16.5h0M20.2 10.3h0M-0.7 9.9h0M39.1 33.0h0M37.1 17.8h0M21.8 7.1h0M12.5 41.5h0M31.6 16.2h0M28.7 20.0h0M15.3 16.8h0M22.9 37.3h0M48.4 11.3h0M24.3 8.5h0M51.9 4.8h0M25.7 -0.5h0M24.6 18.6h0M-0.2 5.5h0M26.7 19.2h0M15.8 1.3h0M17.0 13.8h0M4.8 24.5h0M11.2 21.7h0M38.4 -0.4h0M26.6 26.1h0M48.6 28.4h0M45.5 27.2h0M11.4 33.7h0M40.9 19.7h0M50.4 1.1h0M49.4 14.2h0M29.1 33.0h0M8.3 20.1h0M-0.2 0.5h0M52.1 8.4h0M22.7 4.1h0M50.7 20.6h0M46.5 10.6h0M24.7 9.5h0M31.7 29.1h0M30.8 23.9h0M16.2 39.6h0M0.1 6.1h0M36.0 40.4h0M46.0 9.5h0M51.4 18.5h0M30.7 26.6h0M33.3 36.5h0M48.9 12.5h0M48.5 12.5h0M37.0 5.7h0M34.4 11.8h0M54.2 27.3h0M20.5 40.0h0M5.4 30.8h0M35.0 -0.3h0M24.5 4.0h0M54.5 3.2h0M34.3 22.1h0M5.9 38.8h0M30.9 25.3h0M13.6 5.6h0M17.1 0.5h0M10.2 20.1h0M20.7 31.4h0M6.9 7.8h0M28.0 28.3h0M16.4 7.8h0M5.9 14.5h0M20.0 32.9h0M12.3 13.5h0M40.4 7.8h0M1.1 40.4h0M49.8 12.5h0M14.7 18.6h0M10.7 32.5h0M48.1 29.3h0M21.2 34.8h0M51.0 6.8h0M36.1 6.4h0M53.7 32.9h0M21.7 30.6h0M15.3 1.7h0M27.5 2.2h0M24.4 35.3h0M31.0 10.3h0M10.8 22.8h0M27.3 37.5h0M8.5 18.9h0M23.8 15.1h0M9.3 15.3h0M29.1 7.3h0M16.8 21.4h0M51.2 19.6h0M18.2 0.5h0M27.7 13.7h0M5.4 19.2h0M33.2 14.0h0M39.8 25.9h0M2.5 1.1h0M28.2 24.8h0M29.9 8.8h0M18.1 29.6h0M21.0 21.5h0M11.7 25.8h0M25.6 -0.9h0M40.9 33.2h0M53.8 39.1h0M38.0 18.9h0M13.7 29.0h0M22.2 12.8h0M5.5 24.8h0M38.4 31.8h0M7.5 7.7h0M34.4 4.5h0M48.2 38.5h0M34.0 10.1h0M30.2 31.6h0M18.1 26.7h0M32.4 37.7h0M42.1 27.5h0M29.2 36.9h0M32.4 28.4h0M16.2 3.6h0M30.0 8.5h0M52.8 8.4h0M48.7 13.2h0M9.6 23.6h0M16.9 41.3h0M33.3 3.3h0M16.2 3.8h0M26.4 21.5h0M16.5 27.7h0M23.7 33.9h0M36.7 10.0h0M45.1 0.3h0M12.1 0.2h0M51.8 21.8h0M45.7 41.2h0M4.1 37.3h0M0.1 28.9h0M43.0 15.4h0M48.4 31.7h0M26.6 11.0h0M7.8 2.2h0M29.0 21.4h0M9.4 21.6h0M3.4 11.9h0M36.1 5.4h0M28.0 4.7h0M48.0 8.0h0M50.7 38.1h0M52.5 11.0h0M36.8 2.0h0M52.9 28.5h0M1.1 4.9h0M4.9 13.8h0M51.0 32.6h0M17.1 33.5h0M-0.4 22.2h0M20.6 2.2h0M50.0 27.0h0M54.3 26.3h0M33.5 4.4h0M25.4 37.2h0M30.0 26.2h0M24.5 14.3h0M-0.3 8.3h0M9.3 2.9h0M2.0 31.2h0M54.2 28.7h0M45.1 7.9h0M46.2 15.2h0M46.4 9.1h0M15.6 21.4h0M11.4 10.0h0M39.3 32.6h0M53.6 26.9h0M18.5 19.0h0M31.5 24.2h0M49.9 23.2h0M52.4 19.4h0M23.8 0.2h0M17.0 19.6h0M-0.4 17.7h0M5.4 10.4h0M48.1 38.0h0M5.3 24.0h0M26.0 1.3h0M15.5 21.8h0M22.6 23.3h0M2.7 25.1h0M32.9 7.1h0M30.5 38.8h0M48.5 25.3h0M27.9 30.9h0M24.2 29.1h0M19.7 22.6h0M39.7 23.9h0M32.5 15.4h0M18.4 26.9h0M23.8 17.8h0M20.0 11.4h0M33.7 36.4h0M9.8 26.7h0M28.5 26.1h0M35.8 16.0h0M-0.4 14.5h0M27.9 25.8h0M50.4 27.0h0M35.3 13.9h0M43.1 4.5h0M48.1 19.9h0M24.2 28.5h0M29.1 41.4h0M5.7 1.7h0M32.0 8.6h0M11.6 41.5h0M28.4 11.5h0M19.2 8.6h0M13.0 4.7h0M53.2 30.3h0M19.0 3.6h0M53.1 36.9h0M4.3 36.0h0M29.6 41.0h0M23.4 17.6h0M-0.5 23.5h0M12.2 36.5h0M11.4 36.6h0M17.5 33.4h0M38.6 38.8h0M30.9 14.3h0M13.6 9.0h0M4.7 11.7h0M16.6 34.1h0M-0.6 20.4h0M27.2 5.7h0M37.5 7.8h0M40.2 6.2h0M47.8 12.3h0M4.2 5.4h0M10.3 4.6h0M16.4 40.4h0M19.8 15.8h0M40.8 2.1h0M3.9 36.1h0M17.2 6.4h0M9.2 30.7h0M53.3 16.0h0M38.5 18.7h0M10.3 12.4h0M17.8 9.7h0M43.0 2.9h0M20.4 30.3h0M0.8 40.0h0M33.1 26.8h0M9.7 7.7h0M45.8 40.5h0M-0.2 33.8h0M10.1 2.3h0M32.1 3.1h0M45.7 35.0h0M14.9 5.2h0M27.5 30.9h0M1.1 29.0h0M5.9 15.1h0M8.2 2.5h0M28.7 11.8h0M49.6 37.5h0M39.3 20.8h0M34.9 13.2h0M25.0 22.3h0M22.4 17.9h0M46.3 41.1h0M39.8 35.6h0M15.9 2.2h0M11.4 20.3h0M41.4 30.3h0M49.8 32.2h0M15.6 1.4h0M25.8 13.1h0M47.3 37.6h0M28.9 32.0h0M39.3 21.1h0M23.5 39.6h0M43.3 23.3h0M53.8 5.3h0M41.7 22.4h0M16.8 4.4h0M31.3 36.0h0M8.8 37.3h0M53.8 7.3h0M29.7 19.7h0M17.6 4.1h0M13.8 39.1h0M45.6 39.5h0M26.7 20.3h0M2.4 17.2h0M31.3 41.3h0M2.6 27.0h0M1.6 40.4h0M10.2 28.6h0M34.2 7.8h0M24.6 17.0h0M8.9 15.9h0M2.5 29.1h0M52.9 22.1h0M21.2 20.9h0M7.0 30.5h0M37.4 3.4h0M20.0 4.2h0M37.9 -0.4h0M47.3 1.8h0M45.4 7.2h0M28.4 29.3h0M51.1 36.3h0M7.5 29.5h0M22.9 6.1h0M24.6 38.9h0M0.1 28.8h0M29.1 36.6h0M25.4 9.6h0M46.2 3.6h0M37.2 11.5h0M2.0 6.2h0M46.2 5.7h0M50.0 5.3h0M50.5 1.2h0M35.6 21.8h0M32.1 38.4h0M11.6 41.3h0" stroke="#2c1cbc" stroke-width="1.8" stroke-linecap="round" fill="none" opacity="0.95"/><path d="M30.6 33.5h0M12.9 41.5h0M39.0 19.1h0M11.1 36.4h0M30.1 41.2h0M48.1 30.9h0M39.1 6.2h0M45.1 29.4h0M4.4 1.9h0M4.6 8.3h0M41.4 31.7h0M37.6 14.7h0M51.1 5.5h0M11.6 17.8h0M13.5 30.4h0M45.3 30.7h0M17.0 23.7h0M16.5 22.4h0M28.5 5.5h0M45.9 33.6h0M42.2 2.9h0M12.0 30.9h0M43.8 25.3h0M50.8 17.2h0M11.6 19.2h0M15.7 15.2h0M42.4 12.8h0M38.6 24.3h0M0.2 20.7h0M47.1 26.6h0M46.2 26.2h0M54.2 0.7h0M22.6 7.4h0M41.0 11.5h0M35.9 26.9h0M-0.0 25.2h0M17.3 9.8h0M34.8 25.9h0M10.9 29.3h0M3.2 1.4h0M48.3 38.5h0M51.6 41.4h0M40.1 23.2h0M28.4 21.8h0M51.4 40.2h0M23.2 7.6h0M28.8 17.0h0M43.9 38.3h0M33.4 2.5h0M28.7 4.5h0M28.8 33.9h0M36.4 18.9h0M7.8 38.7h0M47.4 19.8h0M1.9 27.8h0M21.3 15.9h0M20.0 10.7h0M6.8 26.7h0M27.8 17.4h0M40.6 20.4h0M8.0 10.4h0M30.0 27.4h0M34.2 30.8h0M18.8 31.7h0M31.4 9.8h0M6.0 25.7h0M46.0 39.5h0M44.3 34.1h0M31.7 9.5h0M15.4 35.7h0M14.2 19.6h0M29.5 -0.2h0M5.2 7.5h0M43.2 32.5h0M3.9 5.9h0M53.8 6.1h0M43.4 24.0h0M47.4 30.4h0M4.4 31.8h0M38.7 0.8h0M51.3 11.5h0M24.8 21.4h0M29.8 23.3h0M2.6 35.4h0M28.0 3.2h0M26.9 7.1h0M23.0 29.6h0M40.8 5.9h0M15.0 40.3h0M33.9 6.9h0M32.8 9.6h0M3.1 27.0h0M5.2 5.0h0M36.6 40.2h0M2.8 30.9h0M6.9 1.5h0M-0.1 -0.1h0M39.6 37.7h0M-0.3 5.4h0M1.6 16.3h0M16.9 7.2h0M44.3 3.5h0M34.1 5.1h0M35.3 4.5h0M9.9 41.1h0M13.8 18.2h0M35.7 41.6h0M29.5 4.0h0M36.1 28.1h0M31.4 15.4h0M44.5 1.7h0M29.3 22.2h0M49.9 32.2h0M12.3 15.3h0M32.1 15.2h0M2.5 41.3h0M24.2 5.0h0M7.5 -0.4h0M49.6 5.0h0M30.3 39.2h0M41.6 24.2h0M14.8 27.7h0M43.8 7.8h0M11.7 16.5h0M32.2 36.9h0M31.8 10.4h0M39.3 5.4h0M5.0 -0.6h0M31.0 23.6h0M24.8 22.6h0M9.4 8.0h0M31.5 16.2h0M26.7 38.0h0M24.9 30.7h0M2.4 19.9h0M2.0 7.5h0M9.5 15.4h0M7.8 38.8h0M15.7 12.0h0M2.9 14.7h0M42.5 22.3h0M48.6 25.3h0M34.7 17.2h0M45.4 18.2h0M6.7 8.6h0M43.2 1.5h0M9.0 25.7h0M36.9 18.8h0M35.2 16.9h0M31.7 0.6h0M21.9 40.5h0M30.9 13.5h0M33.6 40.6h0M24.8 16.7h0M44.6 35.2h0M11.5 27.5h0M15.6 14.1h0M43.6 14.5h0M49.8 19.7h0M47.1 4.5h0M21.4 0.4h0M46.6 36.9h0M26.0 18.8h0M52.9 15.5h0M16.0 4.9h0M50.0 33.2h0M28.3 30.1h0M45.4 27.5h0M5.0 26.6h0M47.4 19.3h0M22.7 26.5h0M9.6 8.6h0M36.7 41.3h0M5.3 27.3h0M26.9 0.6h0M8.0 12.0h0M37.4 4.7h0M19.7 25.4h0M40.9 41.4h0M45.5 7.1h0M30.0 24.8h0M29.7 24.4h0M20.2 9.1h0M36.0 36.2h0M36.9 27.0h0M52.2 9.8h0M30.9 34.2h0M35.2 -0.9h0M27.4 33.8h0M10.2 15.8h0M53.5 18.3h0M29.2 24.5h0M46.2 18.4h0M48.9 29.0h0M21.3 25.2h0M15.7 1.2h0M25.9 1.0h0M15.6 34.9h0M52.9 7.4h0M8.2 14.0h0" stroke="#1a1284" stroke-width="1.3" stroke-linecap="round" fill="none" opacity="0.9"/><path d="M24.0 5.0l-0.4 0.3M28.9 10.6l-0.2 0.4M26.4 35.1l0.5 0.0M3.0 34.6l-0.3 0.5M49.0 6.4l0.0 1.1M32.4 1.8l0.5 0.1M51.5 37.3l0.2 0.3M34.2 7.4l-1.2 0.4M42.4 32.1l-0.9 0.8M20.1 29.8l1.1 0.0M23.7 40.9l-0.6 0.5M38.2 23.9l-0.1 0.3M11.5 10.0l-0.8 1.0M33.9 31.3l-0.2 0.4M13.2 23.8l-0.5 0.5M37.6 13.2l0.3 0.4M22.0 23.7l1.2 0.4M-0.5 30.2l0.6 1.2M14.9 0.1l-0.4 0.6M44.4 27.4l0.2 1.0M36.8 13.0l0.8 0.6M30.6 1.0l0.7 0.4M4.0 21.3l0.2 0.6M40.7 30.4l0.9 0.2M54.1 24.8l-0.6 0.0M11.3 12.9l0.4 0.3M13.1 20.3l-1.0 0.6M1.2 31.7l-0.2 0.5M-0.6 35.6l0.5 0.2M15.9 32.9l-1.3 0.2M46.1 35.0l0.0 0.4M12.0 5.0l0.4 0.2M16.7 1.1l0.7 1.0M12.4 20.7l-0.3 0.1M39.4 22.1l1.3 0.1M43.1 3.3l-0.9 0.1M34.2 8.0l1.1 0.1M38.6 6.7l0.9 0.1M16.1 13.7l-0.8 0.4M5.5 28.8l-0.6 0.7M51.9 19.3l-0.2 0.3M15.7 11.8l0.2 0.8M5.4 28.4l0.6 0.1M31.5 0.0l0.6 1.0M39.6 15.0l1.0 0.6M47.2 2.5l0.2 0.9M37.5 7.6l-0.8 0.5M43.3 39.4l-0.6 0.9M15.5 10.6l0.5 1.1M32.1 10.9l-0.8 0.3M53.3 26.8l-0.5 0.5M54.0 19.4l-0.4 0.6M28.0 6.5l0.3 0.7M40.2 5.7l0.8 0.6M25.3 36.6l0.8 0.0M45.1 31.2l0.4 0.8M21.0 -0.8l0.5 0.1M47.4 7.2l0.6 0.7M37.7 26.6l0.4 0.6M-0.3 32.8l0.2 0.6M10.5 20.0l0.6 0.3M4.8 7.1l-0.1 0.7M5.0 36.1l0.7 0.1M15.3 1.5l0.5 0.6M37.2 10.0l0.5 1.2M34.2 18.0l0.9 0.7M50.6 9.2l-0.6 0.3M25.6 0.1l0.4 0.4M10.3 34.2l-0.6 0.1M43.5 11.8l-0.1 0.5" stroke="#a898ea" stroke-width="1.0" stroke-linecap="round" fill="none" opacity="0.9"/><path d="M49.5 21.0l-0.4 1.3M28.1 19.9l-0.6 0.7M31.0 11.7l0.5 0.3M52.9 24.2l0.5 0.0M31.4 20.8l-1.5 0.1M3.0 33.3l-1.3 0.1M51.9 15.2l-0.5 1.1M43.2 29.5l-0.6 0.4M43.1 24.4l-0.7 0.1M33.4 35.7l-0.9 0.8M7.1 5.6l0.6 1.0M0.8 27.1l0.5 0.2M14.4 22.4l-1.0 1.2M11.7 2.6l-1.0 0.5M50.0 29.5l0.7 0.3M11.2 18.2l0.9 1.1M48.7 7.1l-1.6 0.0M20.4 36.2l-1.2 0.2M19.1 25.8l-0.6 0.5M25.4 2.8l1.2 0.6M16.1 28.9l0.3 1.2M14.8 2.7l-0.3 0.5M10.4 18.7l0.0 1.5M37.7 17.6l0.2 1.1M6.2 11.7l-0.5 1.4M32.4 7.9l-1.3 0.1M11.4 14.7l1.3 0.1M11.1 34.2l-0.8 1.0M30.3 9.3l1.1 0.1M-0.3 21.1l-0.4 0.3M23.2 22.1l0.5 0.3M32.9 6.4l0.5 0.3M51.0 37.2l1.0 0.4M21.8 0.3l0.8 0.8M0.1 39.8l0.5 0.6M51.7 4.9l0.8 0.4M16.4 12.6l-0.4 1.5M22.0 0.9l0.5 1.3M23.0 1.6l0.4 0.4M18.5 12.6l-0.6 1.1" stroke="#efeef0" stroke-width="0.8" stroke-linecap="round" fill="none" opacity="0.9"/></g></svg>
<svg x="120.7" y="443" width="53.5" height="40.6" viewBox="0 0 53.5 40.6" overflow="hidden"><g filter="url(#bl)"><rect x="-2" y="-2" width="57.5" height="44.6" fill="#8c68ce"/><path d="M1.5 5.2h0M44.6 36.3h0M42.8 6.6h0M37.5 2.2h0M36.5 8.4h0M45.6 34.9h0M24.9 29.9h0M51.4 37.0h0M34.9 25.2h0M18.8 28.1h0M6.8 18.5h0M3.7 2.9h0M36.1 17.2h0M10.5 39.4h0M15.1 22.0h0M26.2 6.9h0M54.1 31.3h0M48.5 11.8h0M49.6 37.8h0M51.3 6.6h0M7.6 2.6h0M4.0 28.9h0M1.8 18.8h0M18.7 30.0h0M1.6 29.7h0M52.2 11.6h0M21.4 30.6h0M15.9 35.1h0M54.3 8.5h0M25.1 5.2h0M30.0 15.8h0M53.0 30.0h0M54.1 33.5h0M44.8 15.3h0M35.9 3.8h0M18.3 38.2h0M53.4 6.4h0M26.5 16.2h0M33.4 24.3h0M13.5 36.5h0M24.0 32.0h0M39.1 40.8h0M27.6 24.1h0M41.8 8.8h0M1.5 33.6h0M37.5 30.9h0M43.4 7.5h0M47.7 26.3h0M51.4 22.7h0M47.0 1.4h0M8.2 22.6h0M36.1 15.4h0M3.0 36.7h0M3.0 36.9h0M11.9 29.1h0M31.9 9.1h0M17.2 9.3h0M28.6 10.8h0M29.2 11.0h0M5.7 28.7h0M13.5 39.4h0M21.5 10.2h0M38.9 37.4h0M19.6 30.2h0M17.4 41.3h0M15.7 0.6h0M-0.8 22.1h0M33.7 11.2h0M22.0 16.4h0M19.2 7.1h0M29.2 27.4h0M0.5 36.5h0M13.4 19.2h0M11.1 27.7h0M21.5 23.8h0M21.6 20.6h0M3.8 40.8h0M22.6 13.1h0M46.0 11.5h0M42.9 17.1h0M5.5 23.5h0M14.6 7.6h0M53.9 38.9h0M25.2 33.4h0M36.2 11.9h0M6.2 23.8h0M9.6 31.2h0M32.0 8.4h0M42.1 40.2h0M25.6 40.3h0M24.0 -0.3h0M24.7 14.0h0M49.9 21.3h0M52.3 5.9h0M20.3 -0.4h0M1.9 29.3h0M0.8 8.5h0M23.1 38.2h0M12.1 -0.8h0M37.9 28.7h0M6.7 38.5h0M47.0 38.9h0M44.7 22.3h0M37.9 4.3h0M34.7 14.1h0M17.6 12.3h0M3.5 33.5h0M41.4 -0.6h0M27.5 -0.0h0M29.3 6.1h0M52.3 12.6h0M28.1 10.2h0M49.2 -0.6h0M15.8 8.6h0M40.4 14.8h0M46.8 13.0h0M6.0 18.4h0M3.8 5.5h0M28.0 23.5h0M10.9 6.7h0M27.9 18.0h0M25.7 27.6h0M6.8 -0.5h0M2.6 32.9h0M38.0 5.5h0M17.3 12.1h0M50.2 16.6h0M38.6 2.7h0M1.3 8.6h0M34.6 18.0h0" stroke="#ec509e" stroke-width="1.5" stroke-linecap="round" fill="none" opacity="0.9"/><path d="M47.4 34.0h0M35.9 41.5h0M52.3 36.6h0M4.0 16.0h0M7.1 25.1h0M27.0 2.9h0M3.4 18.8h0M33.7 16.3h0M25.2 26.0h0M37.7 29.2h0M22.0 6.3h0M47.3 0.7h0M10.4 7.1h0M32.0 25.5h0M4.5 20.9h0M30.9 28.3h0M3.1 30.0h0M14.0 15.4h0M5.9 34.9h0M33.3 33.6h0M27.6 3.7h0M21.3 2.3h0M4.5 33.3h0M-1.0 15.6h0M1.3 31.6h0M54.0 0.4h0M19.2 40.6h0M12.9 12.2h0M53.8 38.3h0M20.4 27.6h0M43.1 14.1h0M-0.9 14.9h0M37.4 40.1h0M23.5 16.5h0M20.1 24.9h0M0.2 37.9h0M52.0 0.3h0M-0.7 12.4h0M7.1 31.8h0M47.3 22.3h0M51.4 8.7h0M9.9 15.3h0M24.0 7.4h0M50.1 31.0h0M15.0 8.6h0M14.7 15.8h0M35.3 32.1h0M51.7 2.5h0M9.9 15.2h0M51.8 18.5h0M38.9 34.3h0M24.6 15.1h0M42.1 26.3h0M54.1 10.5h0M51.9 19.7h0M47.2 26.3h0M30.3 35.4h0M3.5 11.0h0M26.1 33.9h0M9.3 32.2h0M3.9 13.9h0M24.7 29.5h0M28.0 35.2h0M37.4 15.3h0M27.9 15.6h0M47.4 11.9h0M9.0 9.4h0M12.9 33.5h0M37.1 9.5h0M22.3 37.1h0M52.3 8.5h0M51.4 1.5h0M54.4 12.7h0M52.0 0.3h0M37.2 38.4h0M44.5 23.4h0M7.6 9.1h0M51.3 35.9h0M11.3 13.6h0M33.0 11.9h0M10.8 36.0h0M5.2 26.0h0M21.5 19.0h0M47.4 30.8h0M42.0 -0.3h0M44.0 32.8h0M-1.0 8.6h0M39.5 36.0h0M28.9 36.9h0M3.9 10.1h0M44.5 32.8h0M11.4 23.2h0M23.3 30.5h0M21.1 12.6h0M41.3 28.6h0M19.1 29.4h0M13.6 20.3h0M9.4 13.6h0M22.2 2.8h0M16.3 14.0h0M17.1 20.6h0M48.9 35.2h0M15.4 4.7h0M3.9 36.7h0M41.2 30.5h0M49.4 16.1h0M8.5 2.9h0M21.2 31.7h0M3.7 17.6h0M3.5 8.1h0M29.7 26.7h0M51.3 12.6h0M11.9 1.6h0M9.4 0.5h0M-0.9 3.9h0M28.8 18.5h0M49.3 19.7h0M3.8 5.2h0M37.9 40.8h0M40.6 9.0h0M18.2 17.6h0M23.1 11.0h0M7.6 0.1h0M47.8 40.5h0M53.3 15.2h0M37.1 7.8h0M5.2 -0.9h0M17.5 33.0h0M28.3 9.0h0M25.7 22.0h0M9.8 18.1h0M50.6 18.1h0M54.0 29.8h0M6.1 38.1h0M37.4 17.9h0M9.5 27.1h0M9.6 18.7h0M7.4 16.6h0M52.7 24.5h0M27.5 25.3h0M35.3 24.7h0M14.8 8.1h0M32.7 38.6h0M47.4 19.8h0M15.4 24.0h0M1.6 20.2h0M42.5 40.2h0M4.1 7.5h0M25.6 24.9h0M52.5 3.6h0M6.1 19.6h0M43.0 0.2h0M20.1 29.3h0M22.3 6.6h0M2.9 31.4h0M27.3 21.9h0M36.9 31.5h0M21.3 14.6h0M50.0 2.2h0M42.1 18.6h0M28.6 9.7h0M51.3 11.9h0M16.8 1.5h0M48.5 34.3h0M1.8 5.3h0" stroke="#c860cc" stroke-width="1.6" stroke-linecap="round" fill="none" opacity="0.9"/><path d="M15.0 0.2l0.0 1.6M39.0 20.4l-0.8 0.0M16.6 10.3l-0.3 0.9M5.9 20.0l-1.6 0.2M33.6 35.7l0.0 1.0M37.6 7.6l-0.3 1.0M15.5 20.2l1.1 0.7M5.4 18.0l1.1 0.2M4.4 34.1l1.5 0.1M15.6 39.7l0.3 0.4M36.2 9.4l-0.8 0.6M13.8 24.2l0.5 0.4M3.6 9.1l0.4 0.3M22.1 18.1l-0.3 1.1M36.9 25.1l0.1 1.6M6.9 10.7l1.7 0.1M47.8 16.4l-1.0 0.5M50.7 37.4l0.4 0.6M22.1 39.7l0.1 0.8M0.3 15.4l-0.9 0.2M43.1 37.2l-1.4 0.3M26.6 11.8l-1.5 0.3M40.2 1.4l-0.6 1.2M6.5 12.9l0.1 0.7M5.0 5.5l0.0 0.3M43.0 16.8l0.4 0.5M16.6 24.5l-0.6 0.7M38.7 23.4l-1.2 0.8M41.5 0.0l0.2 0.4M45.1 6.0l-0.8 0.2M7.5 28.7l0.7 0.5M23.4 26.0l-0.1 1.3M43.0 40.2l-0.3 0.9M26.5 13.8l-1.0 0.6M37.7 33.9l-0.9 1.3M24.2 28.7l-1.0 0.4M44.6 10.9l1.4 0.8M29.6 40.0l-0.2 0.7M5.7 37.3l0.4 0.4M28.3 29.6l-0.1 0.4M42.4 27.8l0.9 1.4M26.5 31.7l0.7 0.2M41.0 28.1l-0.8 1.1M0.5 35.4l0.7 0.1M15.8 20.3l0.9 0.3M6.8 13.3l0.2 0.4M43.6 0.3l1.3 1.0M21.5 39.3l0.6 0.9M28.3 16.2l-0.9 0.0M43.2 20.6l0.7 1.4M50.3 -0.3l-0.4 1.4M27.1 16.2l-0.3 0.4M25.4 7.5l-1.3 0.6M21.0 32.5l-0.2 1.3M12.3 31.9l-0.8 1.6M13.6 16.1l-0.5 0.4M41.5 35.2l1.2 0.7M15.1 10.6l0.7 1.3M34.4 15.3l-0.8 1.3M9.9 35.8l-0.1 1.3M46.8 8.1l0.1 1.4M-0.1 15.7l-0.1 1.0M27.0 34.7l1.3 0.5M14.7 2.6l0.1 0.5M24.5 6.2l0.1 0.5M54.3 7.9l0.2 1.2M36.4 4.5l-0.8 0.4M3.6 17.3l-0.3 0.8M39.4 12.3l-1.4 0.9M44.3 1.7l0.3 1.1M20.2 6.9l-0.1 0.5M8.3 16.8l-0.9 0.0M52.6 27.7l-0.7 1.5M31.3 30.5l0.1 1.5M47.6 -1.0l-0.3 0.1M34.5 2.1l-0.7 0.7M6.6 34.9l1.2 1.2M20.3 22.8l0.2 1.4M18.7 20.9l0.6 0.5M5.1 10.1l0.9 1.0M7.1 5.6l-1.3 0.1M3.8 35.8l-0.9 0.8M52.4 21.7l0.3 0.1M4.0 18.8l-0.3 1.5M2.9 2.0l0.8 0.2M50.9 32.3l1.2 0.2M9.0 8.6l0.4 0.6M15.4 8.5l0.6 1.0M30.2 30.1l0.2 0.3M30.7 12.3l0.7 0.6M51.5 24.5l-0.2 0.3M29.2 28.8l-1.3 0.6M1.8 41.1l1.5 0.1M25.1 38.6l-1.4 0.2M3.6 26.6l0.9 0.3" stroke="#e0dcf0" stroke-width="1.1" stroke-linecap="round" fill="none" opacity="0.9"/><path d="M6.2 11.8h0M1.9 22.0h0M4.1 9.4h0M42.1 11.5h0M31.2 35.9h0M34.3 33.9h0M50.7 9.4h0M9.3 41.4h0M49.9 12.7h0M50.4 2.7h0M11.6 35.8h0M4.8 35.7h0M11.4 31.8h0M6.1 20.3h0M30.9 22.8h0M46.9 0.5h0M38.3 35.3h0M28.0 9.0h0M43.3 17.3h0M13.5 31.9h0M41.4 34.1h0M26.4 -0.4h0M0.3 22.5h0M1.0 25.5h0M6.4 32.1h0M0.1 28.4h0M11.4 41.6h0M25.3 21.0h0M46.1 11.1h0M52.9 11.6h0M1.0 10.9h0M19.4 24.4h0M2.7 37.5h0M42.2 30.8h0M53.9 1.2h0M37.1 35.5h0M8.9 16.5h0M10.1 38.4h0M25.2 34.4h0M13.0 24.6h0M40.4 13.6h0M13.9 2.6h0M33.9 16.5h0M10.1 12.6h0M16.7 4.3h0M31.9 5.6h0M11.0 14.4h0M53.9 29.2h0M10.8 35.0h0M51.1 13.1h0M43.3 25.8h0M29.7 37.5h0M36.2 26.6h0M51.0 18.4h0M4.8 -0.7h0M39.1 19.0h0M47.6 40.4h0M13.1 7.5h0M30.8 -0.1h0M4.6 2.2h0M15.5 17.8h0M9.9 28.3h0M41.1 34.5h0M29.3 31.1h0M43.2 30.0h0M16.6 23.5h0M44.8 9.5h0M18.9 -0.5h0M32.4 3.9h0M23.7 7.0h0M5.4 36.8h0M17.3 39.8h0M40.0 24.0h0M25.9 26.7h0M44.0 7.1h0M29.0 10.5h0M9.4 8.3h0M42.8 38.8h0M23.0 6.4h0M8.8 12.1h0M19.6 36.7h0M28.2 19.9h0M33.8 6.5h0M19.6 17.8h0M2.6 12.0h0M30.7 24.7h0M13.8 2.1h0M30.7 5.6h0M-0.8 40.0h0M39.6 38.9h0M16.7 31.8h0M46.3 25.8h0M0.9 10.7h0M19.8 17.7h0M30.8 6.9h0M11.3 -0.1h0M21.3 4.0h0M12.0 -0.2h0M45.8 8.7h0M27.2 23.6h0M1.3 22.3h0M43.5 9.2h0M34.0 29.9h0M30.1 14.2h0M27.4 27.4h0M23.3 30.4h0M40.6 31.0h0M23.1 5.2h0M8.6 11.6h0M30.2 1.5h0M16.2 5.3h0M28.7 7.6h0M44.7 1.7h0M18.8 30.8h0M45.3 15.7h0M51.3 36.4h0M30.2 13.1h0M9.7 28.3h0M2.3 26.7h0M11.7 7.0h0M33.2 15.6h0M2.1 5.3h0M42.8 15.6h0M42.3 25.3h0M-0.8 13.6h0M32.3 9.4h0M6.4 41.6h0M17.0 27.1h0M23.5 41.1h0M11.6 0.3h0M35.0 28.5h0M45.4 3.7h0M8.8 19.2h0M14.5 4.5h0M6.8 0.8h0M22.8 4.7h0M0.6 3.0h0M38.0 26.5h0M18.1 33.3h0M1.5 16.8h0M50.8 1.3h0M7.3 19.4h0M18.5 1.9h0M45.6 32.7h0M31.5 16.7h0M29.9 20.3h0M30.6 12.7h0M44.2 21.1h0M12.1 23.9h0M42.2 20.2h0M17.0 22.2h0M37.3 6.8h0M48.2 16.4h0M22.2 21.1h0M41.2 6.3h0M9.2 19.8h0M-0.1 17.5h0M6.1 7.5h0M19.3 37.2h0M33.0 10.9h0M34.4 20.7h0M-0.9 17.7h0M38.0 33.4h0M52.6 -0.3h0M27.5 15.2h0M23.7 33.9h0M23.3 22.1h0M41.1 36.0h0M31.4 21.5h0M4.6 15.0h0M9.6 31.9h0M36.3 4.8h0M31.2 36.2h0M46.1 15.0h0M19.3 21.6h0M22.2 40.5h0M46.3 37.1h0M54.5 3.5h0M51.5 14.4h0M13.5 24.6h0M21.1 7.9h0M53.1 6.8h0M3.7 15.7h0M44.8 33.3h0M24.2 16.2h0M6.7 33.0h0M41.1 8.3h0M36.1 37.0h0M18.9 8.9h0M40.3 25.5h0M20.9 -0.8h0M17.0 29.0h0M9.4 19.5h0M41.7 13.8h0M6.0 27.8h0M37.0 24.9h0M49.4 14.8h0M27.3 18.3h0M46.5 13.1h0M12.4 14.7h0M44.7 30.6h0M9.4 33.8h0M53.8 13.4h0M42.8 28.5h0M33.2 8.9h0M-0.9 36.0h0M17.4 34.1h0M46.4 35.5h0M39.7 29.9h0M44.5 39.1h0M50.0 36.5h0M16.9 38.2h0M4.1 6.8h0M47.1 22.3h0M51.9 13.1h0M2.7 5.4h0M48.0 33.4h0M22.8 26.9h0M1.0 38.9h0M14.7 7.5h0M26.0 19.4h0M26.1 29.6h0M9.2 32.9h0M17.1 16.0h0M48.8 30.5h0M39.4 32.8h0M22.5 13.8h0M28.0 35.1h0M8.7 28.9h0M25.4 39.2h0M38.4 38.3h0M21.9 18.7h0M12.8 7.8h0M16.4 8.1h0M33.7 23.2h0M39.9 31.0h0M52.8 21.5h0M33.2 21.5h0M25.5 13.5h0M16.2 13.2h0M27.2 17.9h0M29.4 27.5h0M53.8 23.8h0M54.0 12.5h0M32.8 23.8h0M24.0 18.6h0M12.1 40.8h0M3.2 33.4h0M25.6 13.8h0M16.0 39.3h0M17.6 23.6h0M22.1 27.2h0M29.9 21.7h0M4.9 0.1h0M35.1 -0.9h0M27.8 10.9h0M40.1 12.8h0M1.7 5.8h0M17.4 26.5h0M38.1 34.4h0M52.0 22.7h0M1.6 27.4h0M18.7 24.8h0M8.7 15.9h0M12.5 27.9h0M51.6 14.7h0M27.0 26.1h0M41.4 14.3h0M13.9 26.9h0M16.2 20.2h0M33.9 22.7h0M53.0 13.9h0M10.9 16.3h0M48.8 35.5h0M2.3 6.4h0M12.1 32.2h0M37.4 6.1h0M42.9 35.9h0M44.2 13.8h0M44.5 10.1h0M50.7 5.0h0M20.8 12.0h0M44.5 31.6h0M28.5 21.9h0M15.2 24.0h0M1.6 29.8h0M52.0 18.5h0M24.7 23.9h0M20.1 38.5h0M10.9 19.8h0M37.4 30.8h0M16.0 4.2h0M37.3 4.4h0M44.8 -0.2h0M47.9 33.7h0M27.1 36.9h0M42.2 27.6h0M13.4 2.8h0M5.5 3.1h0M36.5 28.9h0M51.5 15.3h0M19.2 35.7h0M42.9 40.7h0M-0.5 39.7h0M21.9 33.0h0M10.5 22.1h0M40.8 29.7h0M37.6 2.8h0M49.8 1.3h0M44.5 23.1h0M33.5 8.5h0M42.8 31.4h0M12.8 38.6h0M22.1 35.6h0M11.9 14.9h0M10.8 0.5h0M6.9 5.5h0M27.7 19.6h0M4.9 38.1h0M34.2 21.1h0M14.2 16.8h0M49.5 17.1h0M26.9 38.3h0M21.2 35.4h0M2.8 29.2h0M5.7 10.6h0M3.7 36.5h0M48.6 32.8h0M26.7 3.8h0M27.9 37.3h0M39.0 -0.9h0M53.8 39.4h0M31.6 -0.1h0M38.6 25.6h0M-0.8 17.9h0M-0.0 1.6h0M36.7 31.6h0M17.0 5.7h0M14.2 8.7h0M29.9 10.6h0M49.6 -0.3h0M11.8 25.6h0M23.8 2.5h0M20.5 11.0h0M43.3 9.2h0M34.5 27.7h0M22.1 0.9h0M28.7 3.6h0M12.3 38.4h0M8.7 39.8h0M7.8 0.3h0M0.7 34.7h0M48.7 10.6h0M18.2 13.5h0M34.2 11.9h0M25.0 26.8h0M14.3 4.7h0M35.3 26.8h0M-0.8 17.4h0M46.0 24.3h0M36.5 40.6h0M10.3 15.8h0M7.2 37.3h0M31.5 36.2h0M35.5 13.5h0M38.4 10.5h0M27.0 25.7h0M42.1 9.5h0M40.9 22.1h0M33.8 3.1h0M28.2 2.9h0M34.0 32.8h0M20.3 17.5h0M33.6 22.8h0M53.4 34.9h0M37.1 13.9h0M2.1 27.8h0M11.4 29.0h0M35.2 35.7h0M2.3 19.5h0M17.9 13.6h0M13.3 34.5h0M24.3 22.4h0M5.5 22.7h0M34.1 4.3h0M17.8 10.4h0M29.7 2.4h0M53.6 15.6h0M50.4 0.5h0M40.7 37.3h0M23.4 15.0h0M33.5 12.0h0M12.7 37.9h0M34.7 20.2h0M24.5 32.9h0M40.0 11.0h0M16.3 16.5h0M2.1 16.9h0M5.4 27.4h0M17.5 12.9h0M11.1 9.7h0M11.7 36.7h0M24.2 22.3h0M16.7 39.6h0M32.2 6.2h0M36.8 -1.0h0M54.2 30.6h0M10.9 17.3h0M49.5 32.0h0M42.6 23.7h0M9.9 26.8h0M31.1 5.4h0M2.1 21.4h0M49.9 13.0h0M34.4 3.4h0M47.7 36.8h0M15.7 29.6h0M40.1 17.4h0M47.9 1.0h0M15.0 4.0h0M44.9 30.5h0M11.7 27.1h0M27.4 23.2h0M22.1 23.1h0M30.1 12.6h0M19.4 6.0h0M34.0 34.0h0M11.7 24.1h0M20.6 6.7h0M2.5 0.6h0M40.3 4.7h0M14.6 20.7h0M10.0 23.7h0M25.3 8.5h0M36.7 26.3h0M51.8 13.3h0M42.1 25.6h0M30.7 0.6h0M16.1 17.3h0M1.5 3.2h0M44.7 3.7h0M30.1 9.2h0M28.2 15.7h0M13.8 18.5h0M14.4 39.2h0M24.5 4.4h0M40.2 6.0h0M40.3 32.0h0M50.2 21.1h0M40.5 32.7h0" stroke="#3020b8" stroke-width="1.8" stroke-linecap="round" fill="none" opacity="0.95"/><path d="M44.2 24.8h0M48.6 30.7h0M20.2 14.7h0M45.6 38.5h0M19.9 38.3h0M43.1 28.6h0M17.8 10.7h0M15.1 28.2h0M24.7 8.5h0M7.1 33.5h0M9.6 6.3h0M28.5 1.3h0M21.5 7.7h0M46.7 22.6h0M26.4 19.0h0M0.0 34.9h0M51.4 -0.7h0M30.4 32.5h0M46.0 39.8h0M49.2 36.7h0M7.1 41.4h0M53.7 26.4h0M47.7 10.1h0M23.0 3.6h0M25.2 41.2h0M38.1 18.6h0M16.5 8.0h0M22.9 11.3h0M26.1 23.3h0M21.5 24.3h0M22.0 20.2h0M26.0 34.9h0M48.7 23.9h0M41.1 11.9h0M8.0 12.4h0M6.7 31.6h0M49.9 26.4h0M11.1 4.6h0M41.8 23.5h0M7.1 41.3h0M40.8 40.0h0M53.6 32.4h0M50.6 39.2h0M7.9 13.8h0M28.8 26.2h0M7.4 10.6h0M41.9 40.2h0M25.4 38.7h0M47.6 37.4h0M9.5 15.4h0M35.8 33.6h0M45.2 4.1h0M36.6 0.1h0M16.2 1.2h0M27.4 4.4h0M35.6 16.4h0M43.9 12.8h0M54.0 4.1h0M3.5 20.3h0M26.9 35.0h0M0.5 6.7h0M12.6 17.5h0M44.6 27.3h0M12.2 15.5h0M41.6 22.7h0M5.0 14.4h0M0.3 18.4h0M11.8 11.8h0M17.8 35.8h0M3.6 2.8h0M6.3 17.2h0M23.1 38.7h0M39.3 10.4h0M6.3 22.3h0M45.2 8.6h0M41.5 14.5h0M52.1 39.7h0M8.7 33.3h0M31.8 15.5h0M27.7 37.6h0M25.7 23.0h0M26.5 0.1h0M41.1 3.5h0M48.9 -0.7h0M30.5 9.9h0M37.0 25.6h0M40.4 33.9h0M53.8 4.0h0M11.7 19.6h0M50.5 15.9h0M10.5 21.3h0M16.5 2.3h0M43.8 18.4h0M45.8 3.4h0M17.7 4.0h0M45.9 18.0h0M32.6 1.2h0M23.4 15.5h0M38.1 9.1h0M53.6 13.0h0M27.5 19.1h0M18.1 1.4h0M1.2 37.9h0M53.4 25.2h0M6.4 7.3h0M16.7 0.4h0M18.0 11.0h0M17.1 34.7h0M30.0 41.6h0M16.0 2.0h0M41.3 30.0h0M44.4 14.8h0M44.2 3.2h0M39.1 28.5h0M30.4 25.2h0M24.7 17.3h0M25.4 24.9h0M46.0 13.3h0M29.9 15.6h0M8.5 29.0h0M-0.6 36.4h0M1.7 6.2h0M40.4 17.5h0M15.6 19.8h0M50.7 26.5h0M19.0 39.4h0M12.6 3.0h0M39.7 33.2h0M43.2 15.9h0M36.8 8.0h0M13.9 39.1h0M46.2 39.3h0M29.6 29.3h0M19.1 15.9h0M50.5 30.7h0M51.1 5.4h0M21.9 38.1h0M50.4 33.9h0M48.2 10.3h0M38.6 3.5h0M24.4 -0.5h0M23.0 7.3h0M21.7 27.6h0M36.5 36.6h0M50.8 12.1h0M17.5 16.9h0M13.1 34.9h0M43.0 27.3h0M35.0 11.5h0M14.4 31.4h0M4.1 41.2h0M7.0 7.9h0M41.2 37.8h0M7.7 39.0h0M27.3 4.3h0M29.3 8.9h0M34.9 25.8h0M45.3 38.2h0M46.9 27.7h0M39.5 36.0h0" stroke="#1c1486" stroke-width="1.2" stroke-linecap="round" fill="none" opacity="0.9"/><path d="M45.5 20.1l-1.3 0.3M9.9 8.0l-0.3 0.8M22.4 20.2l0.6 0.5M31.9 31.1l-0.2 0.3M10.6 19.6l-0.5 0.4M40.0 8.8l0.7 1.0M9.9 34.8l-0.1 0.3M25.1 22.0l0.7 0.3M25.9 19.2l-0.7 0.2M48.8 11.5l-0.3 0.3M31.4 30.8l-0.3 0.2M40.3 5.6l-0.6 0.1M46.4 6.0l-0.9 0.0M11.3 38.0l-0.9 0.7M22.8 8.9l-0.5 1.1M39.9 29.3l0.8 0.2M15.1 21.7l-0.5 0.8M-0.8 12.1l0.5 0.6M14.8 7.2l0.6 0.5M48.0 8.2l-1.0 0.1M48.7 36.7l-0.9 0.9M9.8 25.9l0.2 0.4M14.3 26.5l0.4 0.2M46.0 33.7l0.5 0.1M-0.8 21.7l-0.5 0.0M31.0 17.8l-0.6 0.7M39.6 3.5l-1.2 0.1M5.0 -0.6l-1.0 0.6M20.1 38.6l-0.3 0.8M1.3 19.7l0.3 0.7M18.1 35.2l0.2 0.4M12.9 34.6l-0.0 0.7M47.6 40.9l0.1 0.4M16.8 3.8l-1.0 0.4M16.8 26.6l-1.2 0.6M8.6 18.6l-0.4 0.7M28.4 18.5l0.3 0.9M20.9 11.6l0.3 1.1M7.6 19.1l1.0 0.9M-0.5 13.8l-1.1 0.1M12.1 30.3l-0.0 0.4M4.8 0.9l0.5 0.6M52.9 36.9l-0.2 1.0M33.5 33.6l0.4 0.9M11.1 8.7l0.5 0.6M15.5 24.5l0.6 0.1M32.6 32.9l-0.6 0.5M33.6 0.1l-1.0 0.2M43.0 3.5l0.2 0.6M45.8 31.4l1.2 0.7M10.4 4.7l-0.1 0.8M52.0 1.0l-1.0 0.3M16.6 5.5l-0.2 0.3M15.2 2.5l0.6 1.2M45.9 22.5l-0.4 0.9" stroke="#b4a2ec" stroke-width="1.0" stroke-linecap="round" fill="none" opacity="0.9"/><path d="M42.6 34.4l-1.5 0.2M18.0 39.4l0.3 0.3M35.1 1.0l-1.5 0.6M43.5 10.0l-0.0 0.4M23.8 34.1l0.4 0.3M18.7 14.0l0.4 0.6M2.9 26.4l0.0 1.1M17.1 37.5l-0.8 0.7M20.3 35.3l0.2 0.8M30.5 1.4l0.0 0.4M50.0 32.7l0.5 0.2M35.9 22.1l0.2 0.8M11.5 16.5l0.4 0.1M12.1 0.1l0.4 0.4M18.7 24.2l-1.2 0.0M44.5 22.8l-0.8 0.8M-0.5 14.6l1.1 0.5M19.2 17.5l1.4 0.7M14.4 5.0l0.3 0.7M9.5 28.7l0.1 0.3M51.7 4.2l-1.4 0.6M29.3 31.6l0.6 0.0M43.0 28.6l0.6 0.2M3.2 32.7l-0.3 0.7M30.4 20.3l0.7 0.7M-0.6 29.6l-0.5 0.1M23.2 24.3l-0.7 1.1M17.3 31.0l0.6 1.2M27.2 23.4l-0.5 0.2M26.7 13.8l1.3 0.3M9.9 6.0l1.2 0.5M38.1 13.0l0.0 0.8M26.4 0.6l1.0 1.2M16.8 28.8l-0.3 0.8M33.5 28.6l-0.3 1.3M15.7 8.8l0.2 1.3M26.6 -0.8l0.2 1.5M8.3 23.4l0.6 0.8M41.4 13.0l0.8 0.5M53.6 0.1l0.3 0.5" stroke="#f2f0ee" stroke-width="0.8" stroke-linecap="round" fill="none" opacity="0.9"/></g></svg>
<text x="58.50" y="393.00" font-size="3.8" text-anchor="end" fill="#fff" opacity="0.8">40×</text>
<text x="58.50" y="448.20" font-size="3.8" text-anchor="end" fill="#fff" opacity="0.8">40×</text>
<text x="115.50" y="393.00" font-size="3.8" text-anchor="end" fill="#fff" opacity="0.8">40×</text>
<text x="115.50" y="448.20" font-size="3.8" text-anchor="end" fill="#fff" opacity="0.8">40×</text>
<text x="172.70" y="393.00" font-size="3.8" text-anchor="end" fill="#fff" opacity="0.8">40×</text>
<text x="172.70" y="448.20" font-size="3.8" text-anchor="end" fill="#fff" opacity="0.8">40×</text>
</g>
</svg>
<div id="frame"></div>
</body></html>
